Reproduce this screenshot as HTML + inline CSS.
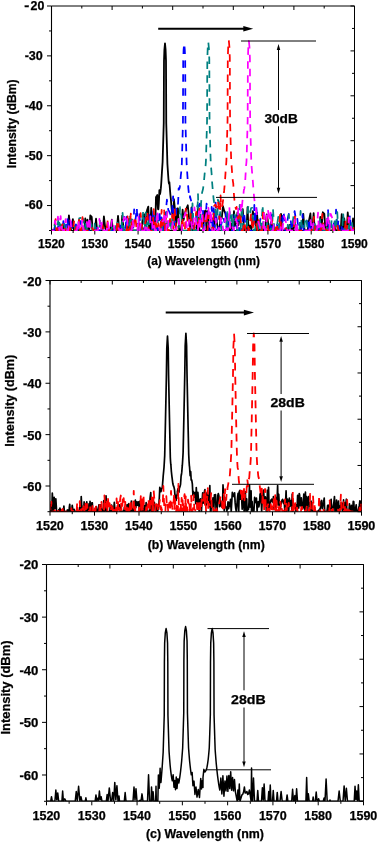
<!DOCTYPE html>
<html><head><meta charset="utf-8"><style>
html,body{margin:0;padding:0;background:#fff;width:378px;height:842px;overflow:hidden}
svg{display:block;will-change:transform}
text{font-family:"Liberation Sans", sans-serif;font-weight:bold;font-size:12px;fill:#000;stroke:#000;stroke-width:0.25px}
</style></head><body>
<svg width="378" height="842" viewBox="0 0 378 842">
<rect width="378" height="842" fill="#fff"/>
<line x1="51.5" y1="6" x2="354.5" y2="6" stroke="#000" stroke-width="1"/>
<line x1="354.5" y1="6" x2="354.5" y2="230.5" stroke="#000" stroke-width="1"/>
<line x1="47" y1="6" x2="51.5" y2="6" stroke="#000" stroke-width="1"/>
<text x="24.39" y="9.9" font-size="12.8" textLength="5.06" lengthAdjust="spacingAndGlyphs">-</text>
<text x="30.53" y="9.87" font-size="12.68" textLength="13.8" lengthAdjust="spacingAndGlyphs">20</text>
<line x1="49" y1="30.94" x2="51.5" y2="30.94" stroke="#000" stroke-width="1"/>
<line x1="47" y1="55.89" x2="51.5" y2="55.89" stroke="#000" stroke-width="1"/>
<text x="24.66" y="59.73" font-size="12" textLength="18.21" lengthAdjust="spacingAndGlyphs">-30</text>
<line x1="49" y1="80.83" x2="51.5" y2="80.83" stroke="#000" stroke-width="1"/>
<line x1="47" y1="105.78" x2="51.5" y2="105.78" stroke="#000" stroke-width="1"/>
<text x="24.66" y="109.62" font-size="12" textLength="18.21" lengthAdjust="spacingAndGlyphs">-40</text>
<line x1="49" y1="130.72" x2="51.5" y2="130.72" stroke="#000" stroke-width="1"/>
<line x1="47" y1="155.67" x2="51.5" y2="155.67" stroke="#000" stroke-width="1"/>
<text x="24.66" y="159.51" font-size="12" textLength="18.21" lengthAdjust="spacingAndGlyphs">-50</text>
<line x1="49" y1="180.61" x2="51.5" y2="180.61" stroke="#000" stroke-width="1"/>
<line x1="47" y1="205.56" x2="51.5" y2="205.56" stroke="#000" stroke-width="1"/>
<text x="24.66" y="209.4" font-size="12" textLength="18.21" lengthAdjust="spacingAndGlyphs">-60</text>
<line x1="49" y1="230.5" x2="51.5" y2="230.5" stroke="#000" stroke-width="1"/>
<line x1="51.5" y1="230.5" x2="51.5" y2="234.5" stroke="#000" stroke-width="1"/>
<text x="37.99" y="247.69" font-size="12.7" textLength="26.84" lengthAdjust="spacingAndGlyphs">1520</text>
<line x1="73.14" y1="230.5" x2="73.14" y2="233" stroke="#000" stroke-width="1"/>
<line x1="94.79" y1="230.5" x2="94.79" y2="234.5" stroke="#000" stroke-width="1"/>
<text x="81.27" y="247.69" font-size="12.7" textLength="26.84" lengthAdjust="spacingAndGlyphs">1530</text>
<line x1="116.43" y1="230.5" x2="116.43" y2="233" stroke="#000" stroke-width="1"/>
<line x1="138.07" y1="230.5" x2="138.07" y2="234.5" stroke="#000" stroke-width="1"/>
<text x="124.56" y="247.69" font-size="12.7" textLength="26.84" lengthAdjust="spacingAndGlyphs">1540</text>
<line x1="159.71" y1="230.5" x2="159.71" y2="233" stroke="#000" stroke-width="1"/>
<line x1="181.36" y1="230.5" x2="181.36" y2="234.5" stroke="#000" stroke-width="1"/>
<text x="167.84" y="247.69" font-size="12.7" textLength="26.84" lengthAdjust="spacingAndGlyphs">1550</text>
<line x1="203" y1="230.5" x2="203" y2="233" stroke="#000" stroke-width="1"/>
<line x1="224.64" y1="230.5" x2="224.64" y2="234.5" stroke="#000" stroke-width="1"/>
<text x="211.13" y="247.69" font-size="12.7" textLength="26.84" lengthAdjust="spacingAndGlyphs">1560</text>
<line x1="246.29" y1="230.5" x2="246.29" y2="233" stroke="#000" stroke-width="1"/>
<line x1="267.93" y1="230.5" x2="267.93" y2="234.5" stroke="#000" stroke-width="1"/>
<text x="254.42" y="247.69" font-size="12.7" textLength="26.84" lengthAdjust="spacingAndGlyphs">1570</text>
<line x1="289.57" y1="230.5" x2="289.57" y2="233" stroke="#000" stroke-width="1"/>
<line x1="311.21" y1="230.5" x2="311.21" y2="234.5" stroke="#000" stroke-width="1"/>
<text x="297.7" y="247.69" font-size="12.7" textLength="26.84" lengthAdjust="spacingAndGlyphs">1580</text>
<line x1="332.86" y1="230.5" x2="332.86" y2="233" stroke="#000" stroke-width="1"/>
<line x1="354.5" y1="230.5" x2="354.5" y2="234.5" stroke="#000" stroke-width="1"/>
<text x="340.99" y="247.69" font-size="12.7" textLength="26.84" lengthAdjust="spacingAndGlyphs">1590</text>
<line x1="51.5" y1="6" x2="51.5" y2="10" stroke="#000" stroke-width="1"/>
<line x1="81.8" y1="6" x2="81.8" y2="8.5" stroke="#000" stroke-width="1"/>
<line x1="112.1" y1="6" x2="112.1" y2="10" stroke="#000" stroke-width="1"/>
<line x1="142.4" y1="6" x2="142.4" y2="8.5" stroke="#000" stroke-width="1"/>
<line x1="172.7" y1="6" x2="172.7" y2="10" stroke="#000" stroke-width="1"/>
<line x1="203" y1="6" x2="203" y2="8.5" stroke="#000" stroke-width="1"/>
<line x1="233.3" y1="6" x2="233.3" y2="10" stroke="#000" stroke-width="1"/>
<line x1="263.6" y1="6" x2="263.6" y2="8.5" stroke="#000" stroke-width="1"/>
<line x1="293.9" y1="6" x2="293.9" y2="10" stroke="#000" stroke-width="1"/>
<line x1="324.2" y1="6" x2="324.2" y2="8.5" stroke="#000" stroke-width="1"/>
<line x1="354.5" y1="6" x2="354.5" y2="10" stroke="#000" stroke-width="1"/>
<line x1="350.5" y1="6" x2="354.5" y2="6" stroke="#000" stroke-width="1"/>
<line x1="352" y1="28.45" x2="354.5" y2="28.45" stroke="#000" stroke-width="1"/>
<line x1="350.5" y1="50.9" x2="354.5" y2="50.9" stroke="#000" stroke-width="1"/>
<line x1="352" y1="73.35" x2="354.5" y2="73.35" stroke="#000" stroke-width="1"/>
<line x1="350.5" y1="95.8" x2="354.5" y2="95.8" stroke="#000" stroke-width="1"/>
<line x1="352" y1="118.25" x2="354.5" y2="118.25" stroke="#000" stroke-width="1"/>
<line x1="350.5" y1="140.7" x2="354.5" y2="140.7" stroke="#000" stroke-width="1"/>
<line x1="352" y1="163.15" x2="354.5" y2="163.15" stroke="#000" stroke-width="1"/>
<line x1="350.5" y1="185.6" x2="354.5" y2="185.6" stroke="#000" stroke-width="1"/>
<line x1="352" y1="208.05" x2="354.5" y2="208.05" stroke="#000" stroke-width="1"/>
<line x1="350.5" y1="230.5" x2="354.5" y2="230.5" stroke="#000" stroke-width="1"/>
<text x="147.31" y="265.24" font-size="12.66" textLength="112.67" lengthAdjust="spacingAndGlyphs">(a) Wavelength (nm)</text>
<text transform="translate(16.34,168.26) rotate(-90)" font-size="12.66" textLength="88.94" lengthAdjust="spacingAndGlyphs">Intensity (dBm)</text>
<line x1="51.5" y1="230.5" x2="354.5" y2="230.5" stroke="#000" stroke-width="1.1"/>
<clipPath id="c1"><rect x="51.5" y="6" width="303" height="225.1"/></clipPath>
<g clip-path="url(#c1)" fill="none" stroke-linejoin="round">
<path d="M50.96,230.5 L61.95,230.5 L63.17,228.83 L64.19,224.27 L65.35,230.5 L67.76,230.5 L68.93,215.31 L70.48,230.5 L71.83,228.14 L72.88,219.14 L74.01,230.5 L75.13,230.5 L76.58,228.46 L78.07,230.5 L82.99,230.5 L84.38,227.81 L85.29,218.48 L86.26,230.5 L87.42,219.56 L88.36,230.5 L89.28,230.5 L90.27,215.46 L91.69,216.9 L92.68,230.5 L95.05,230.5 L96.04,218.76 L97.12,230.5 L102.93,230.5 L103.9,216.33 L105.33,228.7 L106.71,230.5 L110.31,230.5 L111.84,219.74 L112.86,230.5 L114.13,228.9 L115.49,227.97 L116.73,230.5 L118.02,215.91 L119,227.22 L120.17,228.82 L121.27,230.5 L122.21,215.74 L123.75,230.5 L127.53,230.5 L129.06,218.96 L130.25,230.5 L141.55,230.5 L142.84,216.22 L144.11,214.24 L145.67,230.5 L147.03,210.19 L148.29,206.59 L149.19,230.5 L150.05,230.5 L151.24,207.78 L152.44,230.5 L153,229.05 L153.04,228.63 L153.08,228.21 L153.12,227.78 L153.16,227.34 L153.2,226.9 L153.24,226.45 L153.28,226 L153.32,225.54 L153.36,225.08 L153.4,224.61 L153.44,224.13 L153.48,223.65 L153.52,223.16 L153.56,222.67 L153.6,222.17 L153.64,221.66 L153.68,221.15 L153.72,220.63 L153.76,220.11 L153.8,219.58 L153.84,219.04 L153.88,218.5 L153.92,217.95 L153.94,217.66 L153.96,217.94 L154,218.5 L154.04,219.04 L154.08,219.56 L154.12,220.05 L154.16,220.51 L154.2,220.95 L154.24,221.37 L154.28,221.77 L154.32,222.14 L154.36,222.49 L154.4,222.82 L154.44,223.12 L154.48,223.41 L154.52,223.67 L154.56,223.92 L154.6,224.14 L154.64,224.34 L154.68,224.53 L154.72,224.7 L154.76,224.85 L154.8,224.98 L154.84,225.1 L154.88,225.2 L154.92,225.29 L154.96,225.37 L155,225.42 L155,225.39 L155.04,224.83 L155.08,224.24 L155.12,223.6 L155.16,222.93 L155.2,222.21 L155.24,221.45 L155.28,220.64 L155.32,219.77 L155.36,218.86 L155.4,217.89 L155.44,216.86 L155.48,215.77 L155.52,214.63 L155.56,213.42 L155.6,212.15 L155.64,210.82 L155.68,209.43 L155.72,207.97 L155.76,206.46 L155.8,204.88 L155.84,203.24 L155.88,201.55 L155.92,199.8 L155.96,198 L155.98,196.92 L156,196.9 L156.04,196.86 L156.08,196.81 L156.12,196.77 L156.16,196.72 L156.2,196.68 L156.24,196.63 L156.28,196.59 L156.32,196.54 L156.36,196.49 L156.4,196.45 L156.44,196.4 L156.48,196.35 L156.52,196.3 L156.56,196.25 L156.6,196.21 L156.64,196.16 L156.68,196.11 L156.72,196.06 L156.76,196.01 L156.8,195.96 L156.84,195.91 L156.88,195.86 L156.92,195.81 L156.96,195.75 L157,195.7 L157.04,195.62 L157.08,195.53 L157.12,195.44 L157.16,195.36 L157.2,195.27 L157.24,195.18 L157.28,195.09 L157.3,195.04 L157.32,195.78 L157.36,197.12 L157.4,198.38 L157.44,199.57 L157.48,200.69 L157.52,201.73 L157.56,202.69 L157.6,203.59 L157.64,204.4 L157.68,205.14 L157.72,205.81 L157.76,206.42 L157.8,206.95 L157.84,207.42 L157.88,207.83 L157.92,208.18 L157.96,208.48 L158,208.73 L158.04,208.92 L158.08,209.08 L158.12,209.19 L158.16,209.27 L158.2,209.31 L158.28,209.3 L158.32,209.26 L158.36,209.19 L158.37,209.16 L158.4,208.87 L158.44,208.42 L158.48,207.95 L158.52,207.46 L158.56,206.95 L158.6,206.42 L158.64,205.87 L158.68,205.3 L158.72,204.7 L158.76,204.07 L158.8,203.42 L158.84,202.73 L158.88,202.01 L158.92,201.25 L158.96,200.45 L159,199.62 L159.04,198.75 L159.08,197.83 L159.12,196.87 L159.16,195.86 L159.2,194.81 L159.24,193.7 L159.28,192.55 L159.32,191.34 L159.36,190.18 L159.36,190.22 L159.4,190.8 L159.44,191.33 L159.48,191.82 L159.52,192.28 L159.56,192.7 L159.6,193.08 L159.64,193.42 L159.65,193.5 L159.68,193.65 L159.72,193.81 L159.76,193.93 L159.8,194.02 L159.84,194.07 L159.92,194.08 L159.96,194.03 L160,193.96 L160.04,193.86 L160.08,193.73 L160.12,193.59 L160.16,193.41 L160.2,193.22 L160.24,193.01 L160.28,192.78 L160.32,192.54 L160.36,192.28 L160.4,192 L160.44,191.71 L160.48,191.41 L160.52,191.1 L160.56,190.77 L160.6,190.44 L160.64,190.1 L160.68,189.75 L160.72,189.39 L160.76,189.03 L160.8,188.66 L160.84,188.28 L160.86,188.14 L160.88,187.85 L160.92,187.37 L160.96,186.9 L161,186.43 L161.04,185.95 L161.08,185.47 L161.12,184.99 L161.16,184.51 L161.2,184.02 L161.24,183.39 L161.28,182.77 L161.32,182.13 L161.36,181.5 L161.4,180.86 L161.44,180.23 L161.48,179.59 L161.52,178.94 L161.56,178.3 L161.6,177.65 L161.64,177 L161.68,176.35 L161.72,175.69 L161.76,175.03 L161.8,174.37 L161.84,173.7 L161.88,173.03 L161.92,172.36 L161.96,171.68 L161.97,171.48 L162,171.06 L162.04,170.46 L162.08,169.87 L162.12,169.27 L162.16,168.67 L162.2,168.07 L162.24,167.48 L162.28,166.88 L162.32,166.28 L162.36,165.68 L162.4,165.09 L162.44,164.49 L162.48,163.89 L162.52,163.29 L162.56,162.7 L162.6,162.1 L162.64,160.73 L162.68,159.37 L162.72,158 L162.76,156.63 L162.8,155.25 L162.84,153.88 L162.88,152.5 L162.91,151.46 L162.92,151.17 L162.96,149.97 L163,148.73 L163.04,147.47 L163.08,146.19 L163.12,144.89 L163.16,143.57 L163.2,142.23 L163.24,140.88 L163.28,139.52 L163.32,138.15 L163.36,136.77 L163.4,135.38 L163.44,133.99 L163.48,132.59 L163.52,131.18 L163.56,129.77 L163.6,128.36 L163.64,126.94 L163.68,125.52 L163.72,124.09 L163.75,123.02 L163.76,120.38 L163.8,109.77 L163.84,99.15 L163.88,88.52 L163.9,83.2 L163.92,78.71 L163.96,69.74 L164,60.76 L164.04,59.66 L164.08,58.56 L164.12,57.47 L164.16,56.37 L164.2,55.27 L164.24,54.17 L164.28,53.08 L164.32,51.98 L164.36,50.88 L164.36,50.85 L164.4,49.78 L164.44,49.35 L164.48,48.92 L164.52,48.49 L164.56,48.05 L164.6,47.62 L164.64,47.19 L164.68,46.76 L164.72,46.33 L164.76,45.89 L164.8,45.46 L164.84,45.03 L164.88,44.6 L164.92,44.16 L164.96,43.73 L165,43.3 L165.04,43.73 L165.08,44.16 L165.12,44.6 L165.16,45.03 L165.2,45.46 L165.24,45.89 L165.28,46.32 L165.32,46.76 L165.36,47.19 L165.4,47.62 L165.44,48.05 L165.48,48.48 L165.52,48.92 L165.56,49.35 L165.6,49.78 L165.64,50.88 L165.68,51.98 L165.72,53.07 L165.76,54.17 L165.8,55.27 L165.84,56.36 L165.88,57.46 L165.89,57.6 L165.92,58.56 L165.96,59.65 L166,60.75 L166.04,69.73 L166.08,78.7 L166.1,83.18 L166.12,88.5 L166.16,99.11 L166.2,109.72 L166.24,120.3 L166.25,122.94 L166.28,124.01 L166.32,125.43 L166.36,126.86 L166.4,128.28 L166.44,129.71 L166.48,131.13 L166.52,132.55 L166.56,133.97 L166.6,135.39 L166.64,136.8 L166.68,138.22 L166.72,139.63 L166.76,141.04 L166.8,142.45 L166.84,143.86 L166.88,145.26 L166.92,146.66 L166.96,148.06 L167,149.46 L167.04,150.85 L167.05,151.19 L167.08,152.28 L167.12,153.72 L167.16,155.16 L167.2,156.6 L167.24,158.04 L167.28,159.48 L167.32,160.92 L167.36,162.36 L167.4,163.8 L167.44,164.41 L167.48,165.02 L167.52,165.63 L167.56,166.24 L167.6,166.85 L167.64,167.45 L167.68,168.06 L167.72,168.66 L167.76,169.27 L167.8,169.87 L167.84,170.48 L167.88,171.08 L167.92,171.68 L167.96,172.28 L168,172.88 L168.04,173.48 L168.08,174.08 L168.12,174.68 L168.16,175.28 L168.19,175.69 L168.2,175.86 L168.24,176.4 L168.28,176.93 L168.32,177.46 L168.36,177.98 L168.4,178.49 L168.44,178.99 L168.48,179.48 L168.52,179.97 L168.56,180.43 L168.6,180.89 L168.64,181.33 L168.68,181.75 L168.72,182.15 L168.76,182.53 L168.8,182.89 L168.84,183.09 L168.88,183.27 L168.92,183.41 L168.96,183.53 L169,183.61 L169.04,183.66 L169.08,183.67 L169.12,183.64 L169.16,183.56 L169.2,183.43 L169.24,183.26 L169.28,183.03 L169.32,182.74 L169.36,182.4 L169.38,182.17 L169.4,182.38 L169.44,182.89 L169.48,183.39 L169.52,183.89 L169.56,184.4 L169.6,184.9 L169.64,185.4 L169.68,185.91 L169.72,186.41 L169.76,186.91 L169.8,187.41 L169.84,187.91 L169.88,188.41 L169.92,188.91 L169.96,189.41 L170,189.91 L170.04,190.41 L170.08,190.91 L170.12,191.41 L170.16,191.9 L170.2,192.4 L170.24,192.9 L170.28,193.39 L170.32,193.89 L170.35,194.26 L170.36,194.36 L170.4,194.74 L170.44,195.12 L170.48,195.5 L170.52,195.88 L170.56,196.26 L170.6,196.64 L170.64,197.02 L170.68,197.39 L170.72,197.77 L170.76,198.14 L170.8,198.51 L170.84,198.88 L170.88,199.25 L170.92,199.62 L170.93,199.71 L170.96,200.17 L171,200.78 L171.04,201.37 L171.08,201.94 L171.12,202.5 L171.16,203.05 L171.2,203.58 L171.24,204.1 L171.28,204.61 L171.32,205.11 L171.36,205.59 L171.4,206.06 L171.44,206.53 L171.48,206.98 L171.52,207.42 L171.56,207.86 L171.6,208.28 L171.64,208.7 L171.68,209.11 L171.72,209.51 L171.76,209.91 L171.79,210.23 L171.8,210.28 L171.84,210.53 L171.88,210.79 L171.92,211.05 L171.96,211.3 L172,211.56 L172.04,211.81 L172.08,212.07 L172.12,212.32 L172.16,212.58 L172.2,212.83 L172.24,213.08 L172.28,213.34 L172.32,213.59 L172.36,213.84 L172.4,214.1 L172.44,214.35 L172.48,214.6 L172.52,214.85 L172.56,215.1 L172.6,215.36 L172.64,215.61 L172.66,215.75 L172.68,215.78 L172.72,215.82 L172.84,215.82 L172.88,215.76 L172.92,215.68 L172.96,215.57 L173,215.43 L173.04,215.17 L173.08,214.88 L173.12,214.55 L173.16,214.19 L173.2,213.79 L173.24,213.35 L173.28,212.86 L173.32,212.34 L173.36,211.77 L173.4,211.16 L173.44,210.5 L173.48,209.8 L173.52,209.04 L173.56,208.24 L173.6,207.4 L173.64,206.5 L173.68,205.56 L173.72,204.57 L173.76,203.53 L173.8,202.45 L173.84,201.32 L173.88,200.15 L173.91,199.13 L173.92,199.19 L173.96,199.59 L174,199.98 L174.04,200.38 L174.08,200.77 L174.12,201.16 L174.16,201.55 L174.2,201.94 L174.24,202.33 L174.28,202.72 L174.32,203.1 L174.36,203.49 L174.4,203.87 L174.44,204.26 L174.48,204.64 L174.52,205.02 L174.56,205.4 L174.6,205.78 L174.64,206.16 L174.68,206.53 L174.72,206.91 L174.76,207.28 L174.77,207.35 L174.8,208.5 L174.84,209.88 L174.88,211.21 L174.92,212.48 L174.96,213.72 L175,214.9 L175.04,216.03 L175.08,217.12 L175.12,218.16 L175.16,219.16 L175.2,220.1 L175.24,221.01 L175.28,221.86 L175.32,222.68 L175.36,223.46 L175.4,224.19 L175.44,224.89 L175.48,225.56 L175.52,226.19 L175.56,226.78 L175.6,227.35 L175.63,227.69 L175.64,227.65 L175.68,227.54 L175.72,227.41 L175.76,227.27 L175.8,227.1 L175.84,226.91 L175.88,226.71 L175.92,226.48 L175.96,226.23 L176,225.96 L176.04,225.67 L176.08,225.35 L176.12,225.01 L176.16,224.64 L176.2,224.25 L176.24,223.83 L176.28,223.39 L176.32,222.91 L176.36,222.42 L176.4,221.89 L176.44,221.33 L176.48,220.75 L176.52,220.14 L176.56,219.5 L176.6,218.84 L176.64,218.21 L176.64,218.19 L176.68,217.95 L176.72,217.71 L176.76,217.46 L176.8,217.2 L176.84,216.94 L176.88,216.67 L176.92,216.4 L176.96,216.12 L177,215.84 L177.93,208.27 L179.24,230.5 L180.77,230.5 L181.75,223.55 L182.6,209.72 L183.57,220.19 L184.91,213.34 L186.3,208.83 L187.79,205.3 L189.15,218.76 L190.44,230.5 L191.55,207.52 L192.97,230.5 L196.56,230.5 L197.91,207.73 L199.46,230.5 L201.76,230.5 L203.21,229.65 L204.37,211.57 L205.56,210.51 L206.45,230.5 L207.41,211.11 L208.35,218.28 L209.71,230.5 L212.24,230.5 L213.15,218.04 L214.2,230.5 L215.5,209.66 L216.74,221.88 L218.19,230.5 L219.18,230.5 L220.71,216.79 L221.7,218.63 L222.97,206.26 L224.19,210.71 L225.43,213.62 L226.32,220.98 L227.85,230.5 L228.88,228.6 L230.03,230.5 L231.52,223.53 L232.5,230.5 L234.01,211.18 L234.86,225.91 L236.2,222.49 L237.48,212.44 L238.41,225.28 L239.39,220.29 L240.51,217.81 L241.46,215.07 L242.76,209.15 L244.04,230.5 L246.47,230.5 L247.54,207.17 L248.54,230.5 L250.01,225.54 L251.38,229.41 L252.82,211.23 L253.75,214.13 L254.6,214.34 L256.1,230.5 L257.02,212.81 L258.22,230.5 L259.2,229.36 L260.07,230.5 L261.28,230.5 L262.22,227.08 L263.67,230.5 L265.17,230.5 L266.7,214.37 L267.77,220.25 L268.92,230.5 L269.77,230.5 L271.22,222.01 L272.59,227.76 L273.55,230.5 L279.61,230.5 L281.03,213.81 L282.41,230.5 L288.05,230.5 L289.41,225.18 L290.59,224.9 L291.89,230.5 L292.9,230.5 L294.22,218.83 L295.47,230.5 L300.14,230.5 L301.51,223.98 L302.38,224.5 L303.29,213.92 L304.53,230.5 L307.62,230.5 L309.05,220.07 L310.43,213.43 L311.39,230.5 L312.35,230.5 L313.63,213.13 L314.77,230.5 L316.04,226.29 L317.36,230.5 L318.4,230.5 L319.45,227.11 L320.32,216.94 L321.44,230.5 L322.82,212.27 L324.34,213.93 L325.49,230.5 L327.03,221.55 L328.55,230.5 L333.24,230.5 L334.46,223.16 L335.79,230.5 L340.7,230.5 L341.72,214.18 L343.12,230.5 L344.22,218.33 L345.47,230.5 L346.76,230.5 L347.74,212.45 L349.24,230.5 L350.11,226.59 L351.25,230.5 L352.17,230.5 L353.06,218.5 L354.29,230.5 L355.4,230.5" stroke="#000000" stroke-width="1.8"/>
<path d="M51.09,230.5 L52.53,229.72 L53.95,230.5 L55.35,223.92 L56.37,230.5 L57.48,230.5 L59.03,221.53 L60.41,230.5 L62.47,230.5 L63.36,221.2 L64.55,230.5 L65.61,230.5 L66.5,219.3 L67.4,218.08 L68.74,229.25 L69.84,230.5 L70.94,218.34 L72.19,230.5 L74.86,230.5 L75.92,224.28 L77.44,230.5 L78.45,224.92 L79.56,230.5 L80.68,221.06 L82.09,230.5 L90.63,230.5 L92.04,230.4 L93.41,230.5 L95.25,230.5 L96.56,227.67 L97.95,230.5 L114.42,230.5 L115.97,228.65 L116.96,230.5 L118.01,230.5 L118.89,229.69 L120.2,230.5 L121.17,222.68 L122.43,230.5 L123.3,228.13 L124.29,216.85 L125.56,228.01 L126.6,215.53 L127.67,230.5 L130.12,230.5 L131.62,219.34 L133.15,230.5 L134.15,209.47 L135.57,219.22 L136.78,207.73 L138.09,230.5 L139.27,211.9 L140.63,230.5 L141.58,223.61 L142.61,230.5 L143.82,230.5 L145.37,217.49 L146.32,230.5 L148.61,230.5 L149.51,211.59 L150.42,218.47 L151.95,230.5 L153.41,209.05 L154.55,230.5 L155.45,230.5 L156.44,216.28 L157.39,230.5 L158.46,229.05 L159.52,210.26 L160.62,230.5 L161.53,217.31 L163.07,230.5 L164.38,219.04 L165.73,213.03 L166.9,199.7 L168.32,210.18 L169.37,211.59 L170.42,214.49 L171.74,216.85 L172.2,210.04 L172.24,209.46 L172.28,208.88 L172.32,208.3 L172.36,207.71 L172.4,207.13 L172.44,206.54 L172.48,205.94 L172.52,205.35 L172.56,204.75 L172.6,204.15 L172.64,203.55 L172.68,202.94 L172.72,202.33 L172.76,201.72 L172.8,201.11 L172.84,200.49 L172.88,199.88 L172.92,199.26 L172.96,198.64 L173,198.01 L173.04,197.39 L173.08,196.76 L173.11,196.31 L173.12,196.79 L173.16,198.45 L173.2,200.07 L173.24,201.66 L173.28,203.2 L173.32,204.69 L173.36,206.14 L173.4,207.54 L173.44,208.89 L173.48,210.19 L173.52,211.43 L173.56,212.62 L173.6,213.75 L173.64,214.82 L173.68,215.83 L173.72,216.79 L173.76,217.68 L173.8,218.52 L173.84,219.3 L173.88,220.02 L173.92,220.69 L173.96,221.3 L174,221.86 L174.04,222.37 L174.08,222.83 L174.12,223.24 L174.16,223.61 L174.2,223.94 L174.24,224.23 L174.28,224.48 L174.32,224.69 L174.35,224.85 L174.36,224.83 L174.4,224.68 L174.44,224.53 L174.48,224.38 L174.52,224.23 L174.56,224.08 L174.6,223.94 L174.64,223.79 L174.68,223.64 L174.72,223.49 L174.76,223.34 L174.8,223.19 L174.84,223.04 L174.88,222.89 L174.92,222.74 L174.96,222.59 L175,222.44 L175.04,222.29 L175.08,222.14 L175.12,221.99 L175.16,221.83 L175.2,221.68 L175.24,221.53 L175.28,221.38 L175.32,221.23 L175.36,221.08 L175.4,220.92 L175.43,220.8 L175.44,220.73 L175.48,220.37 L175.52,219.99 L175.56,219.6 L175.6,219.2 L175.64,218.78 L175.68,218.36 L175.72,217.91 L175.76,217.46 L175.8,216.98 L175.84,216.49 L175.88,215.99 L175.92,215.47 L175.96,214.93 L176,214.37 L176.04,213.79 L176.08,213.19 L176.12,212.57 L176.16,211.93 L176.2,211.27 L176.24,210.53 L176.28,209.76 L176.32,208.97 L176.34,208.59 L176.36,208.73 L176.4,208.97 L176.44,209.2 L176.48,209.4 L176.52,209.58 L176.56,209.75 L176.6,209.89 L176.64,210.02 L176.68,210.13 L176.72,210.22 L176.76,210.3 L176.8,210.35 L176.84,210.39 L177,210.41 L177.04,210.38 L177.08,210.34 L177.12,210.28 L177.16,210.22 L177.2,210.14 L177.24,210.05 L177.28,209.95 L177.32,209.84 L177.36,209.73 L177.4,209.6 L177.44,209.46 L177.48,209.32 L177.52,209.17 L177.56,209.01 L177.6,208.85 L177.64,208.68 L177.67,208.56 L177.68,208.41 L177.72,207.95 L177.76,207.48 L177.8,206.98 L177.84,206.46 L177.88,205.92 L177.92,205.35 L177.96,204.75 L178,204.13 L178.04,203.47 L178.08,202.78 L178.12,202.05 L178.16,201.28 L178.2,200.46 L178.24,199.61 L178.28,198.71 L178.32,197.75 L178.36,196.75 L178.4,195.69 L178.44,194.58 L178.48,193.41 L178.52,192.19 L178.56,190.9 L178.6,189.56 L178.64,188.28 L178.64,188.3 L178.68,188.49 L178.72,188.67 L178.76,188.84 L178.8,188.99 L178.84,189.14 L178.85,189.18 L178.88,189.21 L178.92,189.25 L179.08,189.25 L179.12,189.22 L179.16,189.18 L179.2,189.12 L179.24,189.05 L179.28,188.97 L179.32,188.87 L179.36,188.77 L179.4,188.65 L179.44,188.52 L179.48,188.38 L179.52,188.23 L179.56,188.06 L179.6,187.89 L179.64,187.71 L179.68,187.52 L179.72,187.32 L179.76,187.1 L179.8,186.88 L179.84,186.66 L179.88,186.42 L179.9,186.28 L179.92,186.11 L179.96,185.7 L180,185.29 L180.04,184.88 L180.08,184.47 L180.12,184.06 L180.16,183.66 L180.2,183.25 L180.24,182.84 L180.28,182.43 L180.32,182.02 L180.36,181.61 L180.4,181.2 L180.44,180.67 L180.48,180.13 L180.52,179.6 L180.56,179.06 L180.6,178.53 L180.64,177.99 L180.68,177.45 L180.72,176.92 L180.76,176.38 L180.8,175.84 L180.84,175.3 L180.86,175.08 L180.88,174.95 L180.92,174.7 L180.96,174.42 L181,174.1 L181.04,173.75 L181.08,173.38 L181.12,172.99 L181.16,172.57 L181.2,172.14 L181.24,171.69 L181.28,171.22 L181.32,170.74 L181.36,170.25 L181.4,169.75 L181.44,169.24 L181.48,168.72 L181.52,168.19 L181.56,167.66 L181.6,167.12 L181.64,166.57 L181.68,166.02 L181.72,165.47 L181.75,165.07 L181.76,164.9 L181.8,164.3 L181.84,162.85 L181.88,161.41 L181.92,159.96 L181.96,158.52 L182,157.07 L182.04,155.62 L182.08,154.18 L182.12,152.73 L182.16,151.28 L182.2,149.84 L182.24,148.39 L182.28,146.94 L182.32,145.49 L182.36,144.05 L182.4,142.6 L182.44,141.15 L182.48,139.7 L182.52,138.25 L182.56,136.81 L182.6,135.36 L182.64,133.91 L182.68,132.46 L182.72,131.01 L182.76,129.56 L182.8,128.11 L182.84,126.66 L182.88,125.21 L182.9,124.63 L182.92,123.8 L182.95,122.76 L182.96,120.15 L183,109.64 L183.04,99.07 L183.08,88.47 L183.1,83.17 L183.12,78.69 L183.16,69.72 L183.2,60.75 L183.24,59.65 L183.28,58.56 L183.32,57.46 L183.36,56.36 L183.4,55.27 L183.44,54.17 L183.48,53.07 L183.52,51.98 L183.56,50.88 L183.6,49.78 L183.64,49.35 L183.68,48.92 L183.72,48.49 L183.76,48.05 L183.8,47.62 L183.84,47.19 L183.88,46.76 L183.92,46.32 L183.96,45.89 L184,45.46 L184.04,45.03 L184.08,44.6 L184.12,44.16 L184.16,43.73 L184.2,43.3 L184.24,43.73 L184.28,44.16 L184.29,44.25 L184.32,44.6 L184.36,45.03 L184.4,45.46 L184.44,45.89 L184.48,46.33 L184.52,46.76 L184.56,47.19 L184.6,47.62 L184.64,48.05 L184.68,48.49 L184.72,48.92 L184.76,49.35 L184.8,49.78 L184.84,50.88 L184.88,51.98 L184.92,53.07 L184.96,54.17 L185,55.27 L185.04,56.36 L185.08,57.46 L185.12,58.56 L185.16,59.65 L185.2,60.75 L185.24,69.72 L185.28,78.69 L185.3,83.18 L185.32,88.49 L185.36,99.09 L185.4,109.67 L185.41,111.26 L185.44,120.21 L185.45,122.84 L185.48,123.9 L185.52,125.31 L185.56,126.72 L185.6,128.13 L185.64,129.54 L185.68,130.94 L185.72,132.34 L185.76,133.73 L185.8,135.12 L185.84,136.5 L185.88,137.89 L185.92,139.26 L185.96,140.63 L186,141.99 L186.04,143.35 L186.08,144.7 L186.12,146.04 L186.16,147.37 L186.2,148.69 L186.24,150.01 L186.26,150.57 L186.28,151.39 L186.32,152.83 L186.36,154.28 L186.4,155.72 L186.44,157.17 L186.48,158.61 L186.52,160.06 L186.56,161.5 L186.6,162.94 L186.64,163.59 L186.68,164.24 L186.72,164.88 L186.76,165.52 L186.8,166.16 L186.84,166.79 L186.88,167.43 L186.92,168.06 L186.96,168.69 L187,169.32 L187.04,169.95 L187.08,170.57 L187.12,171.2 L187.16,171.82 L187.2,172.44 L187.24,173.06 L187.28,173.68 L187.32,174.29 L187.36,174.91 L187.4,175.52 L187.44,176.13 L187.48,176.74 L187.52,177.36 L187.56,177.96 L187.6,178.57 L187.64,179.18 L187.68,179.79 L187.72,180.39 L187.76,181 L187.8,181.6 L187.8,181.66 L187.84,182.18 L187.88,182.75 L187.92,183.32 L187.96,183.89 L188,184.46 L188.04,184.89 L188.08,185.32 L188.12,185.74 L188.16,186.17 L188.2,186.6 L188.24,187.02 L188.28,187.45 L188.32,187.87 L188.36,188.3 L188.4,188.72 L188.44,189.15 L188.48,189.57 L188.52,190 L188.56,190.42 L188.6,190.85 L188.64,191.27 L188.68,191.69 L188.72,192.12 L188.76,192.54 L188.8,192.96 L188.84,193.38 L188.88,193.8 L188.92,194.23 L188.96,194.65 L189,195.07 L189.04,195.49 L189.08,195.91 L189.12,196.32 L189.12,196.33 L189.16,196.65 L189.2,196.97 L189.24,197.26 L189.28,197.55 L189.32,197.81 L189.36,198.05 L189.4,198.27 L189.44,198.47 L189.48,198.64 L189.52,198.77 L189.55,198.86 L189.56,198.85 L189.6,198.78 L189.64,198.68 L189.68,198.55 L189.72,198.38 L189.76,198.16 L189.8,197.9 L189.84,197.59 L189.88,197.23 L189.92,196.82 L189.96,196.35 L189.97,196.19 L190,196.31 L190.04,196.48 L190.08,196.65 L190.12,196.83 L190.16,197 L190.2,197.17 L190.24,197.33 L190.28,197.5 L190.32,197.67 L190.36,197.83 L190.4,198 L190.44,198.16 L190.48,198.32 L190.52,198.48 L190.56,198.64 L190.6,198.8 L190.64,198.96 L190.68,199.12 L190.72,199.27 L190.76,199.43 L190.8,199.58 L190.84,199.73 L190.88,199.89 L190.92,200.04 L190.96,200.19 L191,200.33 L191.04,200.48 L191.08,200.63 L191.12,200.77 L191.16,200.92 L191.2,201.06 L191.24,201.2 L191.28,201.34 L191.28,201.34 L191.32,202.14 L191.36,202.95 L191.4,203.75 L191.44,204.52 L191.48,205.28 L191.52,206.02 L191.56,206.74 L191.6,207.45 L191.64,208.14 L191.68,208.81 L191.72,209.47 L191.76,210.11 L191.8,210.74 L191.84,211.36 L191.88,211.96 L191.92,212.54 L191.96,213.12 L192,213.68 L192.04,214.22 L192.08,214.76 L192.12,215.28 L192.16,215.79 L192.2,216.3 L192.24,216.7 L192.28,217.09 L192.32,217.47 L192.36,217.84 L192.4,218.2 L192.44,218.55 L192.48,218.9 L192.49,218.96 L192.52,219.09 L192.56,219.24 L192.6,219.39 L192.64,219.55 L192.68,219.7 L192.72,219.85 L192.76,220.01 L192.8,220.16 L192.84,220.31 L192.88,220.47 L192.92,220.62 L192.96,220.77 L193,220.92 L193.04,221.08 L193.08,221.23 L193.12,221.38 L193.16,221.53 L193.2,221.68 L193.24,221.83 L193.28,221.99 L193.32,222.14 L193.36,222.29 L193.4,222.44 L193.44,222.59 L193.48,222.74 L193.52,222.89 L193.56,223.04 L193.6,223.19 L193.64,223.34 L193.68,223.49 L193.72,223.64 L193.76,223.79 L193.8,223.94 L193.84,224.08 L193.88,224.23 L193.92,224.38 L193.92,224.39 L193.96,224.53 L194,224.68 L194.04,224.83 L194.08,224.97 L194.12,225.12 L194.16,225.27 L194.2,225.42 L194.24,225.56 L194.28,225.71 L194.32,225.86 L194.36,226 L194.4,226.15 L194.44,226.29 L194.48,226.44 L194.52,226.59 L194.56,226.73 L194.6,226.88 L194.64,227.02 L194.68,227.17 L194.72,227.31 L194.76,227.46 L194.8,227.6 L194.84,227.74 L194.88,227.87 L194.88,227.87 L194.92,227.79 L194.96,227.7 L195,227.59 L195.04,227.47 L195.08,227.33 L195.12,227.18 L195.16,227.01 L195.2,226.83 L195.24,226.63 L195.28,226.41 L195.32,226.17 L195.36,225.91 L195.4,225.64 L195.44,225.34 L195.48,225.02 L195.52,224.69 L195.56,224.33 L195.6,223.95 L195.64,223.55 L195.68,223.13 L195.72,222.69 L195.76,222.22 L195.8,221.73 L195.84,221.22 L195.88,220.69 L195.92,220.14 L195.96,219.56 L196,218.96 L196.04,218.34 L196.08,217.7 L196.12,217.04 L196.16,216.35 L196.2,215.65 L196.37,212.63 L197.57,205.02 L199.12,206.33 L200.56,200.22 L201.85,226.41 L202.87,208.78 L203.94,230.5 L205.04,226.64 L206.58,203.52 L207.82,214.22 L208.85,230.5 L210.4,230.5 L211.67,206.88 L212.72,230.5 L213.73,206.96 L214.71,229.37 L215.57,202.52 L217.09,230.5 L218.15,230.5 L219.52,214.45 L220.94,225.99 L222.12,220.56 L223.37,216.69 L224.4,222.19 L225.7,212.32 L226.64,230.5 L227.91,219.92 L229.2,230.5 L233.22,230.5 L234.36,215.42 L235.85,216.62 L237,230.5 L238.07,210.74 L239.56,230.5 L240.83,230.5 L241.89,229.92 L242.82,217.24 L243.94,211.59 L245.16,222.99 L246.29,229.96 L247.78,230.5 L253.41,230.5 L254.33,204.96 L255.17,223.54 L256.25,206.95 L257.68,222.13 L258.94,230.5 L260.42,218.53 L261.94,230.5 L263.12,224.2 L264.62,230.5 L265.6,230.5 L266.7,227.6 L268.17,230.5 L270.13,230.5 L271.01,214.18 L272.08,230.5 L275.99,230.5 L276.89,224.88 L278.24,227.86 L279.25,230.5 L280.66,217.13 L282.14,230.5 L283.14,211.19 L284.46,217.63 L285.37,230.5 L286.52,230.5 L287.75,218.53 L288.79,213.96 L289.69,215.03 L290.71,219.69 L291.69,230.5 L293.24,221.63 L294.62,211.13 L295.82,219.51 L297.12,217.22 L298.53,230.5 L301.06,230.5 L302.59,214.49 L303.55,230.5 L305.95,230.5 L307.36,221.02 L308.36,230.5 L309.56,218.6 L310.91,230.5 L312.38,228.59 L313.24,230.5 L317.56,230.5 L318.97,228.71 L320.03,224.94 L321.32,230.5 L323.26,230.5 L324.22,228.41 L325.56,230.5 L326.96,222.78 L328.07,210.21 L328.94,230.5 L331.27,230.5 L332.64,226.59 L334.12,223.18 L335.18,230.5 L336.07,209.63 L337.46,230.5 L338.47,219.61 L339.48,230.5 L340.99,224.43 L342.54,230.5 L343.41,230.5 L344.72,224.29 L346.06,230.5 L348.5,230.5 L349.94,214.46 L350.94,227.87 L352.17,227.42 L353.17,230.5 L354.23,230.5" stroke="#0000ff" stroke-width="1.75" stroke-dasharray="7.5,6.4" stroke-dashoffset="12.49"/>
<path d="M50.68,230.5 L53.67,230.5 L54.64,224.13 L56.14,230.5 L57.18,228.92 L58.69,216.63 L60.05,230.5 L60.91,224.27 L61.81,230.5 L62.88,230.5 L64.09,224.06 L65.1,228.95 L66.37,225.69 L67.52,230.5 L69.48,230.5 L70.8,227.85 L71.85,230.5 L72.98,230.5 L74.44,226.07 L75.53,230.5 L77.63,230.5 L79.18,218.34 L80.68,217.95 L82,230.5 L83.46,219.08 L84.37,230.5 L85.49,224.15 L86.57,230.5 L87.61,223.75 L88.79,218.36 L89.8,224.98 L90.95,220.03 L92.29,230.5 L93.64,223.94 L94.74,223.67 L95.62,230.5 L99.04,230.5 L100.29,218.19 L101.27,230.5 L110.11,230.5 L111.6,229.16 L112.81,224.48 L114.35,227.98 L115.36,230.5 L116.37,220.63 L117.49,221.67 L118.8,230.5 L121.52,230.5 L122.6,212.81 L123.67,230.5 L128.69,230.5 L129.8,214.35 L131.02,226.03 L132.1,219.57 L133.03,230.31 L133.94,230.5 L137.22,230.5 L138.68,225.4 L139.89,230.5 L142.03,230.5 L143.11,211.41 L144.55,230.5 L145.8,212.32 L147.09,230.5 L148.51,221.22 L149.83,226.64 L150.68,230.5 L155.4,230.5 L156.95,211.24 L157.88,223.64 L159.24,230.5 L160.17,230.5 L161.4,221.06 L162.46,230.5 L163.91,220.48 L165.19,230.5 L166.74,211.57 L167.97,230.5 L168.92,228.71 L170.43,217.46 L171.36,230.5 L172.6,213.31 L173.64,217.48 L174.75,230.2 L175.63,230.5 L176.69,226.21 L177.88,230.5 L178.87,230.5 L180.06,207.09 L181.18,214.72 L182.49,230.5 L186.16,230.5 L187.52,229.33 L188.48,227.56 L189.58,230.5 L190.64,228.24 L191.63,230.5 L192.48,203.3 L193.89,230.5 L196.46,230.5 L196.5,230.31 L196.54,229.79 L196.58,229.25 L196.62,228.69 L196.66,228.11 L196.7,227.51 L196.74,226.89 L196.78,226.24 L196.82,225.58 L196.86,224.88 L196.9,224.16 L196.94,223.42 L196.98,222.65 L197.02,221.85 L197.06,221.03 L197.1,220.18 L197.14,219.31 L197.18,218.4 L197.22,217.47 L197.26,216.51 L197.3,215.53 L197.34,214.51 L197.38,213.47 L197.42,212.41 L197.46,211.31 L197.5,210.19 L197.54,209.05 L197.58,207.87 L197.62,206.68 L197.66,205.46 L197.7,204.21 L197.74,202.95 L197.78,201.66 L197.82,200.34 L197.86,199.01 L197.9,197.66 L197.94,196.29 L197.98,194.9 L198,194.05 L198.02,194.79 L198.06,196.6 L198.1,198.36 L198.14,200.06 L198.18,201.7 L198.22,203.29 L198.26,204.81 L198.3,206.26 L198.34,207.64 L198.38,208.95 L198.42,210.19 L198.46,211.36 L198.5,212.45 L198.54,213.47 L198.58,214.41 L198.62,215.29 L198.66,216.09 L198.7,216.82 L198.74,217.49 L198.78,218.09 L198.82,218.63 L198.86,219.11 L198.9,219.54 L198.94,219.91 L198.98,220.24 L199.02,220.52 L199.06,220.76 L199.1,220.96 L199.13,221.1 L199.14,221.07 L199.18,220.92 L199.22,220.77 L199.26,220.62 L199.3,220.46 L199.34,220.31 L199.38,220.16 L199.42,220.01 L199.46,219.85 L199.5,219.7 L199.54,219.55 L199.58,219.39 L199.62,219.24 L199.66,219.08 L199.7,218.93 L199.74,218.78 L199.78,218.62 L199.82,218.47 L199.86,218.31 L199.9,218.16 L199.94,218 L199.98,217.85 L200.02,217.69 L200.06,217.54 L200.1,217.38 L200.14,217.22 L200.15,217.17 L200.18,216.93 L200.22,216.55 L200.26,216.15 L200.3,215.74 L200.34,215.22 L200.38,214.69 L200.42,214.14 L200.46,213.57 L200.5,212.98 L200.54,212.37 L200.58,211.74 L200.62,211.09 L200.66,210.42 L200.7,209.72 L200.74,209 L200.78,208.25 L200.82,207.48 L200.86,206.68 L200.9,205.86 L200.94,205 L200.98,204.12 L201.01,203.42 L201.02,203.33 L201.06,202.94 L201.1,202.56 L201.14,202.17 L201.18,201.78 L201.22,201.4 L201.26,201.01 L201.3,200.62 L201.34,200.23 L201.38,199.84 L201.42,199.45 L201.46,199.05 L201.5,198.66 L201.54,198.27 L201.58,197.87 L201.62,197.47 L201.66,197.08 L201.7,196.68 L201.74,196.28 L201.78,195.88 L201.82,195.48 L201.86,195.08 L201.9,194.68 L201.94,194.28 L201.98,193.87 L202.02,193.47 L202.06,193.06 L202.1,192.66 L202.13,192.35 L202.14,192.31 L202.18,192.17 L202.22,192.03 L202.26,191.89 L202.3,191.75 L202.34,191.6 L202.38,191.46 L202.42,191.31 L202.46,191.16 L202.5,191.02 L202.54,190.87 L202.58,190.72 L202.62,190.57 L202.66,190.41 L202.7,190.26 L202.74,190.11 L202.78,189.95 L202.82,189.8 L202.86,189.64 L202.9,189.48 L202.94,189.32 L202.95,189.28 L202.98,189.09 L203.02,188.83 L203.06,188.58 L203.1,188.31 L203.14,188.05 L203.18,187.78 L203.22,187.52 L203.26,187.25 L203.3,186.97 L203.34,186.7 L203.38,186.42 L203.42,186.14 L203.46,185.86 L203.5,185.58 L203.54,185.29 L203.55,185.19 L203.58,184.93 L203.62,184.52 L203.66,184.1 L203.7,183.69 L203.74,183.28 L203.78,182.87 L203.82,182.46 L203.86,182.05 L203.9,181.64 L203.94,181.23 L203.98,180.82 L204.02,180.41 L204.06,180 L204.1,179.59 L204.14,179.17 L204.18,178.76 L204.22,178.35 L204.26,177.94 L204.3,177.53 L204.34,177.12 L204.38,176.71 L204.42,176.29 L204.46,175.88 L204.5,175.47 L204.54,174.96 L204.58,174.44 L204.62,173.93 L204.65,173.55 L204.66,173.51 L204.7,173.32 L204.74,173.11 L204.78,172.89 L204.82,172.65 L204.86,172.4 L204.9,172.13 L204.94,171.85 L204.98,171.55 L205.02,171.24 L205.06,170.91 L205.1,170.58 L205.14,170.23 L205.18,169.86 L205.22,169.49 L205.26,169.11 L205.3,168.71 L205.34,168.31 L205.38,167.89 L205.42,167.47 L205.46,167.04 L205.5,166.6 L205.54,166.15 L205.58,165.69 L205.62,165.23 L205.66,164.76 L205.7,164.29 L205.72,164.04 L205.74,163.76 L205.78,163.19 L205.82,162.62 L205.86,162.04 L205.9,161.47 L205.94,160.1 L205.98,158.73 L206.02,157.36 L206.06,155.98 L206.1,154.6 L206.14,153.22 L206.18,151.84 L206.22,150.45 L206.26,149.06 L206.3,147.67 L206.34,146.28 L206.38,144.88 L206.42,143.48 L206.46,142.09 L206.5,140.68 L206.54,139.28 L206.58,137.88 L206.62,136.47 L206.66,135.06 L206.7,133.65 L206.74,132.24 L206.78,130.83 L206.82,129.42 L206.86,128.01 L206.9,126.59 L206.94,125.17 L206.98,123.76 L207.02,122.34 L207.05,121.27 L207.06,118.66 L207.09,109.55 L207.1,108.17 L207.14,97.64 L207.18,87.06 L207.2,81.75 L207.22,77.28 L207.26,68.31 L207.3,59.34 L207.34,58.25 L207.38,57.15 L207.42,56.06 L207.46,54.96 L207.5,53.87 L207.54,52.77 L207.58,51.67 L207.62,50.58 L207.66,49.48 L207.7,48.38 L207.74,47.95 L207.78,47.52 L207.82,47.09 L207.86,46.65 L207.9,46.22 L207.94,45.79 L207.98,45.36 L208.02,44.92 L208.06,44.49 L208.1,44.06 L208.14,43.63 L208.18,43.2 L208.22,42.76 L208.26,42.33 L208.3,41.9 L208.33,42.2 L208.34,42.33 L208.38,42.76 L208.42,43.2 L208.46,43.63 L208.5,44.06 L208.54,44.49 L208.58,44.93 L208.62,45.36 L208.66,45.79 L208.7,46.22 L208.74,46.65 L208.78,47.09 L208.82,47.52 L208.86,47.95 L208.9,48.38 L208.94,49.48 L208.98,50.58 L209.02,51.67 L209.06,52.77 L209.1,53.87 L209.14,54.97 L209.18,56.06 L209.22,57.16 L209.26,58.26 L209.3,59.23 L209.3,59.35 L209.34,68.33 L209.38,77.3 L209.4,81.78 L209.42,87.1 L209.46,97.72 L209.5,108.33 L209.54,118.92 L209.55,121.56 L209.58,122.63 L209.62,124.07 L209.66,125.49 L209.7,126.92 L209.74,128.35 L209.78,129.78 L209.82,131.21 L209.86,132.63 L209.9,134.06 L209.94,135.48 L209.98,136.91 L210.02,138.33 L210.06,139.75 L210.1,141.17 L210.14,142.59 L210.18,144.01 L210.22,145.42 L210.26,146.84 L210.3,148.25 L210.34,149.66 L210.38,151.07 L210.39,151.35 L210.42,152.47 L210.46,153.86 L210.5,155.25 L210.54,156.63 L210.58,158.01 L210.62,159.38 L210.66,160.75 L210.7,162.1 L210.74,162.64 L210.78,163.18 L210.82,163.72 L210.86,164.25 L210.9,164.78 L210.94,165.31 L210.98,165.83 L211.02,166.36 L211.06,166.88 L211.1,167.4 L211.14,167.91 L211.18,168.43 L211.22,168.94 L211.26,169.44 L211.3,169.95 L211.34,170.45 L211.38,170.94 L211.42,171.44 L211.46,171.92 L211.5,172.41 L211.54,172.89 L211.58,173.37 L211.59,173.48 L211.62,174 L211.66,174.68 L211.7,175.36 L211.74,176.04 L211.78,176.71 L211.82,177.38 L211.86,178.04 L211.9,178.7 L211.94,179.36 L211.98,180.02 L212.02,180.67 L212.06,181.33 L212.1,181.97 L212.14,182.48 L212.18,182.99 L212.22,183.5 L212.26,184 L212.3,184.49 L212.34,184.99 L212.38,185.48 L212.42,185.97 L212.46,186.46 L212.5,186.95 L212.54,187.43 L212.58,187.91 L212.62,188.39 L212.66,188.87 L212.7,189.35 L212.74,189.82 L212.78,190.29 L212.82,190.72 L212.82,190.76 L212.86,191.19 L212.9,191.61 L212.94,192.03 L212.98,192.45 L213.02,192.88 L213.06,193.3 L213.1,193.72 L213.14,194.14 L213.18,194.56 L213.22,194.99 L213.26,195.41 L213.3,195.83 L213.34,196.25 L213.38,196.67 L213.42,197.08 L213.46,197.5 L213.5,197.92 L213.54,198.34 L213.58,198.76 L213.62,199.18 L213.65,199.49 L213.66,199.55 L213.7,199.82 L213.74,200.08 L213.78,200.35 L213.8,200.51 L213.82,200.61 L213.86,200.88 L213.9,201.14 L213.94,201.41 L213.98,201.67 L214.02,201.94 L214.06,202.2 L214.1,202.46 L214.14,202.73 L214.18,202.99 L214.22,203.25 L214.26,203.51 L214.3,203.78 L214.34,204.04 L214.38,204.3 L214.42,204.56 L214.46,204.83 L214.5,205.09 L214.54,205.35 L214.58,205.61 L214.62,205.87 L214.66,206.13 L214.7,206.39 L214.74,206.65 L214.78,206.91 L214.82,207.17 L214.86,207.43 L214.87,207.53 L214.9,207.69 L214.94,207.95 L214.98,208.21 L215.02,208.47 L215.06,208.73 L215.1,208.98 L215.14,209.24 L215.18,209.5 L215.22,209.76 L215.26,210.01 L215.3,210.27 L215.34,210.53 L215.38,210.78 L215.42,211.04 L215.46,211.3 L215.5,211.55 L215.54,211.81 L215.58,212.06 L215.62,212.32 L215.66,212.57 L215.7,212.82 L215.74,213.08 L215.78,213.33 L215.79,213.41 L215.82,213.59 L215.86,213.84 L215.9,214.09 L215.94,214.34 L215.98,214.6 L216.02,214.85 L216.06,215.1 L216.1,215.35 L216.14,215.6 L216.18,215.85 L216.22,216.1 L216.26,216.35 L216.3,216.6 L216.34,216.76 L216.38,216.91 L216.42,217.07 L216.46,217.22 L216.5,217.38 L216.54,217.54 L216.58,217.69 L216.62,217.85 L216.66,218 L216.7,218.16 L216.74,218.31 L216.78,218.47 L216.82,218.62 L216.86,218.78 L216.9,218.93 L216.94,219.08 L216.94,219.09 L216.98,218.97 L217.02,218.8 L217.06,218.59 L217.1,218.35 L217.14,218.07 L217.18,217.74 L217.22,217.36 L217.26,216.93 L217.3,216.45 L217.34,215.9 L217.38,215.3 L217.42,214.63 L217.46,213.9 L217.5,213.1 L217.54,212.23 L217.58,211.29 L217.62,210.27 L217.66,209.18 L217.7,208.02 L217.74,206.79 L217.78,205.49 L217.82,204.11 L217.86,202.67 L217.9,201.16 L217.94,199.59 L217.94,199.56 L217.98,199.64 L218.02,199.73 L218.06,199.81 L218.1,199.9 L218.14,199.98 L218.18,200.07 L218.22,200.15 L218.26,200.23 L218.3,200.32 L218.34,200.4 L218.38,200.48 L218.42,200.57 L218.46,200.65 L218.5,200.73 L218.54,200.81 L218.58,200.9 L218.62,200.98 L218.66,201.06 L218.7,201.14 L218.74,201.23 L218.78,201.31 L218.82,201.39 L218.86,201.47 L218.9,201.55 L218.91,201.57 L218.94,201.87 L218.98,202.25 L219.02,202.63 L219.06,203.01 L219.1,203.39 L219.14,203.77 L219.18,204.15 L219.22,204.52 L219.26,204.9 L219.3,205.27 L219.34,205.65 L219.38,206.02 L219.42,206.4 L219.46,206.77 L219.5,207.14 L219.54,207.51 L219.58,207.88 L219.62,208.25 L219.66,208.62 L219.7,208.99 L219.74,209.35 L219.78,209.72 L219.82,210.09 L219.86,210.45 L219.9,210.81 L219.94,211.18 L219.98,211.54 L220.02,211.9 L220.06,212.26 L220.1,212.62 L220.14,212.98 L220.18,213.34 L220.22,213.7 L220.26,214.05 L220.3,214.41 L220.43,215.7 L221.53,230.5 L226.06,230.5 L227.35,212.04 L228.27,230.5 L229.61,209.62 L230.75,223.54 L232.03,214.88 L232.89,230.5 L234.05,212.72 L235.56,216.85 L237.12,230.5 L238.18,230.5 L239.73,204.89 L240.66,230.5 L241.86,205.91 L243.17,230.5 L246.7,230.5 L248.05,207.21 L249.22,205.45 L250.2,212.28 L251.09,208.09 L252.28,207.95 L253.74,230.5 L254.98,230.5 L256.39,221.35 L257.3,222.01 L258.76,230.5 L259.69,221 L261.14,230.5 L262.63,204.81 L263.62,230.5 L266.07,230.5 L267.22,223 L268.29,230.5 L269.33,230.5 L270.67,228.7 L272.01,230.5 L272.94,208.38 L274.22,227.12 L275.78,230.5 L277.15,224.5 L278.28,216.94 L279.43,230.5 L287.28,230.5 L288.8,214.56 L290.07,230.5 L292,230.5 L293.52,215.7 L294.85,222.34 L295.78,230.5 L299.34,230.5 L300.58,210.97 L301.48,223.21 L302.84,230.5 L303.93,230.5 L305.45,217.15 L306.63,221.09 L307.7,230.5 L312.95,230.5 L314.51,221.16 L315.64,230.5 L316.63,230.5 L317.62,228.64 L318.75,230.5 L319.65,216.78 L320.94,230.5 L326.62,230.5 L327.48,219.43 L328.7,213.49 L329.76,230.5 L330.69,230.5 L331.62,219.99 L332.68,230.5 L333.69,230.5 L334.57,221.4 L335.81,230.5 L337.27,212.06 L338.22,230.5 L342.25,230.5 L343.1,212.81 L344.47,230.5 L345.42,230.5 L346.28,224.94 L347.82,230.5 L349.27,222.24 L350.16,229.38 L351.67,220.53 L352.98,230.5 L355.7,230.5" stroke="#008080" stroke-width="1.75" stroke-dasharray="7.5,6.4" stroke-dashoffset="6.26"/>
<path d="M51.14,230.5 L54.41,230.5 L55.58,219.02 L56.46,230.5 L57.7,230.5 L58.7,226.2 L59.76,230.5 L60.77,230.5 L61.96,225.64 L63.5,222.71 L65.03,230.5 L67.36,230.5 L68.62,224.17 L69.83,230.5 L70.71,228.03 L71.74,230.5 L72.89,230.5 L74.02,221.26 L74.92,230.5 L76.36,226.97 L77.79,230.5 L79.09,219.88 L79.97,230.5 L81.2,230.5 L82.5,217.12 L83.89,230.5 L90.58,230.5 L91.74,226.86 L93.11,230.13 L94.55,230.5 L95.78,230.09 L96.85,230.5 L101.24,230.5 L102.42,224.99 L103.53,230.5 L106.37,230.5 L107.77,219.91 L108.73,230.5 L109.72,229.32 L110.81,230.5 L116.64,230.5 L117.65,220 L118.9,230.5 L126.69,230.5 L127.61,216.33 L128.47,230.5 L129.72,230.5 L130.8,213.61 L132.19,230.5 L133.1,230.5 L134.1,221.18 L135.38,216.27 L136.64,230.5 L139.24,230.5 L140.6,213.17 L141.96,226.43 L142.82,230.5 L143.84,226.22 L144.78,225.71 L145.82,220.11 L147.29,211.6 L148.75,230.5 L152.7,230.5 L153.73,209.04 L154.83,230.5 L155.84,222.9 L157.21,230.5 L158.41,223.42 L159.42,230.5 L160.34,230.5 L161.65,209.79 L162.56,229.03 L164.12,210.48 L165,230.5 L165.89,217.89 L167.44,230.5 L168.89,230.5 L170.11,218.93 L171.08,223.2 L172.28,214.5 L173.42,230.01 L174.61,207.83 L175.85,224.5 L176.94,230.5 L181.43,230.5 L182.29,217.19 L183.62,230.5 L184.9,230.5 L185.81,207.85 L186.67,210.09 L188.2,230.5 L189.64,230.5 L190.85,212.69 L192.27,230.06 L193.68,230.5 L195.12,223.15 L196.21,211.94 L197.24,218.12 L198.32,230.5 L199.49,208.63 L200.46,224.85 L201.64,230.5 L202.72,214.07 L203.75,224.39 L205.22,224.72 L206.28,211.38 L207.6,230.5 L208.83,209.59 L209.85,218.51 L211.4,219.2 L212.9,230.5 L214.02,206.04 L215.42,204.59 L216.53,207.57 L216.8,206.05 L216.84,205.85 L216.88,205.65 L216.92,205.45 L216.96,205.26 L217,205.06 L217.04,204.86 L217.08,204.66 L217.12,204.47 L217.16,204.27 L217.2,204.07 L217.24,203.87 L217.28,203.67 L217.32,203.48 L217.36,203.28 L217.4,203.08 L217.44,202.88 L217.48,202.68 L217.52,202.49 L217.56,202.29 L217.6,202.09 L217.64,201.89 L217.68,201.7 L217.72,201.5 L217.76,201.3 L217.8,201.1 L217.84,200.9 L217.88,200.71 L217.91,200.58 L217.92,200.73 L217.96,201.15 L218,201.55 L218.04,201.96 L218.08,202.36 L218.12,202.75 L218.16,203.13 L218.2,203.51 L218.24,203.89 L218.28,204.25 L218.32,204.61 L218.36,204.97 L218.4,205.31 L218.44,205.65 L218.48,205.99 L218.52,206.31 L218.56,206.63 L218.6,206.94 L218.64,207.25 L218.68,207.55 L218.72,207.84 L218.76,208.09 L218.76,208.21 L218.8,209.26 L218.84,210.25 L218.88,211.19 L218.92,212.07 L218.96,212.89 L219,213.66 L219.04,214.38 L219.08,215.04 L219.12,215.65 L219.16,216.2 L219.2,216.71 L219.24,217.17 L219.28,217.59 L219.32,217.96 L219.36,218.29 L219.4,218.59 L219.44,218.85 L219.48,219.07 L219.52,219.26 L219.56,219.42 L219.6,219.55 L219.64,219.66 L219.64,219.66 L219.68,219.21 L219.72,218.71 L219.76,218.16 L219.8,217.59 L219.84,216.97 L219.88,216.31 L219.92,215.61 L219.96,214.86 L220,214.06 L220.04,213.21 L220.08,212.3 L220.12,211.34 L220.16,210.32 L220.2,209.23 L220.24,208.08 L220.28,206.87 L220.32,205.59 L220.36,204.24 L220.4,202.83 L220.44,201.35 L220.48,199.8 L220.52,198.19 L220.56,196.52 L220.59,195.41 L220.6,195.76 L220.64,196.71 L220.68,197.62 L220.72,198.5 L220.76,199.35 L220.8,200.16 L220.84,200.88 L220.88,201.57 L220.92,202.21 L220.96,202.82 L221,203.38 L221.04,203.91 L221.08,204.4 L221.12,204.84 L221.16,205.25 L221.2,205.63 L221.24,205.96 L221.28,206.27 L221.32,206.54 L221.36,206.77 L221.4,206.98 L221.44,207.15 L221.48,207.3 L221.52,207.41 L221.56,207.5 L221.6,207.57 L221.64,207.61 L221.76,207.61 L221.8,207.58 L221.84,207.52 L221.88,207.45 L221.92,207.36 L221.96,207.26 L222,207.14 L222.04,207.01 L222.08,206.88 L222.12,206.74 L222.12,206.72 L222.16,206.46 L222.2,206.2 L222.24,205.94 L222.28,205.68 L222.32,205.42 L222.36,205.15 L222.4,204.89 L222.44,204.63 L222.48,204.37 L222.52,204.11 L222.56,203.84 L222.6,203.58 L222.64,203.32 L222.68,203.06 L222.72,202.79 L222.76,202.53 L222.8,202.27 L222.84,202 L222.88,201.74 L222.92,201.48 L222.96,201.21 L223,200.95 L223.04,200.68 L223.08,200.42 L223.12,200.15 L223.16,199.89 L223.2,199.62 L223.2,199.6 L223.24,199.36 L223.28,199.09 L223.32,198.83 L223.36,198.56 L223.4,198.29 L223.44,198.03 L223.45,197.96 L223.48,197.65 L223.52,197.23 L223.56,196.81 L223.6,196.39 L223.64,195.97 L223.68,195.55 L223.72,195.13 L223.76,194.71 L223.8,194.29 L223.84,193.87 L223.88,193.44 L223.92,193.02 L223.96,192.6 L224,192.18 L224.04,191.75 L224.08,191.33 L224.12,190.91 L224.15,190.64 L224.16,190.47 L224.2,190.02 L224.24,189.56 L224.28,189.1 L224.32,188.65 L224.36,188.19 L224.4,187.73 L224.44,187.27 L224.48,186.81 L224.52,186.35 L224.56,185.89 L224.6,185.43 L224.64,184.97 L224.68,184.51 L224.72,184.05 L224.76,183.58 L224.8,183.12 L224.84,182.66 L224.88,182.19 L224.92,181.73 L224.96,181.26 L225,180.79 L225.04,180.19 L225.08,179.58 L225.12,178.97 L225.16,178.36 L225.2,177.76 L225.24,177.15 L225.28,176.54 L225.32,175.93 L225.36,175.32 L225.4,174.71 L225.44,174.1 L225.48,173.49 L225.52,172.87 L225.56,172.26 L225.6,171.65 L225.64,171.04 L225.67,170.63 L225.68,170.47 L225.72,170.01 L225.76,169.53 L225.8,169.05 L225.84,168.55 L225.88,168.06 L225.92,167.55 L225.96,167.04 L226,166.53 L226.04,166 L226.08,165.48 L226.12,164.95 L226.16,164.42 L226.2,163.88 L226.24,163.34 L226.28,162.79 L226.32,162.25 L226.36,161.7 L226.4,161.14 L226.44,159.75 L226.48,158.34 L226.52,156.94 L226.56,155.53 L226.6,154.11 L226.64,152.7 L226.68,151.28 L226.72,149.86 L226.76,148.43 L226.8,147.01 L226.84,145.58 L226.88,144.15 L226.92,142.72 L226.96,141.29 L226.99,140.05 L227,139.86 L227.04,138.42 L227.08,136.99 L227.12,135.55 L227.16,134.11 L227.2,132.68 L227.24,131.24 L227.28,129.8 L227.32,128.36 L227.36,126.93 L227.4,125.49 L227.44,124.05 L227.48,122.61 L227.52,121.17 L227.55,120.1 L227.56,117.44 L227.6,106.8 L227.64,96.17 L227.68,85.53 L227.7,80.21 L227.72,75.72 L227.76,66.74 L227.8,57.76 L227.84,56.66 L227.88,55.56 L227.92,54.47 L227.96,53.37 L228,52.27 L228.04,51.17 L228.08,50.08 L228.12,48.98 L228.16,47.88 L228.2,46.78 L228.24,46.35 L228.28,45.92 L228.32,45.49 L228.36,45.08 L228.36,45.06 L228.4,44.62 L228.44,44.19 L228.48,43.76 L228.52,43.33 L228.56,42.89 L228.6,42.46 L228.64,42.03 L228.68,41.6 L228.72,41.16 L228.76,40.73 L228.8,40.3 L228.84,40.73 L228.88,41.16 L228.92,41.6 L228.96,42.03 L229,42.46 L229.04,42.89 L229.08,43.32 L229.12,43.76 L229.16,44.19 L229.2,44.62 L229.24,45.05 L229.28,45.49 L229.32,45.92 L229.36,46.35 L229.4,46.78 L229.44,47.88 L229.48,48.98 L229.52,50.07 L229.52,50.19 L229.56,51.17 L229.6,52.27 L229.64,53.37 L229.68,54.46 L229.72,55.56 L229.76,56.66 L229.8,57.76 L229.84,66.73 L229.88,75.71 L229.9,80.2 L229.92,85.52 L229.96,96.15 L230,106.78 L230.04,117.41 L230.05,120.06 L230.08,121.14 L230.12,122.58 L230.16,124.02 L230.2,125.46 L230.24,126.9 L230.28,128.34 L230.32,129.78 L230.36,131.22 L230.4,132.66 L230.44,134.1 L230.48,135.54 L230.52,136.98 L230.56,138.42 L230.56,138.46 L230.6,139.85 L230.64,141.28 L230.68,142.71 L230.72,144.13 L230.76,145.55 L230.8,146.97 L230.84,148.38 L230.88,149.79 L230.92,151.19 L230.96,152.59 L231,153.98 L231.04,155.36 L231.08,156.73 L231.12,158.09 L231.16,159.43 L231.2,160.76 L231.24,161.25 L231.28,161.73 L231.32,162.19 L231.36,162.64 L231.4,163.08 L231.44,163.49 L231.45,163.62 L231.48,164 L231.52,164.56 L231.56,165.12 L231.6,165.68 L231.64,166.24 L231.68,166.8 L231.72,167.35 L231.76,167.91 L231.8,168.47 L231.84,169.03 L231.88,169.58 L231.92,170.14 L231.96,170.69 L232,171.25 L232.04,171.8 L232.08,172.36 L232.12,172.91 L232.16,173.46 L232.2,174.01 L232.24,174.57 L232.28,175.12 L232.32,175.67 L232.33,175.78 L232.36,176.16 L232.4,176.63 L232.44,177.1 L232.48,177.57 L232.52,178.02 L232.56,178.47 L232.6,178.92 L232.64,179.23 L232.68,179.54 L232.72,179.84 L232.76,180.14 L232.8,180.44 L232.84,180.72 L232.88,181.01 L232.92,181.28 L232.96,181.55 L233,181.82 L233.04,182.08 L233.08,182.33 L233.12,182.58 L233.16,182.82 L233.2,183.05 L233.24,183.28 L233.26,183.37 L233.28,183.79 L233.32,184.49 L233.36,185.18 L233.4,185.86 L233.44,186.54 L233.48,187.2 L233.52,187.85 L233.56,188.49 L233.6,189.12 L233.64,189.75 L233.68,190.36 L233.72,190.97 L233.76,191.57 L233.8,192.16 L233.84,192.75 L233.88,193.33 L233.92,193.9 L233.96,194.46 L234,195.02 L234.04,195.58 L234.08,196.12 L234.12,196.67 L234.15,197.07 L234.16,197.17 L234.2,197.55 L234.24,197.93 L234.28,198.31 L234.32,198.68 L234.36,199.04 L234.4,199.4 L234.44,199.75 L234.48,200.1 L234.51,200.32 L234.52,200.42 L234.56,200.68 L234.6,200.95 L234.64,201.21 L234.68,201.48 L234.72,201.74 L234.76,202 L234.8,202.27 L234.84,202.53 L234.88,202.79 L234.92,203.06 L234.96,203.32 L235,203.58 L235.04,203.84 L235.08,204.11 L235.12,204.37 L235.16,204.63 L235.2,204.89 L235.24,205.15 L235.28,205.42 L235.32,205.68 L235.36,205.94 L235.4,206.2 L235.44,206.46 L235.48,206.72 L235.52,206.98 L235.56,207.24 L235.6,207.5 L235.64,207.76 L235.68,208.02 L235.72,208.27 L235.72,208.3 L235.76,208.43 L235.8,208.56 L235.84,208.67 L235.88,208.78 L235.92,208.86 L235.96,208.94 L236,208.99 L236.04,209.03 L236.16,209.04 L236.2,208.99 L236.24,208.93 L236.28,208.84 L236.32,208.72 L236.36,208.58 L236.4,208.4 L236.44,208.2 L236.48,207.96 L236.52,207.69 L236.56,207.39 L236.6,207.05 L236.62,206.84 L236.64,207.11 L236.68,207.76 L236.72,208.39 L236.76,209.01 L236.8,209.61 L236.84,210.14 L236.88,210.65 L236.92,211.14 L236.96,211.63 L237,212.1 L237.04,212.56 L237.08,213.01 L237.12,213.44 L237.16,213.87 L237.2,214.29 L237.24,214.69 L237.28,215.09 L237.32,215.47 L237.36,215.85 L237.4,216.22 L237.44,216.58 L237.48,216.93 L237.52,217.27 L237.56,217.61 L237.6,217.94 L237.64,218.26 L237.68,218.57 L237.69,218.62 L238.04,218.65 L238.08,218.61 L238.12,218.56 L238.16,218.5 L238.2,218.43 L238.24,218.35 L238.28,218.25 L238.32,218.15 L238.36,218.04 L238.4,217.91 L238.44,217.77 L238.48,217.61 L238.52,217.45 L238.56,217.27 L238.6,217.07 L238.64,216.86 L238.68,216.64 L238.72,216.4 L238.76,216.15 L238.8,215.88 L238.84,215.6 L238.88,215.3 L238.92,214.98 L238.96,214.65 L239,214.3 L239.04,213.94 L239.08,213.56 L239.12,213.16 L239.16,212.75 L239.19,212.42 L240.27,212.2 L240.28,212.42 L240.32,213.21 L240.36,213.99 L240.4,214.76 L240.44,215.52 L240.48,216.26 L240.52,217 L240.56,217.72 L240.6,218.42 L240.64,219.12 L240.68,219.81 L240.72,220.48 L240.76,221.14 L240.8,221.78 L241.68,230.5 L242.85,230.5 L244.3,221.61 L245.82,230.5 L246.68,230.5 L247.81,224.98 L248.77,230.5 L249.76,224.25 L251.18,213.07 L252.35,230.36 L253.41,224.2 L254.7,218.99 L255.99,222.28 L257.46,230.5 L258.6,220.21 L259.68,230.5 L262.15,230.5 L263.1,208.8 L264.15,215.14 L265.16,230.5 L266.11,230.5 L267.16,216.61 L268.25,230.5 L270.66,230.5 L271.85,219.88 L273.15,230.5 L275.24,230.5 L276.78,223.2 L277.68,230.5 L278.69,230.5 L280.1,214.83 L281.31,230.5 L284.79,230.5 L285.99,228.24 L286.98,230.5 L293.71,230.5 L294.76,214.55 L295.62,230.5 L301.3,230.5 L302.77,228.46 L304.11,230.5 L311.86,230.5 L313.05,225.29 L313.91,216.91 L314.91,230.5 L316.31,230.5 L317.52,226.82 L318.49,230.5 L320.91,230.5 L322.4,213.95 L323.69,230.5 L325.09,226.7 L326.3,230.5 L328.39,230.5 L329.77,228.22 L331.03,225.79 L331.92,225.26 L333.14,230.5 L334.44,230.5 L335.57,223.01 L337.1,223.79 L338.44,230.5 L344.75,230.5 L345.63,221.54 L346.66,230.5 L348.03,217.46 L349.33,230.5 L352.95,230.5 L353.83,226.89 L355.17,230.5" stroke="#ff0000" stroke-width="1.75" stroke-dasharray="7.5,6.4" stroke-dashoffset="4.63"/>
<path d="M50.99,230.5 L53.67,230.5 L54.96,220.61 L55.89,224.4 L56.74,225.72 L57.92,216.68 L59.37,230.5 L60.63,216.16 L61.56,228.44 L63.02,230.5 L64.16,230.5 L65.64,219.2 L66.99,230.5 L68.09,230.5 L69.26,221.87 L70.39,219.44 L71.56,230.5 L76.82,230.5 L78.19,220.15 L79.72,230.5 L81.04,230.5 L82.35,219.35 L83.58,230.5 L85.51,230.5 L86.91,221.88 L87.9,230.5 L89.46,216.92 L90.34,230.5 L97.89,230.5 L99.44,218.99 L100.52,230.5 L102.04,222.52 L103.26,230.5 L106.75,230.5 L107.89,221.83 L109.07,230.5 L110.62,230.5 L112.15,219.21 L113.04,220.33 L114.38,230.5 L115.49,225.94 L116.72,225.66 L118.03,226.73 L119.5,230.5 L120.52,229.98 L121.42,230.5 L122.79,223.34 L124.13,217.2 L125.59,219.02 L126.94,215.47 L127.93,230.5 L131.7,230.5 L132.7,219.39 L133.65,230.5 L137.39,230.5 L138.35,216.56 L139.35,230.5 L140.81,223.8 L141.82,230.5 L144.81,230.5 L145.72,223.59 L147.27,230.5 L148.73,229.49 L149.58,230.5 L150.55,215.35 L151.89,220.32 L152.94,230.5 L154.03,225.77 L155.08,230.5 L156.15,230.5 L157.18,210.8 L158.36,224.17 L159.84,230.5 L161.13,230.5 L162.47,221.61 L163.59,220.21 L164.81,212.15 L166.29,230.5 L167.35,211.92 L168.63,227.17 L170.1,230.5 L171.43,230.5 L172.81,221.94 L174.04,230.5 L175.6,230.5 L177.04,225.73 L178.58,218.93 L179.64,230.5 L181.75,230.5 L182.6,222.08 L183.9,217.67 L185.41,212.57 L186.68,227.56 L187.86,230.5 L189.18,220.57 L190.41,217.22 L191.71,226.34 L193.02,230.1 L194.41,207.44 L195.65,215.64 L196.68,230.5 L198.04,230.5 L198.92,211.46 L199.86,230.5 L200.82,207.29 L201.89,210.62 L202.86,230.5 L204.15,230.5 L205.02,222.02 L206.45,213.4 L207.43,206.79 L208.44,208.06 L209.76,227 L210.77,209.82 L212.12,230.5 L214.56,230.5 L215.75,218.74 L216.87,230.36 L217.73,230.5 L218.84,227.61 L220.1,230.5 L221.07,218.01 L222.46,224.85 L223.44,230.5 L224.34,230.5 L225.2,218.2 L226.65,230.5 L228.03,230.5 L229.39,207.14 L230.33,228.04 L231.19,230.5 L232.31,226.34 L233.76,230.5 L235.26,220.76 L236.3,218.41 L236.9,226.89 L236.94,227.26 L236.98,227.59 L237.02,227.9 L237.06,228.18 L237.1,228.44 L237.14,228.67 L237.18,228.88 L237.22,229.07 L237.26,229.24 L237.29,229.34 L237.3,229.16 L237.34,228.6 L237.38,228.01 L237.42,227.4 L237.46,226.75 L237.5,226.07 L237.54,225.36 L237.58,224.61 L237.62,223.83 L237.66,223.01 L237.7,222.15 L237.74,221.25 L237.78,220.31 L237.82,219.33 L237.86,218.31 L237.9,217.24 L237.94,216.14 L237.98,214.99 L238.02,213.8 L238.06,212.56 L238.1,211.29 L238.14,209.97 L238.18,208.62 L238.22,207.22 L238.25,206.22 L238.26,206.2 L238.3,206.11 L238.34,206.02 L238.38,205.94 L238.42,205.85 L238.46,205.76 L238.5,205.67 L238.54,205.58 L238.58,205.5 L238.62,205.41 L238.66,205.32 L238.7,205.23 L238.74,205.14 L238.78,205.05 L238.82,204.96 L238.86,204.87 L238.9,204.78 L238.94,204.69 L238.98,204.6 L239.02,204.51 L239.06,204.42 L239.1,204.33 L239.14,204.24 L239.18,204.15 L239.22,204.05 L239.26,203.96 L239.3,203.87 L239.34,203.78 L239.36,203.74 L240.5,203.2 L240.54,203.17 L240.56,203.15 L240.58,203.59 L240.62,204.64 L240.66,205.62 L240.7,206.53 L240.74,207.37 L240.78,208.16 L240.82,208.87 L240.86,209.53 L240.9,210.13 L240.94,210.59 L240.98,211 L241.02,211.35 L241.06,211.65 L241.1,211.89 L241.14,212.09 L241.18,212.25 L241.22,212.37 L241.26,212.45 L241.3,212.49 L241.38,212.49 L241.42,212.45 L241.43,212.43 L241.46,212.17 L241.5,211.8 L241.54,211.41 L241.58,211.02 L241.62,210.63 L241.66,210.23 L241.7,209.82 L241.74,209.41 L241.78,209 L241.82,208.57 L241.86,208.14 L241.9,207.71 L241.94,207.27 L241.98,206.81 L242.02,206.36 L242.06,205.89 L242.1,205.42 L242.14,204.94 L242.18,204.45 L242.22,203.95 L242.26,203.44 L242.3,202.92 L242.34,202.39 L242.38,201.86 L242.41,201.42 L242.42,201.36 L242.46,201.07 L242.5,200.78 L242.54,200.48 L242.58,200.19 L242.62,199.9 L242.66,199.6 L242.7,199.31 L242.74,199.02 L242.78,198.72 L242.82,198.43 L242.86,198.14 L242.9,197.84 L242.94,197.55 L242.98,197.26 L243.02,196.96 L243.06,196.67 L243.1,196.38 L243.14,196.08 L243.18,195.79 L243.22,195.5 L243.26,195.2 L243.3,194.91 L243.34,194.62 L243.38,194.32 L243.42,194.03 L243.46,193.73 L243.5,193.44 L243.54,193.15 L243.55,193.07 L243.58,192.76 L243.62,192.35 L243.66,191.94 L243.7,191.53 L243.74,191.12 L243.78,190.71 L243.82,190.29 L243.86,189.88 L243.89,189.56 L243.9,189.57 L243.94,189.61 L244.02,189.58 L244.06,189.52 L244.1,189.44 L244.14,189.33 L244.18,189.19 L244.22,189.04 L244.26,188.86 L244.3,188.67 L244.34,188.45 L244.38,188.22 L244.42,187.98 L244.46,187.71 L244.5,187.44 L244.54,187.15 L244.58,186.85 L244.62,186.54 L244.66,186.22 L244.7,185.89 L244.74,185.55 L244.78,185.2 L244.82,184.84 L244.86,184.48 L244.9,184.11 L244.94,183.74 L244.98,183.36 L245.02,182.98 L245.06,182.59 L245.1,182.2 L245.12,181.91 L245.14,181.62 L245.18,180.99 L245.22,180.36 L245.26,179.73 L245.3,179.09 L245.34,178.44 L245.38,177.8 L245.42,177.14 L245.46,176.48 L245.5,175.82 L245.54,175.15 L245.58,174.47 L245.62,173.78 L245.66,173.08 L245.7,172.37 L245.74,171.66 L245.78,170.93 L245.82,170.19 L245.86,169.44 L245.9,168.68 L245.94,167.9 L245.98,167.11 L246.02,166.3 L246.06,165.55 L246.06,165.53 L246.1,165.28 L246.14,165 L246.18,164.68 L246.22,164.34 L246.26,163.97 L246.3,163.58 L246.34,163.17 L246.38,162.74 L246.42,162.3 L246.46,161.84 L246.5,161.36 L246.54,160.05 L246.58,158.72 L246.62,157.37 L246.66,156.01 L246.7,154.64 L246.74,153.25 L246.78,151.86 L246.82,150.46 L246.86,149.06 L246.9,147.65 L246.94,146.24 L246.98,144.82 L247.02,143.4 L247.06,141.97 L247.1,140.55 L247.14,139.12 L247.16,138.25 L247.18,137.68 L247.22,136.24 L247.26,134.81 L247.3,133.37 L247.34,131.93 L247.38,130.49 L247.42,129.05 L247.46,127.61 L247.5,126.17 L247.54,124.73 L247.58,123.29 L247.62,121.85 L247.65,120.77 L247.66,118.11 L247.7,107.49 L247.74,96.86 L247.78,86.22 L247.8,80.9 L247.82,76.41 L247.86,67.44 L247.9,58.46 L247.94,57.36 L247.98,56.26 L248.02,55.16 L248.06,54.07 L248.1,52.97 L248.14,51.87 L248.18,50.77 L248.22,49.68 L248.26,48.58 L248.3,47.48 L248.34,47.05 L248.38,46.62 L248.42,46.18 L248.46,45.75 L248.5,45.32 L248.54,44.89 L248.58,44.45 L248.62,44.02 L248.66,43.61 L248.66,43.59 L248.7,43.16 L248.74,42.72 L248.78,42.29 L248.82,41.86 L248.86,41.43 L248.9,41 L248.94,41.43 L248.98,41.86 L249.02,42.29 L249.06,42.73 L249.1,43.16 L249.14,43.59 L249.18,44.02 L249.22,44.46 L249.26,44.89 L249.3,45.32 L249.34,45.75 L249.38,46.19 L249.42,46.62 L249.46,47.05 L249.5,47.48 L249.54,48.58 L249.58,49.68 L249.62,50.78 L249.66,51.87 L249.7,52.97 L249.71,53.22 L249.74,54.07 L249.78,55.17 L249.82,56.26 L249.86,57.36 L249.9,58.46 L249.94,67.44 L249.98,76.42 L250,80.91 L250.02,86.23 L250.06,96.87 L250.1,107.5 L250.14,118.14 L250.15,120.79 L250.18,121.87 L250.22,123.31 L250.26,124.75 L250.3,126.19 L250.34,127.63 L250.38,129.06 L250.42,130.5 L250.46,131.94 L250.5,133.38 L250.54,134.81 L250.58,136.25 L250.62,137.69 L250.66,139.12 L250.7,140.56 L250.74,141.99 L250.78,143.43 L250.82,144.86 L250.86,146.3 L250.9,147.73 L250.94,149.17 L250.98,150.6 L251.02,152.03 L251.06,153.46 L251.1,154.9 L251.11,155.38 L251.14,156.32 L251.18,157.74 L251.22,159.16 L251.26,160.58 L251.3,161.99 L251.34,162.55 L251.38,163.12 L251.42,163.68 L251.46,164.23 L251.5,164.79 L251.54,165.34 L251.58,165.89 L251.62,166.44 L251.66,166.99 L251.7,167.53 L251.74,168.06 L251.78,168.6 L251.82,169.13 L251.86,169.65 L251.9,170.17 L251.94,170.68 L251.98,171.19 L252.02,171.69 L252.06,172.19 L252.1,172.68 L252.14,173.16 L252.18,173.63 L252.22,174.09 L252.26,174.54 L252.3,174.98 L252.34,175.41 L252.38,175.83 L252.42,176.24 L252.46,176.63 L252.5,177 L252.54,177.36 L252.58,177.71 L252.62,178.03 L252.62,178.04 L252.66,178.72 L252.7,179.4 L252.74,179.95 L252.78,180.5 L252.82,181.05 L252.86,181.59 L252.9,182.13 L252.94,182.66 L252.98,183.19 L253.02,183.72 L253.06,184.25 L253.1,184.77 L253.14,185.29 L253.18,185.81 L253.22,186.32 L253.26,186.83 L253.3,187.34 L253.34,187.85 L253.38,188.35 L253.42,188.85 L253.46,189.35 L253.5,189.85 L253.54,190.35 L253.58,190.84 L253.62,191.33 L253.66,191.82 L253.7,192.31 L253.74,192.79 L253.78,193.28 L253.82,193.76 L253.86,194.24 L253.9,194.72 L253.94,195.2 L253.98,195.67 L254.02,196.15 L254.06,196.62 L254.07,196.78 L254.1,197.06 L254.14,197.48 L254.18,197.9 L254.22,198.32 L254.25,198.63 L254.26,198.7 L254.3,198.96 L254.34,199.23 L254.38,199.49 L254.42,199.76 L254.46,200.02 L254.5,200.29 L254.54,200.55 L254.58,200.82 L254.62,201.08 L254.66,201.35 L254.7,201.61 L254.74,201.87 L254.78,202.14 L254.82,202.4 L254.86,202.67 L254.9,202.93 L254.94,203.19 L254.98,203.45 L254.99,203.55 L255.02,203.72 L255.06,203.98 L255.1,204.24 L255.14,204.5 L255.18,204.76 L255.22,205.03 L255.26,205.29 L255.3,205.55 L255.34,205.81 L255.38,206.07 L255.42,206.33 L255.46,206.59 L255.5,206.85 L255.54,207.11 L255.58,207.37 L255.62,207.63 L255.66,207.89 L255.7,208.15 L255.74,208.41 L255.78,208.67 L255.82,208.92 L255.86,209.18 L255.9,209.44 L255.94,209.7 L255.98,209.95 L256.02,210.21 L256.06,210.47 L256.1,210.72 L256.14,210.98 L256.18,211.24 L256.22,211.49 L256.26,211.75 L256.3,212 L256.34,212.26 L256.37,212.43 L256.38,212.51 L256.42,212.77 L256.46,213.02 L256.5,213.27 L256.54,213.53 L256.58,213.78 L256.62,214.03 L256.66,214.29 L256.7,214.54 L256.74,214.79 L256.78,215.04 L256.82,215.29 L256.86,215.54 L256.9,215.79 L256.94,215.95 L256.98,216.11 L257.02,216.26 L257.06,216.42 L257.1,216.58 L257.14,216.73 L257.18,216.89 L257.22,217.04 L257.26,217.2 L257.3,217.36 L257.34,217.51 L257.38,217.67 L257.42,217.82 L257.46,217.98 L257.47,218.01 L257.5,218.13 L257.54,218.29 L257.58,218.44 L257.62,218.6 L257.66,218.75 L257.7,218.91 L257.74,219.06 L257.78,219.21 L257.82,219.37 L257.86,219.52 L257.9,219.67 L257.94,219.83 L257.98,219.98 L258.02,220.13 L258.06,220.29 L258.1,220.44 L258.14,220.59 L258.18,220.75 L258.22,220.9 L258.26,221.05 L258.3,221.2 L258.34,221.35 L258.38,221.51 L258.42,221.66 L258.46,221.81 L258.5,221.96 L258.54,222.11 L258.58,222.26 L258.62,222.41 L258.66,222.56 L258.7,222.71 L258.74,222.86 L258.78,223.01 L258.82,223.16 L258.86,223.31 L258.9,223.46 L258.94,223.61 L258.98,223.76 L259,223.83 L259.02,223.91 L259.06,224.06 L259.1,224.21 L259.14,224.36 L259.18,224.5 L259.22,224.65 L259.26,224.8 L259.3,224.95 L259.34,225.1 L259.38,225.24 L259.42,225.39 L259.46,225.54 L259.5,225.68 L259.54,225.83 L259.58,225.98 L259.62,226.12 L259.66,226.27 L259.7,226.42 L259.74,226.56 L259.78,226.71 L259.82,226.85 L259.86,227 L259.9,227.14 L259.94,227.29 L259.98,227.43 L260.02,227.57 L260.06,227.72 L260.1,227.86 L260.14,228.01 L260.18,228.15 L260.22,228.29 L260.25,228.42 L260.26,228.44 L260.3,228.58 L260.34,228.72 L260.38,228.86 L260.42,229.01 L260.46,229.15 L260.5,229.29 L260.54,229.43 L260.58,229.57 L260.62,229.71 L260.66,229.85 L260.7,230 L260.74,230.14 L260.78,230.28 L260.82,230.42 L260.86,230.5 L263.13,230.5 L264.07,213.37 L265,230.5 L265.89,230.5 L266.93,214.65 L267.91,209.22 L269.46,221.63 L270.8,210.97 L271.78,230.5 L272.87,230.5 L273.71,225 L275.26,230.5 L280.03,230.5 L281.1,225.41 L282.47,230.5 L283.81,216.23 L285.34,219.62 L286.3,223.66 L287.27,230.5 L288.52,230.5 L290.06,229.94 L290.92,230.5 L293.59,230.5 L294.7,219.41 L295.56,230.5 L296.52,221.58 L297.45,230.5 L298.88,229.6 L300.2,230.5 L309.69,230.5 L310.58,220.17 L311.91,230.5 L313.32,223.12 L314.52,230.5 L316.83,230.5 L318.02,212.54 L318.89,230.5 L319.79,230.5 L320.74,223.75 L322.01,230.5 L323.17,224.83 L324.65,230.5 L326.13,230.5 L327.07,214.67 L328.44,218.86 L329.44,230.5 L330.71,213.79 L331.8,216.81 L332.71,219.31 L333.89,230.5 L347.95,230.5 L349.02,217.52 L350.41,223.82 L351.75,230.5 L352.92,230.13 L353.89,230.5 L355.08,230.5" stroke="#ff00ff" stroke-width="1.75" stroke-dasharray="7.5,6.4" stroke-dashoffset="4.21"/>
</g>
<line x1="51.5" y1="6" x2="51.5" y2="230.5" stroke="#000" stroke-width="1.1"/>
<line x1="158.2" y1="28.7" x2="244.3" y2="28.7" stroke="#000" stroke-width="2.0"/>
<path d="M253.2,28.7 L243.3,25.9 L243.3,31.5 Z" fill="#000"/>
<line x1="241" y1="41" x2="316" y2="41" stroke="#000" stroke-width="1"/>
<line x1="216" y1="197.4" x2="317" y2="197.4" stroke="#000" stroke-width="1"/>
<line x1="278.5" y1="49.4" x2="278.5" y2="110" stroke="#000" stroke-width="1.0"/>
<line x1="278.5" y1="126.3" x2="278.5" y2="188.2" stroke="#000" stroke-width="1.0"/>
<path d="M278.5,43.9 L276.75,49.9 L280.25,49.9 Z" fill="#000"/>
<path d="M278.5,193.7 L276.75,187.7 L280.25,187.7 Z" fill="#000"/>
<text x="264.4" y="123.2" font-size="15" textLength="33.4" lengthAdjust="spacingAndGlyphs">30dB</text>
<line x1="50" y1="280.5" x2="361.5" y2="280.5" stroke="#000" stroke-width="1"/>
<line x1="361.5" y1="280.5" x2="361.5" y2="511.7" stroke="#000" stroke-width="1"/>
<line x1="45.5" y1="280.5" x2="50" y2="280.5" stroke="#000" stroke-width="1"/>
<text x="23.01" y="285.61" font-size="11.9" textLength="18.58" lengthAdjust="spacingAndGlyphs">-20</text>
<line x1="47.5" y1="306.19" x2="50" y2="306.19" stroke="#000" stroke-width="1"/>
<line x1="45.5" y1="331.88" x2="50" y2="331.88" stroke="#000" stroke-width="1"/>
<text x="23.01" y="336.98" font-size="11.9" textLength="18.58" lengthAdjust="spacingAndGlyphs">-30</text>
<line x1="47.5" y1="357.57" x2="50" y2="357.57" stroke="#000" stroke-width="1"/>
<line x1="45.5" y1="383.26" x2="50" y2="383.26" stroke="#000" stroke-width="1"/>
<text x="23.01" y="388.36" font-size="11.9" textLength="18.58" lengthAdjust="spacingAndGlyphs">-40</text>
<line x1="47.5" y1="408.94" x2="50" y2="408.94" stroke="#000" stroke-width="1"/>
<line x1="45.5" y1="434.63" x2="50" y2="434.63" stroke="#000" stroke-width="1"/>
<text x="23.01" y="439.74" font-size="11.9" textLength="18.58" lengthAdjust="spacingAndGlyphs">-50</text>
<line x1="47.5" y1="460.32" x2="50" y2="460.32" stroke="#000" stroke-width="1"/>
<line x1="45.5" y1="486.01" x2="50" y2="486.01" stroke="#000" stroke-width="1"/>
<text x="23.01" y="491.12" font-size="11.9" textLength="18.58" lengthAdjust="spacingAndGlyphs">-60</text>
<line x1="47.5" y1="511.7" x2="50" y2="511.7" stroke="#000" stroke-width="1"/>
<line x1="50" y1="511.7" x2="50" y2="515.7" stroke="#000" stroke-width="1"/>
<text x="35.96" y="530.44" font-size="13.2" textLength="27.9" lengthAdjust="spacingAndGlyphs">1520</text>
<line x1="72.25" y1="511.7" x2="72.25" y2="514.2" stroke="#000" stroke-width="1"/>
<line x1="94.5" y1="511.7" x2="94.5" y2="515.7" stroke="#000" stroke-width="1"/>
<text x="80.46" y="530.44" font-size="13.2" textLength="27.9" lengthAdjust="spacingAndGlyphs">1530</text>
<line x1="116.75" y1="511.7" x2="116.75" y2="514.2" stroke="#000" stroke-width="1"/>
<line x1="139" y1="511.7" x2="139" y2="515.7" stroke="#000" stroke-width="1"/>
<text x="124.96" y="530.44" font-size="13.2" textLength="27.9" lengthAdjust="spacingAndGlyphs">1540</text>
<line x1="161.25" y1="511.7" x2="161.25" y2="514.2" stroke="#000" stroke-width="1"/>
<line x1="183.5" y1="511.7" x2="183.5" y2="515.7" stroke="#000" stroke-width="1"/>
<text x="169.46" y="530.44" font-size="13.2" textLength="27.9" lengthAdjust="spacingAndGlyphs">1550</text>
<line x1="205.75" y1="511.7" x2="205.75" y2="514.2" stroke="#000" stroke-width="1"/>
<line x1="228" y1="511.7" x2="228" y2="515.7" stroke="#000" stroke-width="1"/>
<text x="213.96" y="530.44" font-size="13.2" textLength="27.9" lengthAdjust="spacingAndGlyphs">1560</text>
<line x1="250.25" y1="511.7" x2="250.25" y2="514.2" stroke="#000" stroke-width="1"/>
<line x1="272.5" y1="511.7" x2="272.5" y2="515.7" stroke="#000" stroke-width="1"/>
<text x="258.46" y="530.44" font-size="13.2" textLength="27.9" lengthAdjust="spacingAndGlyphs">1570</text>
<line x1="294.75" y1="511.7" x2="294.75" y2="514.2" stroke="#000" stroke-width="1"/>
<line x1="317" y1="511.7" x2="317" y2="515.7" stroke="#000" stroke-width="1"/>
<text x="302.96" y="530.44" font-size="13.2" textLength="27.9" lengthAdjust="spacingAndGlyphs">1580</text>
<line x1="339.25" y1="511.7" x2="339.25" y2="514.2" stroke="#000" stroke-width="1"/>
<line x1="361.5" y1="511.7" x2="361.5" y2="515.7" stroke="#000" stroke-width="1"/>
<text x="347.46" y="530.44" font-size="13.2" textLength="27.9" lengthAdjust="spacingAndGlyphs">1590</text>
<line x1="50" y1="280.5" x2="50" y2="284.5" stroke="#000" stroke-width="1"/>
<line x1="81.15" y1="280.5" x2="81.15" y2="283" stroke="#000" stroke-width="1"/>
<line x1="112.3" y1="280.5" x2="112.3" y2="284.5" stroke="#000" stroke-width="1"/>
<line x1="143.45" y1="280.5" x2="143.45" y2="283" stroke="#000" stroke-width="1"/>
<line x1="174.6" y1="280.5" x2="174.6" y2="284.5" stroke="#000" stroke-width="1"/>
<line x1="205.75" y1="280.5" x2="205.75" y2="283" stroke="#000" stroke-width="1"/>
<line x1="236.9" y1="280.5" x2="236.9" y2="284.5" stroke="#000" stroke-width="1"/>
<line x1="268.05" y1="280.5" x2="268.05" y2="283" stroke="#000" stroke-width="1"/>
<line x1="299.2" y1="280.5" x2="299.2" y2="284.5" stroke="#000" stroke-width="1"/>
<line x1="330.35" y1="280.5" x2="330.35" y2="283" stroke="#000" stroke-width="1"/>
<line x1="361.5" y1="280.5" x2="361.5" y2="284.5" stroke="#000" stroke-width="1"/>
<line x1="357.5" y1="280.5" x2="361.5" y2="280.5" stroke="#000" stroke-width="1"/>
<line x1="359" y1="303.62" x2="361.5" y2="303.62" stroke="#000" stroke-width="1"/>
<line x1="357.5" y1="326.74" x2="361.5" y2="326.74" stroke="#000" stroke-width="1"/>
<line x1="359" y1="349.86" x2="361.5" y2="349.86" stroke="#000" stroke-width="1"/>
<line x1="357.5" y1="372.98" x2="361.5" y2="372.98" stroke="#000" stroke-width="1"/>
<line x1="359" y1="396.1" x2="361.5" y2="396.1" stroke="#000" stroke-width="1"/>
<line x1="357.5" y1="419.22" x2="361.5" y2="419.22" stroke="#000" stroke-width="1"/>
<line x1="359" y1="442.34" x2="361.5" y2="442.34" stroke="#000" stroke-width="1"/>
<line x1="357.5" y1="465.46" x2="361.5" y2="465.46" stroke="#000" stroke-width="1"/>
<line x1="359" y1="488.58" x2="361.5" y2="488.58" stroke="#000" stroke-width="1"/>
<line x1="357.5" y1="511.7" x2="361.5" y2="511.7" stroke="#000" stroke-width="1"/>
<text x="147.69" y="549.31" font-size="12.34" textLength="117.06" lengthAdjust="spacingAndGlyphs">(b) Wavelength (nm)</text>
<text transform="translate(14.44,446.68) rotate(-90)" font-size="12.66" textLength="91.99" lengthAdjust="spacingAndGlyphs">Intensity (dBm)</text>
<clipPath id="c2"><rect x="50" y="280.5" width="311.5" height="231.2"/></clipPath>
<g clip-path="url(#c2)" fill="none" stroke-linejoin="round">
<path d="M49.47,511.7 L50.19,511.7 L50.63,505.07 L51.13,505.53 L51.81,511.33 L52.3,493.03 L52.88,502.32 L53.57,511.7 L54.19,497.47 L54.77,508.57 L55.26,507.77 L55.84,498.75 L56.53,510.48 L57.1,511.7 L58.42,511.7 L58.91,509.6 L59.51,511.7 L59.94,508 L60.39,511.7 L63.32,511.7 L63.9,506.03 L64.38,511.7 L66.73,511.7 L67.42,509.93 L68.12,511.7 L68.54,511.7 L69.22,508.46 L69.72,504.24 L70.21,511.7 L70.61,509.14 L71.17,509.94 L71.62,511.7 L72.24,505.29 L72.9,510.56 L73.59,511.7 L74.14,509.36 L74.69,511.7 L76.37,511.7 L77.01,508.42 L77.71,511.7 L79.51,511.7 L79.91,505.64 L80.33,511.7 L80.79,511.7 L81.23,496.63 L81.71,505.52 L82.16,507.77 L82.66,511.7 L83.72,511.7 L84.12,501.95 L84.57,511.7 L85.82,511.7 L86.28,511.63 L86.76,501.83 L87.19,508.14 L87.87,511.7 L88.42,511.7 L89.01,503.79 L89.4,510.45 L90.04,501.31 L90.75,511.7 L91.41,511.7 L91.84,502.78 L92.34,502.93 L92.73,511.7 L95.24,511.7 L95.79,510.3 L96.23,506.66 L96.89,511.7 L97.54,511.7 L98.25,509.7 L98.92,504.94 L99.56,511.7 L100.01,504.88 L100.45,505.07 L100.91,510.16 L101.47,508 L102.03,511.7 L103.34,511.7 L103.74,500.66 L104.39,511.7 L105.04,509.98 L105.49,510.67 L106.04,495.74 L106.56,511.7 L109.8,511.7 L110.27,506.17 L110.67,505.99 L111.06,511.7 L111.55,505.01 L112.05,506.71 L112.49,511.7 L112.99,510.81 L113.64,511.7 L114.32,502.37 L115.02,511.7 L115.72,510.23 L116.27,511 L116.74,507.64 L117.23,510.15 L117.94,509.79 L118.59,504.63 L119.24,505.57 L119.79,504.9 L120.31,508.51 L120.99,511.7 L123.1,511.7 L123.51,510.35 L123.95,511.7 L124.4,507.32 L124.94,511.7 L126.49,511.7 L127.1,504.5 L127.62,511.7 L128.18,507.43 L128.87,503.73 L129.44,508.33 L130.11,511.7 L130.76,509.54 L131.37,501.09 L131.94,511.7 L132.51,511.7 L133.01,508.61 L133.72,511.7 L134.29,509.69 L134.72,502.44 L135.35,500.11 L135.84,507.61 L136.48,502.1 L137.1,501.86 L137.56,505.27 L138.16,504.86 L138.63,501.78 L139.28,510.06 L139.72,501.45 L140.16,511.7 L140.58,511.7 L141.02,503.68 L141.43,511.7 L141.96,510.39 L142.5,511.7 L142.96,511.7 L143.4,508.56 L143.83,511.7 L144.24,505.45 L144.93,511.7 L145.52,511.7 L146.14,502.53 L146.6,507.14 L147,511.7 L147.5,511.7 L148.19,511.24 L148.88,511.7 L149.49,510.53 L150.05,498.47 L150.74,492.64 L151.27,511.2 L151.86,506.78 L152.5,511.7 L152.53,511.7 L153.12,504.27 L153.76,505.02 L154.36,502.34 L154.76,504.74 L155.42,511.7 L155.5,511.18 L155.54,510.69 L155.58,510.2 L155.62,509.71 L155.66,509.22 L155.7,508.72 L155.74,508.23 L155.78,507.74 L155.82,507.24 L155.86,506.75 L155.9,506.25 L155.94,505.76 L155.96,505.57 L155.98,505.52 L156.02,505.43 L156.06,505.35 L156.1,505.26 L156.14,505.18 L156.18,505.09 L156.22,505 L156.26,504.92 L156.3,504.83 L156.34,504.74 L156.38,504.66 L156.85,504.7 L156.86,504.92 L156.9,505.68 L156.94,506.43 L156.98,507.16 L157.02,507.88 L157.06,508.59 L157.1,509.28 L157.14,509.96 L157.18,510.62 L157.22,511.27 L157.26,511.7 L157.66,511.7 L157.7,511.18 L157.74,510.65 L157.78,510.11 L157.82,509.57 L157.86,509.02 L157.9,508.48 L157.93,508.1 L157.94,508.14 L157.98,508.24 L158.02,508.35 L158.06,508.44 L158.1,508.53 L158.14,508.62 L158.18,508.7 L158.22,508.77 L158.26,508.84 L158.3,508.91 L158.34,508.96 L158.38,509.01 L158.42,509.06 L158.43,509.07 L158.46,508.77 L158.5,508.3 L158.54,507.82 L158.58,507.35 L158.62,506.87 L158.66,506.4 L158.7,505.92 L158.74,505.45 L158.78,504.97 L158.82,504.5 L158.85,504.18 L158.86,504.01 L158.9,503.5 L158.94,502.99 L158.98,502.48 L159.02,501.97 L159.06,501.46 L159.1,500.94 L159.14,500.43 L159.18,499.92 L159.22,499.4 L159.26,498.89 L159.29,498.46 L159.3,498.32 L159.34,497.49 L159.38,496.64 L159.42,495.8 L159.46,494.94 L159.5,494.08 L159.54,493.22 L159.58,492.35 L159.62,491.47 L159.66,490.59 L159.7,489.7 L159.74,488.81 L159.78,487.91 L159.81,487.29 L159.82,487.4 L159.86,487.74 L159.9,488.07 L159.94,488.39 L159.98,488.7 L160.02,489 L160.06,489.29 L160.1,489.57 L160.14,489.84 L160.18,490.09 L160.22,490.34 L160.26,490.57 L160.29,490.71 L160.3,490.76 L160.34,490.87 L160.38,490.98 L160.42,491.07 L160.46,491.16 L160.5,491.24 L160.54,491.32 L160.58,491.38 L160.62,491.44 L160.66,491.49 L160.7,491.53 L160.74,491.56 L160.97,491.6 L160.98,491.54 L161.02,491.35 L161.06,491.16 L161.1,490.97 L161.14,490.77 L161.18,490.58 L161.22,490.38 L161.26,490.18 L161.3,489.97 L161.34,489.77 L161.38,489.56 L161.42,489.35 L161.46,489.14 L161.5,488.93 L161.54,488.71 L161.58,488.49 L161.62,488.28 L161.65,488.12 L161.66,488.14 L161.7,488.21 L161.74,488.27 L161.78,488.3 L161.94,488.28 L161.98,488.24 L162.02,488.18 L162.06,488.11 L162.1,488.02 L162.14,487.92 L162.18,487.81 L162.22,487.68 L162.26,487.55 L162.3,487.4 L162.3,487.4 L162.34,486.92 L162.38,486.43 L162.42,485.94 L162.46,485.45 L162.5,484.96 L162.54,484.46 L162.58,483.96 L162.62,483.46 L162.66,482.95 L162.7,482.44 L162.74,481.92 L162.78,481.41 L162.82,480.89 L162.84,480.58 L162.86,480.4 L162.9,479.95 L162.94,479.5 L162.98,479.05 L163,478.83 L163.02,478.55 L163.06,477.99 L163.1,477.44 L163.14,476.88 L163.18,476.32 L163.22,475.76 L163.24,475.53 L163.26,475.29 L163.3,474.88 L163.34,474.47 L163.38,474.06 L163.42,473.65 L163.46,473.23 L163.5,472.81 L163.54,472.39 L163.58,471.97 L163.62,471.55 L163.66,471.13 L163.7,470.71 L163.74,470.28 L163.78,469.85 L163.82,469.43 L163.86,469 L163.9,468.57 L163.9,468.52 L163.94,468.15 L163.98,467.74 L164,467.53 L164.02,467.21 L164.06,466.56 L164.1,465.91 L164.14,465.25 L164.18,464.59 L164.22,463.93 L164.26,463.26 L164.3,462.59 L164.34,461.91 L164.38,461.24 L164.42,460.55 L164.46,459.87 L164.5,459.18 L164.54,458.49 L164.56,458.08 L164.58,457.79 L164.62,457.1 L164.66,456.4 L164.7,455.7 L164.74,453.99 L164.78,452.26 L164.82,450.52 L164.86,448.76 L164.9,447 L164.94,445.22 L164.98,443.42 L164.99,443.19 L165.02,441.66 L165.06,439.89 L165.1,438.1 L165.14,436.3 L165.18,434.48 L165.22,432.65 L165.26,430.82 L165.3,428.97 L165.34,427.11 L165.38,425.25 L165.42,423.38 L165.45,422.18 L165.46,421.5 L165.5,419.59 L165.54,417.68 L165.58,415.78 L165.6,414.82 L165.62,413.85 L165.66,411.91 L165.7,409.97 L165.74,408.03 L165.78,406.09 L165.82,404.14 L165.86,402.2 L165.88,401.23 L165.9,400.26 L165.94,398.33 L165.98,396.4 L166.02,394.47 L166.06,392.53 L166.1,390.59 L166.14,388.65 L166.18,386.71 L166.22,384.77 L166.26,382.82 L166.3,380.88 L166.34,378.94 L166.38,376.99 L166.4,376.02 L166.42,374.63 L166.46,371.87 L166.48,370.34 L166.5,369.1 L166.54,366.33 L166.58,363.55 L166.62,360.78 L166.66,358.01 L166.7,355.24 L166.74,352.46 L166.78,349.69 L166.8,348.31 L166.82,347.95 L166.86,347.25 L166.9,346.54 L166.94,345.84 L166.98,345.13 L167.02,344.43 L167.03,344.32 L167.06,343.72 L167.1,343.02 L167.14,342.32 L167.18,341.62 L167.22,340.91 L167.26,340.21 L167.3,339.51 L167.34,338.8 L167.38,338.1 L167.42,337.4 L167.46,336.69 L167.5,335.99 L167.54,336.69 L167.55,336.92 L167.58,337.4 L167.62,338.1 L167.66,338.81 L167.7,339.51 L167.74,340.22 L167.78,340.92 L167.82,341.63 L167.86,342.33 L167.9,343.04 L167.94,343.74 L167.98,344.45 L168.02,345.15 L168.02,345.19 L168.06,345.85 L168.1,346.56 L168.14,347.26 L168.18,347.97 L168.2,348.32 L168.22,349.7 L168.26,352.48 L168.3,355.25 L168.34,358.02 L168.38,360.79 L168.42,363.56 L168.45,365.49 L168.46,366.33 L168.5,369.1 L168.54,371.87 L168.58,374.64 L168.6,376.02 L168.62,376.99 L168.66,378.94 L168.7,380.88 L168.74,382.83 L168.78,384.77 L168.82,386.71 L168.86,388.65 L168.9,390.59 L168.94,392.53 L168.98,394.47 L169.02,396.4 L169.06,398.34 L169.08,399.08 L169.1,400.27 L169.14,402.21 L169.18,404.15 L169.22,406.09 L169.26,408.02 L169.3,409.96 L169.34,411.89 L169.38,413.83 L169.4,414.79 L169.42,415.74 L169.46,417.64 L169.5,419.54 L169.54,421.43 L169.58,423.21 L169.58,423.32 L169.62,425.21 L169.66,427.1 L169.7,428.98 L169.74,430.86 L169.78,432.74 L169.82,434.62 L169.86,436.49 L169.9,438.36 L169.94,440.23 L169.98,442.09 L169.99,442.35 L170.02,443.96 L170.06,445.82 L170.1,447.68 L170.14,449.53 L170.18,451.39 L170.22,453.23 L170.26,455.08 L170.3,456.92 L170.34,457.69 L170.38,458.47 L170.42,459.25 L170.46,460.02 L170.47,460.24 L170.5,460.68 L170.54,461.27 L170.58,461.84 L170.62,462.38 L170.66,462.88 L170.7,463.35 L170.74,463.78 L170.78,464.16 L170.82,464.49 L170.86,464.77 L170.9,464.98 L170.92,465.08 L170.94,465.42 L170.98,466.17 L171,466.55 L171.02,466.82 L171.06,467.36 L171.1,467.9 L171.14,468.44 L171.18,468.98 L171.22,469.51 L171.26,470.05 L171.3,470.59 L171.34,471.12 L171.38,471.61 L171.38,471.64 L171.42,472.02 L171.46,472.4 L171.5,472.77 L171.54,473.14 L171.58,473.51 L171.62,473.87 L171.66,474.23 L171.7,474.59 L171.74,474.94 L171.78,475.29 L171.82,475.64 L171.86,475.98 L171.9,476.32 L171.94,476.66 L171.98,476.99 L172,477.16 L172.02,477.27 L172.06,477.5 L172.08,477.61 L172.1,477.78 L172.14,478.11 L172.18,478.44 L172.22,478.77 L172.26,479.1 L172.3,479.43 L172.34,479.76 L172.38,480.08 L172.42,480.41 L172.46,480.74 L172.5,481.06 L172.54,481.39 L172.58,481.71 L172.62,482.03 L172.66,482.35 L172.7,482.68 L172.74,483 L172.77,483.25 L172.78,483.29 L172.82,483.48 L172.86,483.67 L172.9,483.85 L172.94,484.04 L172.98,484.22 L173.02,484.39 L173.06,484.56 L173.1,484.73 L173.14,484.9 L173.18,485.06 L173.22,485.22 L173.26,485.38 L173.3,485.53 L173.32,485.6 L173.34,485.66 L173.38,485.77 L173.42,485.87 L173.46,485.97 L173.5,486.06 L173.54,486.15 L173.58,486.24 L173.62,486.32 L173.66,486.39 L173.7,486.47 L173.74,486.53 L173.78,486.6 L173.82,486.65 L173.86,486.71 L173.89,486.75 L173.9,486.77 L173.94,486.97 L173.98,487.16 L173.98,487.16 L174.02,487.35 L174.06,487.54 L174.1,487.72 L174.14,487.91 L174.14,487.91 L174.18,488.09 L174.2,488.18 L174.22,488.27 L174.26,488.45 L174.3,488.63 L174.34,488.81 L174.38,488.98 L174.42,489.16 L174.42,489.16 L174.46,489.33 L174.5,489.5 L174.53,489.64 L174.54,489.73 L174.54,489.73 L174.58,490.26 L174.62,490.78 L174.66,491.3 L174.7,491.81 L174.7,491.81 L174.74,492.32 L174.78,492.83 L174.82,493.32 L174.86,493.82 L174.9,494.3 L174.92,494.53 L174.94,494.74 L174.98,495.12 L174.98,495.12 L175.02,495.51 L175.06,495.89 L175.1,496.26 L175.14,496.64 L175.14,496.64 L175.18,497.01 L175.22,497.37 L175.26,497.73 L175.3,498.09 L175.34,498.45 L175.38,498.8 L175.42,499.14 L175.42,499.14 L175.46,499.49 L175.5,499.82 L175.54,500.16 L175.54,500.16 L175.56,500.35 L175.58,500.37 L175.62,500.42 L175.66,500.46 L175.7,500.5 L175.7,500.5 L175.74,500.54 L175.78,500.57 L176.11,500.53 L176.14,500.21 L176.14,500.21 L176.18,499.78 L176.22,499.34 L176.26,498.87 L176.3,498.39 L176.34,497.89 L176.38,497.37 L176.42,496.83 L176.42,496.83 L176.46,496.27 L176.5,495.69 L176.54,495.12 L176.54,495.12 L176.58,495.17 L176.62,495.23 L176.66,495.27 L176.7,495.32 L176.7,495.32 L176.74,495.36 L176.78,495.4 L176.82,495.44 L176.86,495.47 L176.9,495.5 L177.09,495.61 L177.1,495.54 L177.14,495.14 L177.14,495.14 L177.18,494.74 L177.22,494.32 L177.26,493.9 L177.3,493.47 L177.34,493.04 L177.38,492.6 L177.42,492.16 L177.42,492.16 L177.46,491.7 L177.49,491.32 L177.5,491.29 L177.54,491.07 L177.54,491.07 L177.58,490.85 L177.62,490.63 L177.66,490.41 L177.7,490.18 L177.7,490.18 L177.74,489.96 L177.78,489.73 L177.82,489.5 L177.86,489.27 L177.9,489.04 L177.93,488.87 L177.94,488.91 L177.98,489.11 L177.98,489.11 L178.02,489.3 L178.06,489.49 L178.1,489.67 L178.14,489.84 L178.14,489.84 L178.18,490 L178.22,490.15 L178.26,490.3 L178.3,490.44 L178.34,490.57 L178.38,490.7 L178.39,490.74 L178.42,490.85 L178.42,490.85 L178.46,491.02 L178.5,491.18 L178.54,491.33 L178.58,491.47 L178.62,491.6 L178.66,491.72 L178.7,491.83 L178.7,491.83 L178.74,491.92 L178.78,492.01 L178.82,492.09 L178.86,492.15 L178.9,492.21 L178.94,492.25 L178.96,492.27 L178.98,492.1 L178.98,492.1 L179.02,491.71 L179.06,491.33 L179.1,490.94 L179.14,490.54 L179.14,490.54 L179.18,490.15 L179.2,489.95 L179.22,489.75 L179.26,489.36 L179.3,488.96 L179.34,488.55 L179.38,488.15 L179.39,488.06 L179.42,488.01 L179.42,488.01 L179.46,487.95 L179.5,487.87 L179.54,487.8 L179.58,487.71 L179.62,487.62 L179.66,487.53 L179.7,487.43 L179.74,487.33 L179.78,487.22 L179.82,487.1 L179.86,486.98 L179.9,486.86 L179.94,486.72 L179.97,486.62 L179.98,486.59 L180.02,486.46 L180.06,486.32 L180.1,486.18 L180.14,486.03 L180.18,485.88 L180.22,485.72 L180.26,485.56 L180.3,485.39 L180.34,485.22 L180.38,485.04 L180.42,484.86 L180.46,484.67 L180.5,484.48 L180.52,484.36 L180.54,484.14 L180.58,483.61 L180.62,483.07 L180.66,482.52 L180.7,481.96 L180.74,481.4 L180.78,480.82 L180.82,480.24 L180.86,479.66 L180.9,479.06 L180.94,478.46 L180.98,477.84 L181.02,477.22 L181.06,476.59 L181.1,475.96 L181.1,475.96 L181.14,475.82 L181.18,475.68 L181.22,475.53 L181.26,475.38 L181.3,475.22 L181.34,475.06 L181.38,474.89 L181.4,474.8 L181.42,474.67 L181.46,474.39 L181.5,474.1 L181.54,473.81 L181.58,473.51 L181.62,473.21 L181.66,472.9 L181.7,472.58 L181.74,472.26 L181.75,472.19 L181.78,471.81 L181.82,471.32 L181.86,470.82 L181.9,470.33 L181.94,469.83 L181.98,469.34 L182.02,468.85 L182.06,468.35 L182.1,467.86 L182.14,467.36 L182.18,466.86 L182.22,466.37 L182.26,465.89 L182.26,465.88 L182.3,465.49 L182.34,465.1 L182.38,464.71 L182.4,464.51 L182.42,464.2 L182.46,463.58 L182.5,462.95 L182.54,462.31 L182.58,461.67 L182.62,461.03 L182.66,460.38 L182.7,459.72 L182.74,459.07 L182.78,458.4 L182.82,457.74 L182.86,457.06 L182.9,456.39 L182.92,456.08 L182.94,455.69 L182.98,454.97 L183.02,454.25 L183.06,453.53 L183.1,452.81 L183.14,451.08 L183.18,449.34 L183.22,447.59 L183.26,445.83 L183.3,444.06 L183.34,442.46 L183.34,442.28 L183.38,440.51 L183.42,438.73 L183.46,436.93 L183.5,435.13 L183.54,433.31 L183.58,431.49 L183.62,429.66 L183.66,427.83 L183.7,425.98 L183.74,424.13 L183.78,422.28 L183.82,420.42 L183.86,418.55 L183.9,416.68 L183.94,414.81 L183.98,412.93 L184,411.99 L184.01,411.57 L184.02,411.04 L184.06,409.13 L184.1,407.21 L184.14,405.29 L184.18,403.37 L184.22,401.44 L184.26,399.52 L184.3,397.59 L184.34,395.65 L184.38,393.72 L184.42,391.78 L184.46,389.84 L184.5,387.9 L184.52,386.8 L184.54,385.96 L184.58,384.01 L184.62,382.06 L184.66,380.11 L184.7,378.16 L184.74,376.21 L184.78,374.26 L184.8,373.29 L184.82,371.9 L184.86,369.13 L184.9,366.36 L184.94,363.68 L184.94,363.59 L184.98,360.83 L185.02,358.07 L185.06,355.31 L185.1,352.54 L185.14,349.77 L185.18,347 L185.2,345.61 L185.22,345.26 L185.26,344.56 L185.3,343.86 L185.34,343.15 L185.38,342.45 L185.42,341.75 L185.42,341.72 L185.46,341.04 L185.5,340.34 L185.54,339.63 L185.58,338.93 L185.62,338.22 L185.66,337.52 L185.7,336.82 L185.74,336.11 L185.78,335.41 L185.82,334.7 L185.86,334 L185.9,333.29 L185.94,334 L185.98,334.7 L186.02,335.41 L186.06,336.11 L186.09,336.65 L186.1,336.82 L186.14,337.52 L186.18,338.22 L186.22,338.93 L186.26,339.63 L186.3,340.34 L186.34,341.04 L186.38,341.74 L186.42,342.45 L186.46,343.15 L186.5,343.85 L186.54,344.56 L186.58,345.26 L186.58,345.31 L186.6,345.61 L186.62,347 L186.66,349.77 L186.7,352.54 L186.74,355.31 L186.78,358.08 L186.82,360.85 L186.86,363.62 L186.9,366.38 L186.94,369.15 L186.98,371.91 L187,373.29 L187.01,373.68 L187.02,374.26 L187.06,376.21 L187.1,378.15 L187.14,380.1 L187.18,382.04 L187.22,383.99 L187.26,385.93 L187.3,387.88 L187.34,389.82 L187.38,391.76 L187.42,393.7 L187.46,395.64 L187.48,396.76 L187.5,397.59 L187.54,399.54 L187.58,401.49 L187.62,403.45 L187.66,405.4 L187.7,407.35 L187.74,409.3 L187.78,411.26 L187.8,412.23 L187.82,413.19 L187.86,415.11 L187.9,417.03 L187.94,418.95 L187.96,419.77 L187.98,420.85 L188.02,422.73 L188.06,424.6 L188.1,426.46 L188.14,428.31 L188.18,430.15 L188.22,431.98 L188.26,433.78 L188.3,435.57 L188.34,437.33 L188.37,438.46 L188.38,439.12 L188.42,441 L188.46,442.88 L188.5,444.76 L188.54,446.64 L188.58,448.51 L188.62,450.39 L188.66,452.26 L188.7,454.14 L188.74,454.95 L188.78,455.77 L188.82,456.59 L188.86,457.4 L188.9,458.22 L188.94,459.03 L188.98,459.85 L189.01,460.52 L189.02,460.63 L189.06,461.29 L189.1,461.93 L189.14,462.55 L189.18,463.16 L189.22,463.74 L189.26,464.31 L189.3,464.85 L189.34,465.36 L189.38,465.85 L189.4,466.09 L189.42,466.19 L189.46,466.39 L189.5,466.55 L189.53,466.68 L189.54,466.76 L189.58,467.33 L189.62,467.89 L189.66,468.46 L189.7,469.03 L189.74,469.59 L189.78,470.16 L189.82,470.72 L189.86,471.29 L189.9,471.85 L189.94,472.42 L189.98,472.98 L190.02,473.54 L190.06,474.1 L190.1,474.66 L190.14,475.22 L190.16,475.57 L190.18,475.61 L190.22,475.7 L190.26,475.75 L190.3,475.75 L190.34,475.7 L190.38,475.6 L190.4,475.52 L190.42,475.39 L190.46,475.07 L190.5,474.7 L190.54,474.27 L190.58,473.78 L190.62,473.22 L190.66,472.61 L190.7,471.93 L190.71,471.7 L190.74,472.22 L190.78,472.97 L190.82,473.71 L190.86,474.44 L190.9,475.16 L190.94,475.88 L190.98,476.59 L191.02,477.29 L191.06,477.98 L191.1,478.67 L191.14,479.35 L191.18,479.93 L191.18,479.94 L191.22,479.99 L191.26,480.03 L191.3,480.07 L191.58,480.05 L191.62,480.01 L191.66,479.97 L191.7,479.91 L191.7,479.91 L191.74,480.15 L191.78,480.41 L191.82,480.66 L191.86,480.92 L191.9,481.17 L191.94,481.43 L191.98,481.68 L192.02,481.93 L192.06,482.19 L192.1,482.44 L192.14,482.69 L192.18,482.94 L192.22,483.19 L192.26,483.44 L192.3,483.69 L192.34,483.94 L192.36,484.04 L192.38,484.54 L192.42,485.4 L192.46,486.24 L192.5,487.08 L192.54,487.9 L192.58,488.72 L192.6,489.12 L192.62,489.53 L192.66,490.32 L192.7,491.11 L192.74,491.88 L192.78,492.65 L192.82,493.4 L192.86,494.15 L192.9,494.89 L192.9,494.93 L192.94,494.72 L192.98,494.47 L193.02,494.19 L193.06,493.89 L193.1,493.56 L193.14,493.21 L193.18,492.83 L193.22,492.42 L193.26,491.98 L193.3,491.52 L193.32,491.33 L193.34,491.61 L193.38,492.09 L193.42,492.57 L193.46,493.05 L193.5,493.53 L193.54,494 L193.58,494.48 L193.62,494.96 L193.66,495.43 L193.7,495.91 L193.74,496.38 L193.78,496.86 L193.82,497.31 L193.82,497.3 L193.86,497.09 L193.9,496.87 L193.94,496.64 L193.98,496.39 L194.02,496.13 L194.06,495.86 L194.1,495.58 L194.14,495.28 L194.18,494.97 L194.22,494.65 L194.26,494.32 L194.3,493.97 L194.34,493.62 L194.38,493.25 L194.42,492.87 L194.43,492.79 L195.06,492.59 L195.1,492.56 L195.12,492.54 L195.14,492.85 L195.18,493.6 L195.22,494.35 L195.26,495.09 L195.3,495.83 L195.34,496.57 L195.38,497.3 L195.42,498.04 L195.46,498.77 L195.5,499.5 L195.54,500.23 L195.58,500.96 L195.62,501.68 L195.66,502.41 L195.7,503.13 L195.73,503.73 L195.74,503.58 L195.78,502.61 L195.82,501.6 L195.86,500.57 L195.9,499.51 L195.94,498.4 L195.98,497.27 L196.02,496.11 L196.06,494.94 L196.1,493.74 L196.14,492.53 L196.18,491.3 L196.22,490.06 L196.26,488.8 L196.3,487.64 L196.3,487.71 L196.34,488.47 L196.38,489.22 L196.42,489.97 L196.46,490.73 L196.5,491.48 L196.54,492.23 L196.58,492.97 L196.62,493.72 L196.66,494.46 L196.7,495.2 L196.74,495.94 L196.78,496.68 L196.82,497.42 L196.86,498.15 L196.88,498.47 L196.9,498.91 L196.94,499.68 L196.98,500.44 L197.02,501.21 L197.06,501.97 L197.1,502.73 L197.14,503.48 L197.18,504.24 L197.22,504.99 L197.26,505.74 L197.3,506.48 L197.34,507.23 L197.38,507.97 L197.39,508.21 L197.42,507.45 L197.46,506.3 L197.5,505.14 L197.54,503.95 L197.58,502.74 L197.62,501.52 L197.66,500.27 L197.7,499.02 L197.74,497.74 L197.78,496.45 L197.82,495.15 L197.86,493.83 L197.9,492.51 L197.9,492.47 L198.58,501.53 L199.2,511.7 L199.78,500.61 L200.38,498.81 L200.9,501.7 L201.01,502.32 L201.41,511.7 L202.02,501.86 L202.69,492.81 L203.21,503.16 L203.65,500.2 L204.11,498.68 L204.51,491.29 L204.92,489.65 L205.63,494.19 L206.26,505.25 L206.91,501.46 L207.33,492.48 L208,496.62 L208.49,496.37 L209.19,506.7 L209.82,485.63 L210.48,511.7 L210.93,511.39 L211.55,502.28 L212.01,507.17 L212.46,504.38 L212.99,497.86 L213.49,511.08 L213.95,506.52 L214.43,494.91 L214.91,500.34 L215.52,494.56 L216.11,511.7 L216.72,511.7 L217.15,509.55 L217.78,495.67 L218.34,493.58 L218.94,496.22 L219.58,506.72 L219.98,499.47 L220.53,501.37 L221.09,505.34 L221.67,506.91 L222.08,503.57 L222.48,507.33 L223,484.93 L223.71,496.48 L224.24,511.08 L224.81,497.43 L225.25,507.65 L225.93,506.83 L226.45,507.26 L226.86,511.7 L227.41,507.31 L228.03,501.93 L228.62,508.74 L229.33,502.52 L229.93,506.5 L230.53,499.36 L231.22,511.7 L231.93,499.04 L232.33,492.32 L233.04,494.62 L233.62,496.03 L234.15,496.81 L234.61,492.86 L235.16,502.92 L235.69,508.17 L236.28,511.7 L236.96,504.35 L237.67,496.62 L238.09,493.29 L238.7,511.7 L239.25,491.7 L239.9,490.3 L240.42,499.24 L241.08,498.59 L241.69,499.27 L242.18,509.09 L242.89,498.09 L243.48,493.62 L244.15,511.7 L244.69,503.88 L245.37,491.84 L246.04,511.7 L246.68,498.96 L247.08,511.17 L247.48,511.7 L247.99,507.39 L248.55,509.16 L248.96,502.63 L249.46,484.9 L250,507.07 L250.53,505.05 L251.08,490.75 L251.52,511.7 L252.07,501.33 L252.63,511.7 L253.23,509.06 L253.91,511.33 L254.62,497.47 L255.24,501.97 L255.75,502.48 L256.44,498.11 L257.12,511.35 L257.57,503.62 L258.26,501.7 L258.83,506.93 L259.55,502.67 L260.05,494.12 L260.56,493.52 L261.03,494.32 L261.64,511.7 L262.27,499.02 L262.93,494.01 L263.58,490.16 L264.06,498.53 L264.7,502.31 L265.4,496.78 L265.92,499.88 L266.33,511.7 L266.99,511.7 L267.43,490.3 L267.87,510.22 L268.54,487.25 L269.17,509.75 L269.82,503.71 L270.43,502.92 L270.98,500.09 L271.66,499.23 L272.34,501.28 L272.96,502.33 L273.44,496.61 L274.06,509.59 L274.46,502.02 L274.99,508.37 L275.53,505.78 L276.06,497.56 L276.47,500.67 L277.13,499.47 L277.62,485.56 L278.06,504.94 L278.73,494.34 L279.27,503.96 L279.88,509.67 L280.51,502.92 L280.96,504.65 L281.46,502.19 L282.11,499.95 L282.62,499.37 L283.11,500.72 L283.56,503.38 L284.2,501.07 L284.82,511.7 L285.53,504.25 L286.07,490.77 L286.77,511.7 L287.41,499.09 L288.11,503.09 L288.71,511.1 L289.36,498.1 L289.99,506.18 L290.61,501.67 L291.18,500.49 L291.76,509.41 L292.2,493.98 L292.77,511.7 L293.39,507.44 L293.8,508.14 L294.36,505.65 L294.97,504.51 L295.53,505.3 L295.97,511.7 L296.52,504.7 L297.16,507.1 L297.62,495.43 L298.07,507.65 L298.72,507.99 L299.23,493.52 L299.62,495.04 L300.11,505.36 L300.72,505.94 L301.29,497.87 L301.95,506.18 L302.66,508.6 L303.16,505.46 L303.81,494.04 L304.37,505.84 L305,511.7 L305.42,492.15 L305.94,509.97 L306.4,496.6 L306.91,511.7 L307.31,500.95 L307.78,499.1 L308.42,496.67 L308.81,503.73 L309.35,511.7 L309.93,502.59 L310.39,511.7 L311.01,501.02 L311.7,504.38 L312.29,511.7 L312.82,510.33 L313.22,511.7 L317.73,511.7 L318.42,510.4 L318.96,511.49 L319.57,509.22 L319.97,511.7 L320.55,507.2 L321.01,501.39 L321.68,500.35 L322.36,508.69 L322.96,504.35 L323.61,502.47 L324.21,498.11 L324.72,511.7 L325.8,511.7 L326.33,511.56 L326.97,511.7 L327.64,505.43 L328.24,511.7 L328.68,511.7 L329.17,504.81 L329.74,511.7 L330.42,501.52 L331.13,499.4 L331.71,510.4 L332.24,511.7 L332.7,511.7 L333.3,505.84 L333.8,503.25 L334.46,496.62 L335.01,511.7 L336.06,511.7 L336.54,500.03 L336.96,511.7 L337.46,507.83 L337.97,507.5 L338.45,501.12 L339.15,509.54 L339.68,511.7 L340.16,505.93 L340.65,507.69 L341.34,502.49 L341.84,503.62 L342.44,511.7 L342.98,511.7 L343.56,499.94 L344.01,511.7 L344.58,502.97 L345.09,511.35 L345.8,503.71 L346.43,499.23 L346.86,511.7 L348.98,511.7 L349.46,503.77 L349.86,509.12 L350.28,511.7 L350.9,511.7 L351.42,505.27 L352.09,511.7 L352.62,511.7 L353.23,501.43 L353.75,501.49 L354.35,511.7 L354.75,507.68 L355.14,511.7 L355.63,508.56 L356.18,504.94 L356.73,511.7 L358.01,511.7 L358.63,508.71 L359.35,505.17 L359.86,500.76 L360.57,501.5 L361.07,508.76 L361.58,510.68" stroke="#000" stroke-width="1.7"/>
<path d="M49.47,511.7 L50,505.47 L50.61,511.7 L51.3,501.77 L51.77,511.7 L54.29,511.7 L54.7,510.22 L55.22,511.7 L57.05,511.7 L57.43,507.9 L58.14,511.7 L61.74,511.7 L62.37,505.48 L62.87,511.7 L68.14,511.7 L68.8,510.74 L69.47,511.7 L70.75,511.7 L71.41,508.26 L71.82,511.7 L73.04,511.7 L73.72,509.23 L74.41,511.7 L76.59,511.7 L77.19,502.2 L77.75,511.7 L79.17,511.7 L79.77,501.25 L80.16,508.4 L80.59,511.7 L81.01,509.47 L81.42,511.7 L82.04,509.33 L82.64,508.31 L83.17,511.7 L83.71,506.18 L84.28,511.7 L84.89,511.7 L85.56,503.63 L86.04,511.7 L86.43,511.7 L87.14,504.08 L87.76,511.7 L88.19,509.46 L88.72,509.26 L89.37,511.7 L89.94,511.7 L90.34,505.55 L90.94,508.51 L91.64,511.7 L92.12,511.7 L92.58,504.32 L92.98,511.7 L93.41,511.7 L93.86,510.29 L94.29,510.82 L94.89,505.7 L95.35,511.7 L95.92,506.54 L96.54,511.7 L99.23,511.7 L99.87,502.32 L100.27,511.7 L100.87,511.7 L101.49,501.91 L102.09,511.7 L103.97,511.7 L104.42,495.49 L104.82,501.41 L105.49,507.74 L105.91,503.64 L106.52,511.7 L106.96,501.42 L107.42,510.85 L108.01,498.82 L108.67,506.69 L109.1,510.04 L109.55,503.2 L110.14,506.01 L110.75,511.7 L111.44,505.86 L112.12,511.7 L112.57,507.32 L113.06,511.7 L113.47,511.7 L114.06,509.95 L114.5,511.7 L114.99,511.7 L115.42,507.83 L115.91,511.7 L116.6,498.41 L117.2,511.7 L117.86,499.99 L118.49,511.7 L119.02,507.54 L119.59,511.7 L119.98,501.07 L120.39,497.61 L120.81,495.51 L121.52,511.7 L122.16,511.28 L122.72,497.11 L123.13,501.62 L123.66,498.19 L124.23,504.88 L124.67,509.17 L125.38,501.78 L125.94,502.36 L126.42,511.29 L127.07,504.28 L127.53,509.16 L128.08,511.7 L128.49,506.43 L129.16,508.41 L129.55,511.7 L130.14,501.42 L130.61,499.86 L131.07,507.54 L131.7,511.7 L133.07,511.7 L133.75,490.83 L134.16,511.7 L134.67,508.5 L135.17,511.7 L135.56,505.78 L136.16,511.7 L138.9,511.7 L139.49,504.27 L139.88,503.25 L140.37,504.79 L140.78,496.13 L141.21,511.7 L141.76,508.57 L142.16,497.44 L142.85,511.46 L143.48,494.27 L144.11,511.7 L145.91,511.7 L146.52,504.09 L147.11,509.66 L147.63,504.96 L148.02,502.06 L148.55,498.75 L149.14,511.7 L149.72,511.7 L150.36,497.65 L151.06,504.46 L151.69,495.8 L152.13,511.7 L152.68,501.19 L153.23,511.41 L153.68,490.46 L154.31,498.73 L154.95,498.37 L155.61,511.7 L156.25,511.7 L156.7,504.21 L157.23,505.52 L157.93,508.49 L158.38,511.7 L158.78,506.94 L159.37,503.19 L160.03,499.14 L160.56,509.25 L160.96,503.09 L161.61,511.7 L162.24,506.15 L162.8,504.03 L163.32,486 L163.82,498.33 L164.36,507.87 L165.02,510.58 L165.42,511.7 L165.82,498.56 L166.33,496.17 L166.89,507.42 L167.6,504.58 L168.21,511.28 L168.61,511.7 L169.27,502.83 L169.93,511.27 L170.64,498.45 L171.04,490.99 L171.67,502.48 L172.2,507.66 L172.59,509.67 L173.14,507.58 L173.59,502.52 L174.05,495.67 L174.49,508.88 L175.09,499.25 L175.67,511.7 L176.14,511.7 L176.75,503.7 L177.33,505.67 L177.93,511.05 L178.35,483.92 L179,511.7 L179.53,510.14 L179.93,511.7 L180.56,502.53 L181.22,510.29 L181.64,497.82 L182.17,511.7 L182.59,500.15 L182.99,511.7 L183.4,511.7 L184.01,497.74 L184.6,494.15 L185.05,511.7 L185.75,496.37 L186.15,510.95 L186.85,505.56 L187.55,511.7 L188.02,499.54 L188.68,504.38 L189.24,500.88 L189.87,511.16 L190.27,506.64 L190.71,509.77 L191.15,495.67 L191.84,511.54 L192.41,511.7 L193.08,507.9 L193.67,495.23 L194.33,508.91 L195,509.87 L195.46,510.57 L196.1,510.05 L196.76,503 L197.44,511.7 L198.01,503.37 L198.44,511.7 L198.9,511.7 L199.54,499.13 L200.02,505.02 L200.54,511.7 L201.15,509.63 L201.6,499.58 L202.09,500.33 L202.74,503.58 L203.19,503.49 L203.69,490.21 L204.15,506.4 L204.83,505.59 L205.45,490.96 L206.04,511.19 L206.74,507.59 L207.39,494.34 L207.83,488.07 L208.28,511.7 L208.72,503.33 L209.22,504.18 L209.87,506.39 L210.48,501.68 L211.13,493.07 L211.74,507.01 L212.23,510.09 L212.76,506.79 L213.14,507.39 L213.59,511.7 L214.04,511.7 L214.68,510.55 L215.26,506.64 L215.71,510.98 L216.41,508.46 L217.12,511.7 L217.52,509.94 L218.01,509.08 L218.47,508.41 L218.91,504.69 L219.1,503.76 L219.52,501.72 L220.22,497.99 L220.87,495.37 L221.44,497.91 L222.01,499.02 L222.1,503.11 L222.14,504.82 L222.18,506.49 L222.22,508.14 L222.26,509.75 L222.3,511.32 L222.34,511.7 L222.78,511.7 L222.82,510.73 L222.86,509.62 L222.9,508.49 L222.94,507.36 L222.98,506.22 L223.02,505.07 L223.06,503.91 L223.1,502.75 L223.14,501.57 L223.17,500.74 L223.18,500.62 L223.22,500.24 L223.26,499.86 L223.3,499.47 L223.34,499.09 L223.38,498.71 L223.42,498.32 L223.46,497.94 L223.5,497.56 L223.54,497.17 L223.58,496.79 L223.62,496.4 L223.66,496.02 L223.7,495.63 L223.74,495.25 L223.78,494.86 L223.82,494.48 L223.84,494.24 L223.86,494.61 L223.9,495.61 L223.94,496.58 L223.98,497.55 L224.02,498.49 L224.06,499.43 L224.1,500.34 L224.14,501.21 L224.18,502.07 L224.22,502.9 L224.26,503.7 L224.3,504.49 L224.34,505.25 L224.38,505.99 L224.42,506.7 L224.46,507.39 L224.49,507.87 L224.5,507.55 L224.54,506.34 L224.58,505.11 L224.62,503.87 L224.66,502.62 L224.7,501.34 L224.74,500.06 L224.78,498.75 L224.82,497.44 L224.86,496.1 L224.9,494.76 L224.94,493.4 L224.98,492.03 L225.02,490.64 L225.06,489.24 L225.07,489.03 L225.1,489.41 L225.14,489.86 L225.18,490.3 L225.22,490.73 L225.26,491.15 L225.3,491.57 L225.34,491.97 L225.38,492.37 L225.42,492.76 L225.46,493.14 L225.5,493.51 L225.54,493.87 L225.58,494.22 L225.62,494.56 L225.66,494.88 L225.7,495.2 L225.74,495.51 L225.75,495.55 L225.78,495.95 L225.82,496.39 L225.86,496.81 L225.9,497.21 L225.94,497.6 L225.98,497.97 L226.02,498.32 L226.06,498.66 L226.1,498.97 L226.14,499.27 L226.18,499.55 L226.22,499.81 L226.25,499.97 L226.26,499.74 L226.3,499.02 L226.34,498.29 L226.38,497.56 L226.42,496.82 L226.46,496.07 L226.5,495.32 L226.54,494.57 L226.58,493.81 L226.62,493.04 L226.66,492.27 L226.68,491.97 L226.7,492.07 L226.74,492.23 L226.78,492.37 L226.82,492.51 L226.86,492.64 L226.9,492.75 L226.94,492.86 L226.98,492.95 L227.02,493.04 L227.06,493.11 L227.09,493.16 L227.1,493.01 L227.14,492.56 L227.18,492.11 L227.22,491.65 L227.26,491.2 L227.3,490.74 L227.34,490.28 L227.38,489.83 L227.4,489.6 L227.42,489.37 L227.46,488.91 L227.5,488.46 L227.54,488 L227.57,487.62 L227.58,487.58 L227.62,487.37 L227.66,487.15 L227.7,486.94 L227.74,486.72 L227.78,486.5 L227.82,486.28 L227.86,486.06 L227.9,485.84 L227.94,485.61 L227.98,485.39 L228.02,485.16 L228.06,484.94 L228.1,484.71 L228.14,484.48 L228.18,484.25 L228.19,484.2 L228.22,484.01 L228.26,483.78 L228.3,483.55 L228.34,483.31 L228.38,483.07 L228.42,482.84 L228.46,482.6 L228.5,482.36 L228.54,482.11 L228.58,481.87 L228.62,481.63 L228.66,481.38 L228.68,481.26 L228.86,481.25 L228.9,481.22 L228.94,481.17 L228.98,481.12 L229.02,481.05 L229.06,480.98 L229.1,480.89 L229.14,480.8 L229.18,480.69 L229.22,480.58 L229.26,480.45 L229.3,480.32 L229.34,480.18 L229.35,480.14 L229.38,479.88 L229.42,479.51 L229.46,479.15 L229.5,478.78 L229.54,478.42 L229.58,478.05 L229.6,477.87 L229.62,477.63 L229.66,477.15 L229.7,476.68 L229.74,476.2 L229.78,475.73 L229.82,475.25 L229.86,474.77 L229.9,474.3 L229.94,473.82 L229.98,473.34 L230.01,473.01 L230.02,472.84 L230.06,472.28 L230.1,471.72 L230.14,471.16 L230.18,470.6 L230.22,470.04 L230.26,469.48 L230.3,468.91 L230.34,468.35 L230.38,467.79 L230.42,467.22 L230.46,466.66 L230.5,466.09 L230.54,465.53 L230.58,464.96 L230.6,464.68 L230.62,464.35 L230.62,464.29 L230.66,463.57 L230.7,462.84 L230.74,462.11 L230.78,461.38 L230.82,460.65 L230.86,459.92 L230.9,459.19 L230.94,458.46 L230.98,457.73 L231.02,456.99 L231.06,456.28 L231.06,456.27 L231.1,455.88 L231.14,455.46 L231.18,455.02 L231.22,454.55 L231.26,454.05 L231.3,453.53 L231.34,451.99 L231.38,450.41 L231.42,448.79 L231.45,447.62 L231.46,447.09 L231.5,445.27 L231.54,443.45 L231.58,441.62 L231.62,439.79 L231.66,437.95 L231.7,436.11 L231.74,434.26 L231.78,432.41 L231.82,430.56 L231.86,428.7 L231.9,427.02 L231.9,426.84 L231.94,425 L231.98,423.15 L232.02,421.3 L232.06,419.44 L232.1,417.57 L232.14,415.71 L232.18,413.84 L232.2,412.9 L232.22,411.94 L232.26,410.03 L232.3,408.12 L232.34,406.2 L232.38,404.28 L232.42,402.35 L232.46,400.43 L232.5,398.7 L232.5,398.5 L232.54,396.6 L232.58,394.69 L232.62,392.77 L232.66,390.84 L232.7,388.91 L232.74,386.98 L232.78,385.04 L232.82,383.1 L232.86,381.16 L232.9,379.21 L232.94,377.27 L232.98,375.32 L233,374.35 L233.02,372.96 L233.05,370.96 L233.06,370.19 L233.1,367.42 L233.14,364.65 L233.18,361.87 L233.22,359.1 L233.26,356.33 L233.3,353.55 L233.34,350.78 L233.38,348 L233.4,346.62 L233.42,346.26 L233.46,345.56 L233.5,344.85 L233.5,344.8 L233.54,344.15 L233.58,343.45 L233.62,342.74 L233.66,342.04 L233.7,341.33 L233.74,340.63 L233.78,339.93 L233.82,339.22 L233.86,338.52 L233.9,337.81 L233.94,337.11 L233.98,336.4 L234.02,335.7 L234.06,335 L234.1,334.29 L234.14,335 L234.16,335.37 L234.18,335.7 L234.22,336.4 L234.26,337.11 L234.3,337.81 L234.34,338.52 L234.38,339.22 L234.42,339.92 L234.46,340.63 L234.5,341.33 L234.54,342.04 L234.58,342.74 L234.62,343.44 L234.66,344.15 L234.7,344.85 L234.74,345.55 L234.77,346.15 L234.78,346.26 L234.8,346.61 L234.82,348 L234.86,350.77 L234.9,353.54 L234.94,356.32 L234.98,359.09 L235.02,361.86 L235.06,364.63 L235.1,367.4 L235.14,370.18 L235.18,372.95 L235.2,374.33 L235.22,375.31 L235.26,377.26 L235.3,379 L235.3,379.21 L235.34,381.16 L235.38,383.11 L235.42,385.05 L235.46,387 L235.5,388.94 L235.54,390.89 L235.58,392.83 L235.62,394.77 L235.66,396.71 L235.7,398.57 L235.7,398.65 L235.74,400.59 L235.78,402.54 L235.82,404.48 L235.86,406.42 L235.9,408.36 L235.94,410.3 L235.98,412.24 L236,413.21 L236.02,414.16 L236.06,416.06 L236.1,417.97 L236.14,419.87 L236.18,421.77 L236.21,423.27 L236.22,423.66 L236.26,425.53 L236.3,427.4 L236.34,429.25 L236.38,431.1 L236.42,432.94 L236.46,434.76 L236.5,436.57 L236.54,438.36 L236.58,440.14 L236.62,441.89 L236.66,443.62 L236.7,445.33 L236.74,447 L236.78,448.64 L236.82,450.24 L236.85,451.58 L236.86,451.84 L236.9,453.7 L236.94,454.57 L236.98,455.44 L237.02,456.31 L237.06,457.17 L237.1,458.03 L237.14,458.89 L237.18,459.75 L237.22,460.6 L237.26,461.45 L237.3,462.3 L237.34,463.15 L237.38,463.99 L237.38,464.08 L237.42,464.63 L237.46,465.22 L237.5,465.8 L237.54,466.36 L237.58,466.9 L237.6,467.16 L237.62,467.3 L237.66,467.56 L237.7,467.81 L237.74,468.03 L237.78,468.24 L237.82,468.42 L237.86,468.59 L237.9,468.73 L237.94,468.85 L237.98,468.94 L238.01,469 L238.02,469.09 L238.06,469.53 L238.1,469.98 L238.14,470.42 L238.18,470.86 L238.22,471.3 L238.26,471.74 L238.3,472.18 L238.34,472.62 L238.38,473.05 L238.41,473.4 L238.42,473.58 L238.46,474.41 L238.5,475.23 L238.54,476.03 L238.58,476.82 L238.6,477.21 L238.62,477.55 L238.66,478.2 L238.7,478.84 L238.74,479.47 L238.78,480.08 L238.8,480.38 L238.82,480.68 L238.86,481.26 L238.89,481.7 L238.9,481.75 L238.94,481.96 L238.98,482.16 L239.02,482.36 L239.06,482.55 L239.1,482.74 L239.14,482.92 L239.18,483.1 L239.22,483.26 L239.26,483.42 L239.3,483.58 L239.34,483.72 L239.38,483.86 L239.42,483.99 L239.46,484.12 L239.5,484.23 L239.5,484.23 L239.54,484.31 L239.58,484.38 L239.62,484.44 L239.66,484.48 L239.7,484.52 L239.9,484.53 L239.94,484.78 L239.98,485.05 L240.02,485.31 L240.06,485.57 L240.1,485.84 L240.14,486.1 L240.18,486.36 L240.22,486.62 L240.26,486.87 L240.3,487.13 L240.34,487.39 L240.38,487.64 L240.42,487.89 L240.46,488.14 L240.47,488.18 L240.5,488.51 L240.54,488.9 L240.58,489.28 L240.62,489.67 L240.66,490.05 L240.7,490.43 L240.74,490.81 L240.78,491.19 L240.8,491.38 L240.82,491.57 L240.86,491.95 L240.9,492.32 L240.94,492.7 L240.98,493.07 L241.02,493.44 L241.06,493.81 L241.06,493.84 L241.1,493.57 L241.14,493.26 L241.18,492.91 L241.22,492.54 L241.26,492.14 L241.3,491.7 L241.34,491.24 L241.38,490.75 L241.42,490.22 L241.46,489.66 L241.5,489.08 L241.51,488.96 L241.54,489.64 L241.58,490.48 L241.62,491.3 L241.66,492.11 L241.7,492.91 L241.74,493.69 L241.78,494.46 L241.8,494.84 L241.82,495.21 L241.84,495.58 L241.86,495.95 L241.88,496.32 L241.9,496.68 L241.92,497.03 L241.94,497.39 L241.96,497.74 L241.98,498.08 L242,498.42 L242.02,498.76 L242.04,499.1 L242.06,499.37 L242.06,499.32 L242.08,499.02 L242.1,498.7 L242.12,498.37 L242.14,498.03 L242.16,497.68 L242.18,497.31 L242.2,496.93 L242.22,496.54 L242.24,496.13 L242.26,495.71 L242.28,495.28 L242.3,494.83 L242.32,494.37 L242.34,493.9 L242.36,493.41 L242.38,492.91 L242.4,492.4 L242.42,491.88 L242.44,491.34 L242.46,490.79 L242.48,490.33 L242.48,490.37 L242.5,490.63 L242.52,490.89 L242.54,491.15 L242.56,491.41 L242.58,491.67 L242.6,491.93 L242.62,492.18 L242.64,492.44 L242.66,492.69 L242.68,492.95 L242.7,493.2 L242.72,493.45 L242.74,493.7 L242.76,493.95 L242.78,494.19 L242.8,494.44 L242.82,494.69 L242.84,494.93 L242.86,495.17 L242.88,495.41 L242.9,495.65 L242.92,495.89 L242.94,496.13 L242.94,496.17 L242.96,496.38 L242.98,496.64 L243,496.89 L243.02,497.14 L243.04,497.39 L243.06,497.63 L243.08,497.88 L243.1,498.13 L243.12,498.37 L243.14,498.61 L243.16,498.85 L243.18,499.09 L243.2,499.32 L243.22,499.56 L243.24,499.79 L243.26,500.02 L243.28,500.25 L243.3,500.48 L243.32,500.71 L243.34,500.93 L243.34,500.95 L243.36,500.56 L243.38,500.13 L243.4,499.69 L243.42,499.24 L243.44,498.78 L243.46,498.31 L243.48,497.83 L243.5,497.34 L243.52,496.84 L243.54,496.33 L243.56,495.8 L243.58,495.27 L243.6,494.73 L243.62,494.18 L243.64,493.62 L243.66,493.05 L243.68,492.46 L243.7,491.87 L243.72,491.28 L243.74,490.67 L243.76,490.05 L243.78,489.43 L243.8,488.79 L243.82,488.14 L243.84,487.49 L243.86,486.82 L243.88,486.15 L243.9,485.56 L243.9,485.64 L243.92,486.23 L243.94,486.81 L243.96,487.39 L243.98,487.96 L244,488.52" stroke="#ff0000" stroke-width="1.8" stroke-dasharray="7.8,6.4" stroke-dashoffset="10.9"/>
<path d="M244,488.52 L244.02,489.08 L244.04,489.63 L244.06,490.18 L244.08,490.72 L244.1,491.25 L244.12,491.77 L244.14,492.28 L244.16,492.79 L244.18,493.28 L244.2,493.77 L244.22,494.25 L244.24,494.73 L244.26,495.19 L244.28,495.65 L244.3,496.1 L244.32,496.55 L244.34,496.98 L244.36,497.41 L244.38,497.83 L244.4,498.24 L244.42,498.64 L244.44,499.04 L244.46,499.43 L244.48,499.8 L244.5,500.17 L244.51,500.31 L244.52,500.16 L244.54,499.91 L244.56,499.66 L244.58,499.41 L244.6,499.16 L244.62,498.9 L244.64,498.64 L244.66,498.38 L244.68,498.12 L244.7,497.86 L244.72,497.59 L244.74,497.32 L244.76,497.05 L244.78,496.78 L244.8,496.51 L244.82,496.24 L244.84,495.96 L244.86,495.68 L244.88,495.41 L244.9,495.12 L244.92,494.84 L244.94,494.56 L244.95,494.46 L244.96,494.52 L244.98,494.62 L245,494.72 L245.02,494.82 L245.04,494.91 L245.06,495 L245.08,495.09 L245.1,495.18 L245.12,495.27 L245.14,495.36 L245.16,495.44 L245.18,495.53 L245.2,495.61 L245.22,495.69 L245.24,495.77 L245.26,495.84 L245.28,495.92 L245.3,495.99 L245.32,496.07 L245.34,496.14 L245.36,496.21 L245.38,496.27 L245.4,496.34 L245.42,496.4 L245.44,496.46 L245.46,496.52 L245.48,496.58 L245.5,496.64 L245.52,496.69 L245.52,496.69 L245.54,496.74 L245.56,496.78 L245.58,496.82 L245.6,496.86 L245.62,496.9 L245.64,496.94 L245.66,496.97 L245.68,497.01 L245.7,497.04 L245.72,497.07 L246.06,497.33 L246.06,497.28 L246.08,497 L246.1,496.72 L246.12,496.44 L246.16,495.86 L246.2,495.28 L246.24,494.69 L246.28,494.09 L246.32,493.49 L246.36,492.88 L246.4,492.26 L246.44,491.63 L246.48,491 L246.52,490.35 L246.56,489.71 L246.6,489.05 L246.64,488.45 L246.64,488.4 L246.68,487.87 L246.72,487.33 L246.76,486.8 L246.8,486.26 L246.84,485.71 L246.88,485.16 L246.92,484.61 L246.96,484.06 L247,483.5 L247.04,482.95 L247.08,482.38 L247.1,482.1 L247.12,481.82 L247.16,481.25 L247.2,480.68 L247.24,480.11 L247.28,479.53 L247.31,479.15 L247.32,479.3 L247.36,479.7 L247.4,480.08 L247.44,480.45 L247.48,480.8 L247.52,481.13 L247.56,481.44 L247.6,481.73 L247.64,482.01 L247.68,482.26 L247.72,482.5 L247.74,482.64 L247.76,482.87 L247.8,483.43 L247.84,483.94 L247.88,484.4 L247.92,484.81 L247.96,485.18 L248,485.49 L248.04,485.77 L248.08,486 L248.12,486.19 L248.14,486.27 L248.16,486.06 L248.2,485.61 L248.24,485.16 L248.28,484.71 L248.32,484.26 L248.36,483.8 L248.4,483.35 L248.44,482.89 L248.48,482.42 L248.52,481.96 L248.56,481.49 L248.6,481.03 L248.64,480.55 L248.68,480.08 L248.72,479.61 L248.76,479.13 L248.78,478.88 L248.8,478.87 L248.84,478.84 L248.88,478.79 L248.92,478.74 L248.96,478.67 L249,478.59 L249.04,478.5 L249.08,478.39 L249.1,478.34 L249.12,478.28 L249.16,478.16 L249.2,478.02 L249.23,477.91 L249.24,477.82 L249.28,477.38 L249.3,477.15 L249.32,476.88 L249.36,476.32 L249.4,475.77 L249.44,475.21 L249.48,474.65 L249.52,474.1 L249.56,473.54 L249.6,472.97 L249.64,472.41 L249.68,471.85 L249.72,471.29 L249.76,470.72 L249.78,470.5 L249.8,470.29 L249.84,469.94 L249.88,469.58 L249.92,469.22 L249.96,468.85 L250,468.49 L250.04,468.11 L250.08,467.74 L250.12,467.36 L250.16,466.97 L250.2,466.59 L250.24,466.2 L250.28,465.8 L250.3,465.61 L250.32,465.29 L250.36,464.65 L250.39,464.12 L250.4,464.03 L250.44,463.51 L250.48,462.97 L250.52,462.41 L250.56,461.83 L250.6,461.23 L250.64,460.62 L250.68,460 L250.72,459.36 L250.76,458.71 L250.8,458.05 L250.84,457.37 L250.88,456.69 L250.9,456.3 L250.92,455.95 L250.96,455.12 L251,454.29 L251.04,452.4 L251.08,450.51 L251.12,448.62 L251.16,446.72 L251.2,444.83 L251.24,442.93 L251.28,441.04 L251.32,439.14 L251.36,437.24 L251.4,435.34 L251.44,433.45 L251.48,431.55 L251.52,429.65 L251.55,428.17 L251.56,427.77 L251.6,425.95 L251.64,424.13 L251.68,422.29 L251.72,420.45 L251.76,418.6 L251.8,416.74 L251.84,414.87 L251.88,413 L251.9,412.06 L251.92,411.11 L251.96,409.19 L252,407.27 L252.03,405.67 L252.04,405.35 L252.08,403.42 L252.12,401.48 L252.16,399.55 L252.2,397.61 L252.24,395.68 L252.28,393.74 L252.32,391.8 L252.36,389.86 L252.4,387.91 L252.44,385.97 L252.48,384.03 L252.52,382.08 L252.56,380.14 L252.6,378.19 L252.64,376.36 L252.64,376.24 L252.68,374.29 L252.7,373.32 L252.72,371.93 L252.76,369.17 L252.8,366.4 L252.84,363.62 L252.88,360.85 L252.92,358.08 L252.96,355.31 L253,352.54 L253.04,349.77 L253.08,347 L253.1,345.61 L253.12,345.26 L253.16,344.55 L253.2,343.85 L253.21,343.76 L253.24,343.14 L253.28,342.44 L253.32,341.74 L253.36,341.03 L253.4,340.33 L253.44,339.63 L253.48,338.92 L253.52,338.22 L253.56,337.52 L253.6,336.81 L253.64,336.11 L253.68,335.4 L253.72,334.7 L253.76,334 L253.79,333.43 L253.8,333.29 L253.84,334 L253.88,334.7 L253.92,335.41 L253.96,336.11 L254,336.81 L254.04,337.52 L254.08,338.22 L254.12,338.93 L254.16,339.63 L254.2,340.34 L254.24,341.04 L254.28,341.75 L254.32,342.45 L254.36,343.16 L254.4,343.86 L254.44,344.56 L254.44,344.57 L254.48,345.27 L254.5,345.62 L254.52,347.01 L254.56,349.78 L254.6,352.55 L254.64,355.32 L254.68,358.1 L254.72,360.87 L254.76,363.64 L254.8,366.41 L254.84,369.18 L254.88,371.94 L254.9,373.33 L254.92,374.3 L254.94,375.46 L254.96,376.25 L255,378.2 L255.04,380.14 L255.08,382.09 L255.12,384.04 L255.16,385.98 L255.2,387.93 L255.24,389.87 L255.28,391.82 L255.32,393.76 L255.36,395.7 L255.4,397.64 L255.44,399.59 L255.48,401.53 L255.49,402.11 L255.52,403.47 L255.56,405.41 L255.6,407.35 L255.64,409.28 L255.68,411.22 L255.7,412.19 L255.72,413.14 L255.76,415.04 L255.8,416.94 L255.84,418.84 L255.88,420.74 L255.92,422.64 L255.96,424.53 L256,426.42 L256.04,428.31 L256.08,430.2 L256.12,432.09 L256.12,432.27 L256.16,433.96 L256.2,435.83 L256.24,437.69 L256.28,439.55 L256.32,441.4 L256.36,443.24 L256.4,445.08 L256.44,446.91 L256.48,448.73 L256.52,450.54 L256.56,452.34 L256.6,454.13 L256.63,454.73 L256.64,454.86 L256.68,455.6 L256.72,456.34 L256.76,457.07 L256.8,457.81 L256.84,458.54 L256.88,459.27 L256.92,460 L256.96,460.72 L257,461.44 L257.04,462.16 L257.08,462.88 L257.12,463.6 L257.16,464.31 L257.2,465.02 L257.2,465.08 L257.24,465.68 L257.28,466.34 L257.3,466.66 L257.32,466.86 L257.36,467.26 L257.4,467.65 L257.44,468.03 L257.48,468.41 L257.52,468.79 L257.56,469.16 L257.6,469.52 L257.64,469.88 L257.68,470.24 L257.72,470.58 L257.76,470.93 L257.8,471.26 L257.84,471.59 L257.84,471.61 L257.88,472 L257.92,472.42 L257.96,472.83 L258,473.25 L258.04,473.66 L258.08,474.07 L258.12,474.48 L258.16,474.88 L258.2,475.29 L258.24,475.69 L258.28,476.09 L258.3,476.29 L258.3,476.29 L258.32,476.38 L258.36,476.56 L258.4,476.73 L258.44,476.9 L258.48,477.06 L258.52,477.22 L258.56,477.37 L258.6,477.51 L258.64,477.65 L258.68,477.78 L258.72,477.9 L258.76,478.02 L258.76,478.03 L258.8,478.23 L258.84,478.43 L258.88,478.64 L258.92,478.84 L258.96,479.04 L259,479.23 L259.04,479.43 L259.08,479.62 L259.12,479.81 L259.16,479.99 L259.2,480.17 L259.24,480.35 L259.28,480.53 L259.3,480.6 L259.32,480.87 L259.36,481.33 L259.4,481.79 L259.44,482.24 L259.48,482.7 L259.52,483.16 L259.56,483.61 L259.6,484.07 L259.64,484.52 L259.68,484.97 L259.72,485.43 L259.76,485.88 L259.8,486.33 L259.83,486.67 L259.84,486.75 L259.88,487.09 L259.92,487.42 L259.96,487.76 L260,488.1 L260.04,488.43 L260.08,488.77 L260.12,489.1 L260.16,489.44 L260.2,489.77 L260.24,490.11 L260.28,490.44 L260.32,490.77 L260.36,491.11 L260.4,491.44 L260.44,491.78 L260.48,492.11 L260.5,492.28 L260.52,492.45 L260.52,492.45 L260.56,492.59 L260.6,492.74 L260.64,492.88 L260.68,493.01 L260.72,493.14 L260.76,493.27 L260.8,493.4 L260.84,493.52 L260.88,493.63 L260.92,493.75 L260.96,493.86 L261,493.96 L261.04,494.06 L261.08,494.16 L261.12,494.25 L261.16,494.34 L261.16,494.35 L261.2,494.15 L261.24,493.91 L261.28,493.66 L261.32,493.39 L261.36,493.11 L261.4,492.8 L261.44,492.49 L261.48,492.15 L261.52,491.8 L261.56,491.43 L261.6,491.05 L261.64,490.65 L261.68,490.24 L261.72,489.81 L261.76,489.37 L261.8,488.91 L261.83,488.54 L261.84,488.92 L261.88,490.53 L261.92,492.12 L261.96,493.67 L262,495.18 L262.04,496.66 L262.08,498.11 L262.12,499.52 L262.16,500.89 L262.2,502.22 L262.22,502.76 L262.24,502.43 L262.28,501.83 L262.32,501.19 L262.36,500.52 L262.4,499.81 L262.44,499.06 L262.48,498.28 L262.52,497.47 L262.56,496.62 L262.6,495.74 L262.64,494.83 L262.68,493.88 L262.71,493.12 L262.72,493.31 L262.76,494.22 L262.8,495.12 L262.84,496.03 L262.88,496.92 L262.92,497.81 L262.96,498.7 L263,499.58 L263.04,500.46 L263.08,501.33 L263.12,502.2 L263.15,502.91 L263.16,502.87 L263.2,502.65 L263.24,502.41 L263.28,502.17 L263.32,501.92 L263.36,501.66 L263.4,501.4 L263.44,501.13 L263.48,500.85 L263.52,500.56 L263.56,500.27 L263.6,499.97 L263.64,499.66 L263.68,499.35 L263.72,499.03 L263.76,498.71 L263.78,498.58 L263.8,499.31 L263.84,500.5 L263.88,501.67 L263.92,502.83 L263.96,503.98 L264,505.12 L264.04,506.25 L264.08,507.36 L264.12,508.46 L264.16,509.54 L264.2,510.61 L264.24,511.67 L264.28,511.7 L264.36,511.7 L264.4,510.95 L264.44,509.2 L264.48,507.37 L264.52,505.48 L264.56,503.52 L264.6,501.5 L264.64,499.43 L264.68,497.3 L264.72,495.13 L264.76,492.91 L264.8,490.65 L264.83,489.2 L265.39,489.22 L265.4,489.72 L265.44,492.02 L265.48,494.29 L265.52,496.53 L265.56,498.76 L265.6,500.96 L265.64,503.13 L265.68,505.26 L265.72,507.37 L265.76,509.44 L265.8,511.48 L265.92,511.7 L266.99,511.7 L267.56,506.52 L268.13,504.25 L268.59,510.79 L268.8,509.88 L269.09,508.57 L269.53,511.7 L269.97,508.28 L270.43,511.7 L270.84,504.24 L271.25,511.7 L271.64,511.7 L272.28,506.44 L272.91,511.7 L273.33,511.7 L273.88,495.54 L274.53,511.21 L275.21,495.12 L275.65,511.7 L276.05,511.7 L276.51,500.59 L277.01,511.7 L277.46,509.16 L278.17,511.7 L278.57,511.7 L279.15,503.05 L279.8,511.7 L280.29,501.69 L280.79,504.37 L281.34,511.7 L281.75,508.64 L282.42,511.7 L283.03,511.7 L283.53,510.58 L284.07,511.7 L284.54,505.96 L285,499.32 L285.5,511.7 L286.16,501.97 L286.64,506.54 L287.12,511.7 L288.07,511.7 L288.76,502.84 L289.43,511.7 L290.51,511.7 L290.96,511.15 L291.63,511.7 L292.12,511.7 L292.81,491.98 L293.49,511.7 L294.18,506.33 L294.65,511.7 L295.22,503.18 L295.69,510.69 L296.15,511.7 L296.69,508.17 L297.11,507.68 L297.69,511.7 L300,511.7 L300.48,509.32 L300.92,511.7 L301.37,507.16 L302.04,507.03 L302.72,511.7 L303.32,511.7 L303.79,511.36 L304.43,511.37 L304.83,509.35 L305.34,511.7 L306.02,510.59 L306.69,506.64 L307.29,511.7 L307.94,510.79 L308.53,509.71 L309.01,511.7 L309.63,511.7 L310.11,493.91 L310.53,511.7 L312.34,511.7 L313,495.68 L313.68,508.02 L314.21,511.51 L314.77,502.84 L315.19,511.7 L318.58,511.7 L319.14,495.1 L319.66,511.7 L320.21,510.17 L320.65,511.7 L323.52,511.7 L324,507.71 L324.51,511.7 L329.29,511.7 L329.7,500.4 L330.28,511.7 L330.99,511.7 L331.51,509.83 L332.2,511.7 L332.7,508.8 L333.27,511.7 L337.55,511.7 L337.97,509.59 L338.4,511.7 L339.76,511.7 L340.27,506.18 L340.9,494.67 L341.31,508.82 L341.91,511.7 L342.94,511.7 L343.55,502.07 L344.05,511.7 L344.47,511.7 L345.17,504 L345.73,511.7 L346.67,511.7 L347.16,499.92 L347.69,511.7 L348.18,511.7 L348.71,510.22 L349.12,510.09 L349.84,511.7 L350.32,511.7 L350.84,511.16 L351.52,511.7 L352.14,511.7 L352.68,511.51 L353.14,511.7 L359.09,511.7 L359.65,507.75 L360.22,511.7 L360.63,511.7 L361.14,504.51 L361.76,510.41" stroke="#ff0000" stroke-width="1.8" stroke-dasharray="7.8,6.4" stroke-dashoffset="3.23"/>
</g>
<line x1="50" y1="280.5" x2="50" y2="511.7" stroke="#000" stroke-width="1.1"/>
<line x1="50" y1="511.7" x2="361.5" y2="511.7" stroke="#000" stroke-width="1.1"/>
<line x1="165.7" y1="312.6" x2="244.9" y2="312.6" stroke="#000" stroke-width="2.0"/>
<path d="M254,312.6 L243.9,309.75 L243.9,315.45 Z" fill="#000"/>
<line x1="247" y1="333.5" x2="309" y2="333.5" stroke="#000" stroke-width="1"/>
<line x1="232" y1="484.3" x2="314" y2="484.3" stroke="#000" stroke-width="1"/>
<line x1="281.1" y1="341.3" x2="281.1" y2="394" stroke="#000" stroke-width="1.0"/>
<line x1="281.1" y1="410.5" x2="281.1" y2="476.7" stroke="#000" stroke-width="1.0"/>
<path d="M281.1,336.1 L279.35,341.8 L282.85,341.8 Z" fill="#000"/>
<path d="M281.1,481.9 L279.35,476.2 L282.85,476.2 Z" fill="#000"/>
<text x="270.5" y="406.6" font-size="15" textLength="34.3" lengthAdjust="spacingAndGlyphs">28dB</text>
<line x1="46.5" y1="564.5" x2="363.5" y2="564.5" stroke="#000" stroke-width="1"/>
<line x1="363.5" y1="564.5" x2="363.5" y2="801.3" stroke="#000" stroke-width="1"/>
<line x1="42" y1="564.5" x2="46.5" y2="564.5" stroke="#000" stroke-width="1"/>
<text x="19.4" y="569.48" font-size="12.4" textLength="19" lengthAdjust="spacingAndGlyphs">-20</text>
<line x1="44" y1="590.81" x2="46.5" y2="590.81" stroke="#000" stroke-width="1"/>
<line x1="42" y1="617.12" x2="46.5" y2="617.12" stroke="#000" stroke-width="1"/>
<text x="19.4" y="622.1" font-size="12.4" textLength="19" lengthAdjust="spacingAndGlyphs">-30</text>
<line x1="44" y1="643.43" x2="46.5" y2="643.43" stroke="#000" stroke-width="1"/>
<line x1="42" y1="669.74" x2="46.5" y2="669.74" stroke="#000" stroke-width="1"/>
<text x="19.4" y="674.72" font-size="12.4" textLength="19" lengthAdjust="spacingAndGlyphs">-40</text>
<line x1="44" y1="696.06" x2="46.5" y2="696.06" stroke="#000" stroke-width="1"/>
<line x1="42" y1="722.37" x2="46.5" y2="722.37" stroke="#000" stroke-width="1"/>
<text x="19.4" y="727.34" font-size="12.4" textLength="19" lengthAdjust="spacingAndGlyphs">-50</text>
<line x1="44" y1="748.68" x2="46.5" y2="748.68" stroke="#000" stroke-width="1"/>
<line x1="42" y1="774.99" x2="46.5" y2="774.99" stroke="#000" stroke-width="1"/>
<text x="19.4" y="779.97" font-size="12.4" textLength="19" lengthAdjust="spacingAndGlyphs">-60</text>
<line x1="44" y1="801.3" x2="46.5" y2="801.3" stroke="#000" stroke-width="1"/>
<line x1="46.5" y1="801.3" x2="46.5" y2="805.3" stroke="#000" stroke-width="1"/>
<text x="32.49" y="820.49" font-size="12.7" textLength="27.83" lengthAdjust="spacingAndGlyphs">1520</text>
<line x1="69.14" y1="801.3" x2="69.14" y2="803.8" stroke="#000" stroke-width="1"/>
<line x1="91.79" y1="801.3" x2="91.79" y2="805.3" stroke="#000" stroke-width="1"/>
<text x="77.78" y="820.49" font-size="12.7" textLength="27.83" lengthAdjust="spacingAndGlyphs">1530</text>
<line x1="114.43" y1="801.3" x2="114.43" y2="803.8" stroke="#000" stroke-width="1"/>
<line x1="137.07" y1="801.3" x2="137.07" y2="805.3" stroke="#000" stroke-width="1"/>
<text x="123.06" y="820.49" font-size="12.7" textLength="27.83" lengthAdjust="spacingAndGlyphs">1540</text>
<line x1="159.71" y1="801.3" x2="159.71" y2="803.8" stroke="#000" stroke-width="1"/>
<line x1="182.36" y1="801.3" x2="182.36" y2="805.3" stroke="#000" stroke-width="1"/>
<text x="168.35" y="820.49" font-size="12.7" textLength="27.83" lengthAdjust="spacingAndGlyphs">1550</text>
<line x1="205" y1="801.3" x2="205" y2="803.8" stroke="#000" stroke-width="1"/>
<line x1="227.64" y1="801.3" x2="227.64" y2="805.3" stroke="#000" stroke-width="1"/>
<text x="213.63" y="820.49" font-size="12.7" textLength="27.83" lengthAdjust="spacingAndGlyphs">1560</text>
<line x1="250.29" y1="801.3" x2="250.29" y2="803.8" stroke="#000" stroke-width="1"/>
<line x1="272.93" y1="801.3" x2="272.93" y2="805.3" stroke="#000" stroke-width="1"/>
<text x="258.92" y="820.49" font-size="12.7" textLength="27.83" lengthAdjust="spacingAndGlyphs">1570</text>
<line x1="295.57" y1="801.3" x2="295.57" y2="803.8" stroke="#000" stroke-width="1"/>
<line x1="318.21" y1="801.3" x2="318.21" y2="805.3" stroke="#000" stroke-width="1"/>
<text x="304.2" y="820.49" font-size="12.7" textLength="27.83" lengthAdjust="spacingAndGlyphs">1580</text>
<line x1="340.86" y1="801.3" x2="340.86" y2="803.8" stroke="#000" stroke-width="1"/>
<line x1="363.5" y1="801.3" x2="363.5" y2="805.3" stroke="#000" stroke-width="1"/>
<text x="349.49" y="820.49" font-size="12.7" textLength="27.83" lengthAdjust="spacingAndGlyphs">1590</text>
<line x1="46.5" y1="564.5" x2="46.5" y2="568.5" stroke="#000" stroke-width="1"/>
<line x1="78.2" y1="564.5" x2="78.2" y2="567" stroke="#000" stroke-width="1"/>
<line x1="109.9" y1="564.5" x2="109.9" y2="568.5" stroke="#000" stroke-width="1"/>
<line x1="141.6" y1="564.5" x2="141.6" y2="567" stroke="#000" stroke-width="1"/>
<line x1="173.3" y1="564.5" x2="173.3" y2="568.5" stroke="#000" stroke-width="1"/>
<line x1="205" y1="564.5" x2="205" y2="567" stroke="#000" stroke-width="1"/>
<line x1="236.7" y1="564.5" x2="236.7" y2="568.5" stroke="#000" stroke-width="1"/>
<line x1="268.4" y1="564.5" x2="268.4" y2="567" stroke="#000" stroke-width="1"/>
<line x1="300.1" y1="564.5" x2="300.1" y2="568.5" stroke="#000" stroke-width="1"/>
<line x1="331.8" y1="564.5" x2="331.8" y2="567" stroke="#000" stroke-width="1"/>
<line x1="363.5" y1="564.5" x2="363.5" y2="568.5" stroke="#000" stroke-width="1"/>
<line x1="359.5" y1="564.5" x2="363.5" y2="564.5" stroke="#000" stroke-width="1"/>
<line x1="361" y1="588.18" x2="363.5" y2="588.18" stroke="#000" stroke-width="1"/>
<line x1="359.5" y1="611.86" x2="363.5" y2="611.86" stroke="#000" stroke-width="1"/>
<line x1="361" y1="635.54" x2="363.5" y2="635.54" stroke="#000" stroke-width="1"/>
<line x1="359.5" y1="659.22" x2="363.5" y2="659.22" stroke="#000" stroke-width="1"/>
<line x1="361" y1="682.9" x2="363.5" y2="682.9" stroke="#000" stroke-width="1"/>
<line x1="359.5" y1="706.58" x2="363.5" y2="706.58" stroke="#000" stroke-width="1"/>
<line x1="361" y1="730.26" x2="363.5" y2="730.26" stroke="#000" stroke-width="1"/>
<line x1="359.5" y1="753.94" x2="363.5" y2="753.94" stroke="#000" stroke-width="1"/>
<line x1="361" y1="777.62" x2="363.5" y2="777.62" stroke="#000" stroke-width="1"/>
<line x1="359.5" y1="801.3" x2="363.5" y2="801.3" stroke="#000" stroke-width="1"/>
<text x="145.98" y="838.19" font-size="12.45" textLength="118.02" lengthAdjust="spacingAndGlyphs">(c) Wavelength (nm)</text>
<text transform="translate(10.2,734.61) rotate(-90)" font-size="12.87" textLength="94.13" lengthAdjust="spacingAndGlyphs">Intensity (dBm)</text>
<clipPath id="c3"><rect x="46.5" y="564.5" width="317" height="236.8"/></clipPath>
<g clip-path="url(#c3)" fill="none" stroke-linejoin="round">
<path d="M44.5,801.3 L50.7,801.3 L51.5,796.7 L52.3,801.3 L54.9,801.3 L55.85,790 L56.8,800.03 L57.75,792.94 L58.7,801.3 L61.9,801.3 L62.65,791 L63.4,801.3 L64.75,798.9 L66.1,801.3 L75.2,801.3 L76.25,791.5 L77.3,801.3 L78.6,786.2 L79.9,801.3 L80.95,796.7 L82,801.3 L85.2,801.3 L85.9,797.8 L86.6,801.3 L95.1,801.3 L95.96,794.89 L96.82,801.22 L97.69,798.29 L98.55,800.32 L99.41,791 L100.28,799.86 L101.14,796.74 L102,801.3 L106.3,801.3 L107.15,794.6 L108,801.3 L109.3,787.9 L110.6,801.3 L111.6,801.3 L112.65,792.49 L113.7,801.3 L114.78,782.4 L115.85,799.83 L116.92,785.63 L118,801.3 L118.5,801.3 L119,795.99 L119.5,801.3 L124.3,801.3 L125.15,792.48 L126,801.3 L133,801.3 L134,786.97 L135,800.23 L136,788.82 L137,801.3 L139,801.3 L140,800.26 L141,801.09 L142,793.87 L143,801.3 L147.5,801.3 L148.55,774.8 L149.6,801.3 L151.1,801.3 L151.5,786.91 L152.3,800.31 L153.1,791.87 L153.9,801.3 L155.62,801.3 L155.66,801.19 L155.7,799.5 L155.74,797.79 L155.78,796.07 L155.82,794.33 L155.86,792.58 L155.9,790.81 L155.94,789.02 L155.98,787.23 L156,786.33 L156.02,787.2 L156.06,788.94 L156.1,790.66 L156.14,792.33 L156.18,793.97 L156.22,795.58 L156.26,797.16 L156.3,798.7 L156.34,800.2 L156.38,801.3 L157.82,801.3 L157.86,801.06 L157.9,799.32 L157.94,797.53 L157.98,795.68 L158.02,793.78 L158.06,791.83 L158.1,789.83 L158.14,787.79 L158.18,785.7 L158.22,783.57 L158.26,781.39 L158.3,779.18 L158.34,776.93 L158.38,774.94 L158.38,775.04 L158.42,775.85 L158.46,776.64 L158.5,777.42 L158.54,778.18 L158.58,778.93 L158.62,779.65 L158.66,780.37 L158.7,781.06 L158.74,781.73 L158.78,782.38 L158.82,783.02 L158.86,783.63 L158.9,784.22 L158.94,784.79 L158.98,785.34 L159.02,785.87 L159.06,786.37 L159.1,786.85 L159.14,787.27 L159.18,787.67 L159.22,788.04 L159.25,788.31 L159.26,788.09 L159.3,787.23 L159.34,786.37 L159.38,785.5 L159.42,784.62 L159.46,783.74 L159.5,782.86 L159.54,781.97 L159.58,781.07 L159.62,780.17 L159.66,779.26 L159.7,778.35 L159.74,777.44 L159.78,776.52 L159.82,775.59 L159.86,774.66 L159.9,773.72 L159.94,772.78 L159.98,771.84 L160.02,770.89 L160.06,769.93 L160.1,768.97 L160.12,768.37 L160.14,769.03 L160.18,770.7 L160.22,772.26 L160.26,773.71 L160.3,775.04 L160.34,776.26 L160.38,777.36 L160.42,778.34 L160.46,779.21 L160.5,779.96 L160.54,780.61 L160.58,781.15 L160.62,781.59 L160.66,781.94 L160.7,782.2 L160.74,782.39 L160.78,782.49 L160.82,782.54 L160.86,782.52 L160.9,782.44 L160.94,782.29 L160.98,782.09 L161,781.97 L161.02,781.72 L161.06,781.23 L161.1,780.74 L161.14,780.24 L161.18,779.75 L161.22,779.26 L161.26,778.76 L161.3,778.26 L161.34,777.77 L161.38,777.27 L161.42,776.77 L161.46,776.28 L161.5,775.78 L161.54,775.28 L161.58,774.78 L161.62,774.28 L161.66,773.78 L161.7,773.28 L161.74,772.78 L161.78,772.28 L161.82,771.78 L161.86,771.28 L161.9,770.77 L161.94,770.27 L161.98,769.77 L162.02,769.27 L162.06,768.76 L162.1,768.26 L162.14,767.66 L162.18,767.07 L162.22,766.47 L162.26,765.88 L162.3,765.28 L162.34,764.69 L162.38,764.09 L162.42,763.49 L162.46,762.89 L162.5,762.3 L162.54,761.7 L162.58,761.1 L162.62,760.5 L162.66,759.9 L162.7,759.3 L162.74,758.69 L162.78,758.09 L162.82,757.49 L162.86,756.89 L162.9,756.29 L162.94,755.68 L162.98,755.08 L163.02,754.48 L163.06,753.87 L163.1,753.27 L163.14,752.66 L163.15,752.51 L163.18,751.51 L163.22,750.17 L163.26,748.83 L163.3,747.49 L163.34,746.15 L163.38,744.8 L163.42,743.45 L163.46,742.11 L163.5,740.76 L163.54,739.4 L163.58,738.05 L163.62,736.7 L163.66,735.34 L163.7,733.98 L163.74,732.63 L163.78,731.27 L163.82,729.91 L163.86,728.55 L163.9,727.19 L163.94,725.82 L163.98,724.46 L164.02,723.1 L164.06,721.73 L164.1,720.37 L164.14,719 L164.18,717.63 L164.22,716.27 L164.25,715.24 L164.26,711.85 L164.3,698.24 L164.34,684.59 L164.35,681.18 L164.38,669.83 L164.4,662.26 L164.42,660.72 L164.46,657.65 L164.5,654.58 L164.54,651.51 L164.58,648.44 L164.62,645.37 L164.65,643.06 L164.66,642.9 L164.7,642.27 L164.74,641.64 L164.78,641.01 L164.82,640.38 L164.86,639.75 L164.9,639.12 L164.94,638.49 L164.98,637.85 L165.02,637.22 L165.06,636.59 L165.1,635.96 L165.14,635.33 L165.18,634.7 L165.22,634.07 L165.26,633.44 L165.3,632.8 L165.34,632.59 L165.38,632.38 L165.42,632.17 L165.46,631.96 L165.5,631.75 L165.54,631.54 L165.58,631.33 L165.62,631.12 L165.66,630.91 L165.7,630.7 L165.74,630.49 L165.78,630.28 L165.82,630.07 L165.86,629.86 L165.9,629.65 L165.94,629.44 L165.98,629.23 L166.02,629.02 L166.06,628.8 L166.1,628.59 L166.14,628.8 L166.18,629.02 L166.22,629.23 L166.26,629.44 L166.3,629.65 L166.34,629.86 L166.38,630.07 L166.42,630.28 L166.46,630.49 L166.5,630.7 L166.54,630.91 L166.58,631.12 L166.62,631.33 L166.66,631.54 L166.7,631.75 L166.74,631.96 L166.78,632.17 L166.82,632.38 L166.86,632.59 L166.9,632.8 L166.94,633.43 L166.98,634.06 L167.02,634.7 L167.06,635.33 L167.1,635.96 L167.14,636.59 L167.18,637.22 L167.22,637.85 L167.26,638.48 L167.3,639.11 L167.34,639.74 L167.38,640.38 L167.42,641.01 L167.46,641.64 L167.5,642.27 L167.54,642.9 L167.55,643.06 L167.58,645.36 L167.62,648.43 L167.66,651.5 L167.7,654.57 L167.74,657.64 L167.78,660.71 L167.8,662.25 L167.82,669.81 L167.85,681.15 L167.86,684.56 L167.9,698.17 L167.94,711.72 L167.95,715.09 L167.98,716.11 L168.02,717.46 L168.06,718.81 L168.1,720.16 L168.14,721.51 L168.18,722.86 L168.22,724.2 L168.26,725.55 L168.3,726.89 L168.34,728.22 L168.38,729.56 L168.42,730.89 L168.46,732.22 L168.5,733.54 L168.54,734.86 L168.58,736.18 L168.62,737.5 L168.66,738.8 L168.7,740.11 L168.74,741.41 L168.78,742.71 L168.82,744 L168.86,745.28 L168.9,746.56 L168.94,747.83 L168.98,749.1 L169.02,750.35 L169.05,751.29 L169.06,751.43 L169.1,751.99 L169.14,752.54 L169.18,753.09 L169.22,753.64 L169.26,754.18 L169.3,754.73 L169.34,755.27 L169.38,755.81 L169.42,756.34 L169.46,756.88 L169.5,757.41 L169.54,757.94 L169.58,758.46 L169.62,758.98 L169.66,759.5 L169.7,760.02 L169.74,760.53 L169.78,761.04 L169.82,761.55 L169.86,762.05 L169.9,762.55 L169.94,763.05 L169.98,763.54 L170.02,764.03 L170.06,764.52 L170.1,765 L170.14,765.4 L170.18,765.8 L170.22,766.2 L170.26,766.59 L170.3,766.97 L170.34,767.36 L170.38,767.74 L170.42,768.12 L170.46,768.49 L170.5,768.86 L170.54,769.23 L170.58,769.6 L170.6,769.78 L170.62,769.96 L170.66,770.31 L170.7,770.67 L170.74,771.01 L170.78,771.36 L170.82,771.7 L170.86,772.04 L170.9,772.37 L170.94,772.7 L170.98,773.02 L171.02,773.34 L171.06,773.66 L171.1,773.97 L171.14,774.28 L171.18,774.58 L171.22,774.88 L171.26,775.17 L171.3,775.46 L171.34,775.72 L171.38,775.98 L171.42,776.23 L171.46,776.48 L171.5,776.73 L171.54,776.97 L171.58,777.21 L171.62,777.44 L171.66,777.67 L171.7,777.89 L171.74,778.11 L171.78,778.32 L171.82,778.53 L171.86,778.74 L171.9,778.94 L171.94,779.14 L171.98,779.33 L172.02,779.52 L172.06,779.7 L172.1,779.88 L172.14,780.05 L172.18,780.22 L172.22,780.39 L172.26,780.55 L172.3,780.7 L172.3,780.7 L172.34,780.57 L172.38,780.43 L172.42,780.27 L172.46,780.1 L172.5,779.91 L172.54,779.7 L172.58,779.49 L172.62,779.25 L172.66,779.01 L172.7,778.74 L172.74,778.47 L172.78,778.18 L172.82,777.88 L172.86,777.56 L172.9,777.23 L172.94,776.89 L172.98,776.53 L173.02,776.17 L173.06,775.79 L173.1,775.4 L173.14,774.98 L173.15,774.87 L173.18,775.33 L173.22,775.93 L173.26,776.53 L173.3,777.13 L173.34,777.73 L173.38,778.33 L173.42,778.93 L173.46,779.52 L173.5,780.11 L173.54,780.7 L173.58,781.28 L173.6,781.58 L173.62,781.87 L173.64,782.16 L173.66,782.45 L173.68,782.74 L173.7,783.03 L173.72,783.32 L173.74,783.61 L173.76,783.89 L173.78,784.18 L173.8,784.47 L173.82,784.75 L173.84,785.04 L173.86,785.32 L173.88,785.61 L173.9,785.89 L173.92,786.17 L173.94,786.45 L173.96,786.73 L173.98,787.01 L174,787.29 L174.02,787.15 L174.04,787 L174.06,786.85 L174.08,786.7 L174.1,786.55 L174.12,786.39 L174.14,786.24 L174.16,786.08 L174.18,785.92 L174.2,785.75 L174.22,785.59 L174.24,785.42 L174.26,785.25 L174.28,785.08 L174.3,784.91 L174.32,784.73 L174.34,784.56 L174.36,784.38 L174.38,784.2 L174.4,784.02 L174.42,783.84 L174.44,783.65 L174.46,783.46 L174.48,783.28 L174.5,783.09 L174.52,782.89 L174.54,782.7 L174.56,782.51 L174.58,782.31 L174.6,782.11 L174.62,781.91 L174.64,781.71 L174.66,781.51 L174.68,781.31 L174.7,781.1 L174.72,780.89 L174.74,780.68 L174.75,780.58 L174.76,780.71 L174.78,780.96 L174.8,781.21 L174.82,781.46 L174.84,781.71 L174.86,781.97 L174.88,782.22 L174.9,782.47 L174.92,782.71 L174.94,782.96 L174.96,783.21 L174.98,783.46 L175,783.71 L175.02,783.95 L175.04,784.2 L175.06,784.44 L175.08,784.69 L175.1,784.93 L175.12,785.17 L175.14,785.42 L175.16,785.66 L175.18,785.9 L175.2,786.14 L175.22,786.38 L175.24,786.62 L175.26,786.86 L175.28,787.1 L175.3,787.33 L175.32,787.57 L175.34,787.81 L175.36,788.04 L175.38,788.28 L175.4,788.51 L175.42,788.74 L175.44,788.97 L175.46,789.2 L175.48,789.44 L175.5,789.66 L175.52,789.37 L175.54,789.07 L175.56,788.77 L175.58,788.47 L175.6,788.17 L175.62,787.85 L175.64,787.54 L175.66,787.22 L175.68,786.9 L175.7,786.57 L175.72,786.25 L175.74,785.92 L175.76,785.59 L175.78,785.26 L175.8,784.93 L175.82,784.59 L175.84,784.25 L175.86,783.92 L175.88,783.58 L175.9,783.23 L175.92,782.89 L175.94,782.55 L175.96,782.2 L175.98,781.85 L176,781.5 L176.02,781.15 L176.04,780.8 L176.06,780.45 L176.08,780.09 L176.1,779.74 L176.12,779.37 L176.14,779.01 L176.16,778.64 L176.18,778.28 L176.2,777.91 L176.22,777.54 L176.24,777.17 L176.25,776.99 L176.26,777.16 L176.28,777.5 L176.3,777.84 L176.32,778.18 L176.34,778.52 L176.36,778.86 L176.38,779.19 L176.4,779.53 L176.42,779.86 L176.44,780.19 L176.46,780.51 L176.48,780.84 L176.5,781.16 L176.52,781.48 L176.54,781.8 L176.56,782.12 L176.58,782.43 L176.6,782.74 L176.62,783.05 L176.64,783.36 L176.66,783.66 L176.68,783.96 L176.7,784.26 L176.72,784.56 L176.74,784.86 L176.76,785.15 L176.78,785.44 L176.8,785.72 L176.82,786.01 L176.84,786.29 L176.86,786.57 L176.88,786.84 L176.9,787.12 L176.92,787.39 L176.94,787.65 L176.96,787.92 L176.98,788.18 L177,788.43 L177.02,788.23 L177.04,788.02 L177.06,787.82 L177.08,787.61 L177.1,787.4 L177.12,787.2 L177.14,786.99 L177.16,786.78 L177.18,786.57 L177.2,786.36 L177.22,786.15 L177.24,785.94 L177.26,785.73 L177.28,785.52 L177.3,785.31 L177.32,785.1 L177.34,784.89 L177.36,784.67 L177.38,784.46 L177.4,784.25 L177.42,784.04 L177.44,783.82 L177.46,783.61 L177.48,783.39 L177.5,783.18 L177.52,782.96 L177.54,782.75 L177.56,782.53 L177.58,782.32 L177.6,782.1 L177.62,781.89 L177.64,781.67 L177.66,781.45 L177.68,781.23 L177.7,781.02 L177.72,780.8 L177.74,780.58 L177.76,780.36 L177.78,780.14 L177.8,779.92 L177.82,779.7 L177.84,779.48 L177.86,779.26 L177.88,779.04 L177.9,778.82 L177.92,778.96 L177.94,779.09 L177.96,779.23 L177.98,779.36 L178,779.49 L178.02,779.61 L178.04,779.74 L178.06,779.87 L178.08,779.99 L178.1,780.11 L178.12,780.23 L178.16,780.46 L178.2,780.69 L178.24,780.91 L178.28,781.12 L178.32,781.32 L178.36,781.52 L178.4,781.71 L178.44,781.89 L178.48,782.07 L178.52,782.23 L178.56,782.39 L178.6,782.54 L178.64,782.65 L178.68,782.76 L178.72,782.85 L178.76,782.94 L178.8,783.02 L178.8,783.02 L178.84,782.81 L178.88,782.61 L178.92,782.4 L178.96,782.18 L179,781.97 L179.04,781.75 L179.08,781.53 L179.12,781.31 L179.16,781.08 L179.2,780.85 L179.24,780.62 L179.28,780.39 L179.32,780.15 L179.36,779.91 L179.4,779.67 L179.44,779.42 L179.48,779.17 L179.52,778.92 L179.56,778.67 L179.6,778.42 L179.64,778.16 L179.68,777.9 L179.72,777.63 L179.76,777.36 L179.8,777.09 L179.84,776.82 L179.88,776.55 L179.92,776.27 L179.96,775.99 L180,775.71 L180.04,775.42 L180.08,775.14 L180.12,774.84 L180.16,774.55 L180.2,774.26 L180.24,773.96 L180.28,773.66 L180.32,773.35 L180.36,773.05 L180.4,772.74 L180.44,772.41 L180.48,772.07 L180.52,771.73 L180.56,771.39 L180.6,771.05 L180.64,770.7 L180.68,770.35 L180.72,770 L180.76,769.65 L180.8,769.29 L180.84,768.93 L180.88,768.56 L180.92,768.2 L180.96,767.83 L181,767.46 L181.04,767.09 L181.08,766.71 L181.1,766.52 L181.12,766.34 L181.16,765.95 L181.2,765.57 L181.24,765.19 L181.28,764.8 L181.32,764.41 L181.36,764.02 L181.4,763.62 L181.44,763.23 L181.48,762.83 L181.52,762.43 L181.56,762.02 L181.6,761.62 L181.64,761.14 L181.68,760.65 L181.72,760.17 L181.76,759.68 L181.8,759.18 L181.84,758.69 L181.88,758.19 L181.92,757.69 L181.96,757.19 L182,756.68 L182.04,756.17 L182.08,755.66 L182.12,755.15 L182.16,754.63 L182.2,754.12 L182.24,753.6 L182.28,753.07 L182.32,752.55 L182.36,752.02 L182.4,751.49 L182.44,750.96 L182.48,750.43 L182.52,749.89 L182.56,749.36 L182.6,748.82 L182.64,748.28 L182.65,748.14 L182.68,747.24 L182.72,746.03 L182.76,744.81 L182.8,743.58 L182.84,742.34 L182.88,741.1 L182.92,739.85 L182.96,738.59 L183,737.33 L183.04,736.06 L183.08,734.78 L183.12,733.5 L183.16,732.21 L183.2,730.92 L183.24,729.63 L183.28,728.33 L183.32,727.02 L183.36,725.71 L183.4,724.4 L183.44,723.08 L183.48,721.76 L183.52,720.44 L183.56,719.11 L183.6,717.79 L183.64,716.45 L183.68,715.12 L183.72,713.78 L183.75,712.78 L183.76,709.45 L183.8,696.02 L183.84,682.47 L183.85,679.08 L183.88,667.77 L183.9,660.21 L183.92,658.68 L183.96,655.62 L184,652.55 L184.04,649.48 L184.08,646.41 L184.12,643.35 L184.15,641.04 L184.16,640.89 L184.2,640.25 L184.24,639.62 L184.28,638.99 L184.32,638.36 L184.36,637.73 L184.4,637.1 L184.44,636.47 L184.48,635.84 L184.52,635.21 L184.56,634.58 L184.6,633.95 L184.64,633.32 L184.68,632.68 L184.72,632.05 L184.76,631.42 L184.8,630.79 L184.84,630.58 L184.88,630.37 L184.92,630.16 L184.96,629.95 L185,629.74 L185.04,629.53 L185.08,629.32 L185.12,629.11 L185.16,628.9 L185.2,628.69 L185.24,628.48 L185.28,628.27 L185.32,628.06 L185.36,627.85 L185.4,627.64 L185.44,627.43 L185.48,627.22 L185.52,627.01 L185.56,626.8 L185.6,626.58 L185.64,626.8 L185.68,627.01 L185.72,627.22 L185.76,627.43 L185.8,627.64 L185.84,627.85 L185.88,628.06 L185.92,628.27 L185.96,628.48 L186,628.69 L186.04,628.9 L186.08,629.11 L186.12,629.32 L186.16,629.53 L186.2,629.74 L186.24,629.95 L186.28,630.16 L186.32,630.37 L186.36,630.58 L186.4,630.79 L186.44,631.42 L186.48,632.05 L186.52,632.68 L186.56,633.32 L186.6,633.95 L186.64,634.58 L186.68,635.21 L186.72,635.84 L186.76,636.47 L186.8,637.1 L186.84,637.73 L186.88,638.36 L186.92,638.99 L186.96,639.62 L187,640.25 L187.04,640.88 L187.05,641.04 L187.08,643.34 L187.12,646.41 L187.16,649.48 L187.2,652.55 L187.24,655.61 L187.28,658.68 L187.3,660.21 L187.32,667.76 L187.35,679.07 L187.36,682.46 L187.4,696 L187.44,709.42 L187.45,712.74 L187.48,713.74 L187.52,715.08 L187.56,716.41 L187.6,717.74 L187.64,719.06 L187.68,720.38 L187.72,721.7 L187.76,723.02 L187.8,724.33 L187.84,725.63 L187.88,726.94 L187.92,728.23 L187.96,729.53 L188,730.82 L188.04,732.1 L188.08,733.38 L188.12,734.65 L188.16,735.92 L188.2,737.18 L188.24,738.43 L188.28,739.68 L188.32,740.91 L188.36,742.15 L188.4,743.37 L188.44,744.58 L188.48,745.79 L188.52,746.98 L188.55,747.87 L188.56,748 L188.6,748.53 L188.64,749.06 L188.68,749.59 L188.72,750.11 L188.76,750.64 L188.8,751.15 L188.84,751.67 L188.88,752.19 L188.92,752.7 L188.96,753.21 L189,753.71 L189.04,754.22 L189.08,754.72 L189.12,755.22 L189.16,755.71 L189.2,756.21 L189.24,756.7 L189.28,757.18 L189.32,757.67 L189.36,758.15 L189.4,758.63 L189.44,759.1 L189.48,759.58 L189.52,760.04 L189.56,760.51 L189.6,760.97 L189.64,761.36 L189.68,761.75 L189.72,762.13 L189.76,762.51 L189.8,762.89 L189.84,763.26 L189.88,763.63 L189.92,764 L189.96,764.37 L190,764.74 L190.04,765.1 L190.08,765.46 L190.12,765.82 L190.16,766.17 L190.2,766.52 L190.24,766.87 L190.28,767.21 L190.32,767.56 L190.36,767.9 L190.4,768.23 L190.44,768.57 L190.48,768.9 L190.52,769.22 L190.56,769.55 L190.6,769.87 L190.64,770.19 L190.68,770.51 L190.72,770.82 L190.76,771.13 L190.8,771.43 L190.84,771.72 L190.88,772 L190.92,772.27 L190.96,772.55 L191,772.82 L191.04,773.09 L191.08,773.35 L191.12,773.62 L191.16,773.88 L191.2,774.14 L191.24,774.39 L191.28,774.64 L191.3,774.77 L191.44,774.75 L191.48,774.72 L191.52,774.67 L191.56,774.62 L191.6,774.56 L191.64,774.48 L191.68,774.4 L191.72,774.3 L191.76,774.19 L191.8,774.07 L191.84,773.94 L191.88,773.81 L191.92,773.66 L191.96,773.5 L192,773.33 L192.04,773.15 L192.08,772.96 L192.12,772.76 L192.15,772.6 L192.16,772.77 L192.2,773.44 L192.24,774.11 L192.28,774.77 L192.32,775.44 L192.36,776.1 L192.4,776.77 L192.44,777.43 L192.48,778.1 L192.52,778.76 L192.56,779.42 L192.6,780.08 L192.64,780.71 L192.68,781.35 L192.72,781.98 L192.76,782.61 L192.8,783.24 L192.84,783.87 L192.88,784.5 L192.92,785.13 L192.96,785.75 L193,783.11 L193.04,783.08 L193.08,783.04 L193.12,783 L193.16,782.95 L193.2,782.9 L193.24,782.84 L193.28,782.79 L193.32,782.72 L193.36,782.66 L193.4,782.59 L193.44,782.52 L193.48,782.44 L193.52,782.36 L193.56,782.27 L193.6,782.19 L193.64,782.1 L193.68,782 L193.72,781.91 L193.76,781.81 L193.8,781.7 L193.84,781.6 L193.88,781.49 L193.92,781.38 L193.96,781.26 L194,781.14 L194.04,781.7 L194.08,782.26 L194.12,782.82 L194.16,783.38 L194.2,783.93 L194.24,784.49 L194.28,785.05 L194.32,785.6 L194.36,786.16 L194.4,786.71 L194.44,787.27 L194.48,787.82 L194.52,788.37 L194.56,788.93 L194.6,789.48 L194.64,790.03 L194.68,790.58 L194.72,791.13 L194.76,791.68 L194.8,792.23 L194.84,792.77 L194.88,793.32 L194.92,793.87 L194.96,794.41 L195,791.83 L195.04,791.67 L195.08,791.52 L195.12,791.36 L195.16,791.2 L195.2,791.04 L195.24,790.87 L195.28,790.7 L195.32,790.53 L195.36,790.35 L195.4,790.17 L195.44,789.99 L195.48,789.81 L195.52,789.62 L195.56,789.44 L195.6,789.24 L195.64,789.03 L195.68,788.82 L195.72,788.6 L195.76,788.38 L195.8,788.17 L195.84,787.95 L195.88,787.73 L195.92,787.5 L195.96,787.28 L196,787.06 L196.04,787.46 L196.08,787.87 L196.12,788.28 L196.16,788.68 L196.2,789.09 L196.24,789.5 L196.28,789.9 L196.32,790.3 L196.36,790.71 L196.4,791.11 L196.44,791.51 L196.48,791.91 L196.52,792.32 L196.56,792.72 L196.6,793.11 L196.64,793.51 L196.68,793.91 L196.72,794.31 L196.76,794.71 L196.8,795.1 L196.84,795.5 L196.88,795.89 L196.92,796.29 L196.96,796.68 L197,797.07 L197.04,796.85 L197.08,796.62 L197.12,796.4 L197.16,796.17 L197.2,795.95 L197.24,795.72 L197.28,795.49 L197.32,795.25 L197.36,795.02 L197.4,794.79 L197.44,794.55 L197.48,794.32 L197.52,794.08 L197.56,793.84 L197.6,793.6 L198.25,789.59 L199.5,797.57 L200,789.58 L200.2,786.65 L200.24,786.06 L200.28,785.47 L200.32,784.88 L200.36,784.28 L200.4,783.69 L200.44,783.09 L200.48,782.49 L200.52,781.89 L200.56,781.29 L200.6,780.69 L200.64,780.09 L200.68,779.49 L200.72,778.89 L200.75,778.43 L200.76,778.58 L200.8,779.15 L200.84,779.73 L200.88,780.3 L200.92,780.88 L200.96,781.45 L201,782.02 L201.04,782.58 L201.08,783.15 L201.12,783.71 L201.16,784.27 L201.2,784.83 L201.24,785.38 L201.28,785.93 L201.32,786.48 L201.36,787.03 L201.4,787.58 L201.44,788.12 L201.48,788.66 L201.5,788.93 L201.52,788.71 L201.56,788.28 L201.6,787.84 L201.64,787.41 L201.68,786.97 L201.72,786.53 L201.76,786.09 L201.8,785.66 L201.84,785.22 L201.88,784.78 L201.92,784.34 L201.96,783.9 L202,783.46 L202.04,783.01 L202.08,782.57 L202.12,782.13 L202.16,781.69 L202.2,781.24 L202.24,780.79 L202.25,780.67 L202.28,780.98 L202.32,781.38 L202.36,781.78 L202.4,782.18 L202.44,782.58 L202.48,782.97 L202.52,783.36 L202.56,783.75 L202.6,784.13 L202.64,784.51 L202.68,784.89 L202.72,785.26 L202.76,785.63 L202.8,785.99 L202.84,786.35 L202.88,786.71 L202.92,787.06 L202.96,787.41 L203,777.39 L203.04,777.03 L203.08,776.66 L203.12,776.3 L203.16,775.93 L203.2,775.57 L203.24,775.2 L203.28,774.83 L203.32,774.47 L203.36,774.1 L203.4,773.73 L203.44,773.37 L203.48,773 L203.52,772.63 L203.56,772.27 L203.6,771.9 L203.64,771.53 L203.68,771.17 L203.72,770.8 L203.76,770.43 L203.8,770.06 L203.84,769.7 L203.88,769.37 L203.88,769.39 L203.92,769.53 L203.96,769.67 L204,769.81 L204.04,769.95 L204.08,770.08 L204.12,770.22 L204.16,770.35 L204.2,770.48 L204.24,770.61 L204.28,770.73 L204.32,770.86 L204.36,770.98 L204.4,771.1 L204.44,771.22 L204.48,771.33 L204.52,771.44 L204.56,771.56 L204.6,771.66 L204.64,771.77 L204.68,771.88 L204.72,771.98 L204.75,772.05 L204.84,771.99 L204.88,771.96 L204.92,771.93 L204.96,771.89 L205,771.86 L205.04,771.82 L205.08,771.79 L205.12,771.75 L205.16,771.71 L205.2,771.66 L205.24,771.6 L205.28,771.54 L205.32,771.48 L205.36,771.41 L205.4,771.35 L205.44,771.28 L205.48,771.2 L205.52,771.13 L205.56,771.05 L205.6,770.97 L205.62,770.92 L205.64,770.9 L205.68,770.85 L205.72,770.8 L205.76,770.74 L205.8,770.69 L205.84,770.62 L205.88,770.56 L205.92,770.49 L205.96,770.42 L206,770.35 L206.04,770.27 L206.08,770.19 L206.12,770.1 L206.16,770.02 L206.2,769.92 L206.24,769.83 L206.28,769.73 L206.32,769.63 L206.36,769.53 L206.4,769.42 L206.44,769.31 L206.48,769.19 L206.5,769.13 L206.52,769.06 L206.56,768.91 L206.6,768.76 L206.64,768.6 L206.68,768.44 L206.72,768.28 L206.76,768.11 L206.8,767.95 L206.84,767.77 L206.88,767.6 L206.92,767.42 L206.96,767.24 L207,767.05 L207.04,766.85 L207.08,766.64 L207.12,766.43 L207.16,766.22 L207.2,766 L207.24,765.77 L207.28,765.55 L207.32,765.32 L207.36,765.08 L207.4,764.85 L207.44,764.6 L207.48,764.36 L207.52,764.11 L207.56,763.86 L207.6,763.6 L207.64,763.34 L207.68,763.08 L207.72,762.81 L207.76,762.54 L207.8,762.26 L207.84,761.98 L207.88,761.7 L207.92,761.41 L207.96,761.12 L208,760.83 L208.04,760.53 L208.08,760.23 L208.12,759.93 L208.16,759.62 L208.2,759.31 L208.24,758.93 L208.28,758.55 L208.32,758.17 L208.36,757.78 L208.4,757.38 L208.44,756.98 L208.48,756.58 L208.52,756.17 L208.56,755.76 L208.6,755.34 L208.64,754.92 L208.68,754.5 L208.72,754.07 L208.76,753.64 L208.8,753.2 L208.84,752.76 L208.88,752.31 L208.92,751.86 L208.96,751.41 L209,750.95 L209.04,750.49 L209.08,750.03 L209.12,749.56 L209.16,749.09 L209.2,748.62 L209.24,748.14 L209.25,748.02 L209.28,747.21 L209.32,746.11 L209.36,744.99 L209.4,743.87 L209.44,742.73 L209.48,741.58 L209.52,740.42 L209.56,739.24 L209.6,738.06 L209.64,736.86 L209.68,735.66 L209.72,734.45 L209.76,733.22 L209.8,731.99 L209.84,730.75 L209.88,729.5 L209.92,728.25 L209.96,726.99 L210,725.72 L210.04,724.45 L210.08,723.17 L210.12,721.88 L210.16,720.59 L210.2,719.29 L210.24,717.99 L210.28,716.69 L210.32,715.38 L210.35,714.39 L210.36,711.12 L210.4,697.83 L210.44,684.37 L210.45,680.99 L210.48,669.71 L210.5,662.18 L210.52,660.65 L210.56,657.59 L210.6,654.52 L210.64,651.46 L210.68,648.39 L210.72,645.33 L210.75,643.03 L210.76,642.87 L210.8,642.24 L210.84,641.61 L210.88,640.98 L210.92,640.35 L210.96,639.72 L211,639.09 L211.04,638.46 L211.08,637.83 L211.12,637.2 L211.16,636.57 L211.2,635.94 L211.24,635.31 L211.28,634.68 L211.32,634.04 L211.36,633.41 L211.4,632.78 L211.44,632.57 L211.48,632.36 L211.52,632.15 L211.56,631.94 L211.6,631.73 L211.64,631.52 L211.68,631.31 L211.72,631.1 L211.76,630.89 L211.8,630.68 L211.84,630.47 L211.88,630.26 L211.92,630.05 L211.96,629.84 L212,629.63 L212.04,629.42 L212.08,629.21 L212.12,629 L212.16,628.79 L212.2,628.58 L212.24,628.79 L212.28,629 L212.32,629.21 L212.36,629.42 L212.4,629.63 L212.44,629.84 L212.48,630.05 L212.52,630.26 L212.56,630.47 L212.6,630.68 L212.64,630.89 L212.68,631.1 L212.72,631.31 L212.76,631.52 L212.8,631.73 L212.84,631.94 L212.88,632.15 L212.92,632.37 L212.96,632.58 L213,632.79 L213.04,633.42 L213.08,634.05 L213.12,634.68 L213.16,635.31 L213.2,635.94 L213.24,636.57 L213.28,637.2 L213.32,637.83 L213.36,638.46 L213.4,639.09 L213.44,639.72 L213.48,640.36 L213.52,640.99 L213.56,641.62 L213.6,642.25 L213.64,642.88 L213.65,643.04 L213.68,645.34 L213.72,648.4 L213.76,651.47 L213.8,654.54 L213.84,657.6 L213.88,660.67 L213.9,662.2 L213.92,669.74 L213.95,681.04 L213.96,684.43 L214,697.94 L214.04,711.3 L214.05,714.61 L214.08,715.61 L214.12,716.94 L214.16,718.27 L214.2,719.59 L214.24,720.91 L214.28,722.23 L214.32,723.54 L214.36,724.85 L214.4,726.15 L214.44,727.45 L214.48,728.75 L214.52,730.04 L214.56,731.33 L214.6,732.61 L214.64,733.89 L214.68,735.16 L214.72,736.43 L214.76,737.69 L214.8,738.94 L214.84,740.19 L214.88,741.43 L214.92,742.67 L214.96,743.89 L215,745.11 L215.04,746.32 L215.08,747.52 L215.12,748.71 L215.15,749.6 L215.16,749.73 L215.2,750.27 L215.24,750.8 L215.28,751.34 L215.32,751.87 L215.36,752.39 L215.4,752.92 L215.44,753.45 L215.48,753.97 L215.52,754.49 L215.56,755.01 L215.6,755.52 L215.64,756.04 L215.68,756.55 L215.72,757.06 L215.76,757.57 L215.8,758.07 L215.84,758.58 L215.88,759.08 L215.92,759.58 L215.96,760.07 L216,760.57 L216.04,761.06 L216.08,761.55 L216.12,762.04 L216.16,762.52 L216.2,763 L216.24,763.41 L216.28,763.82 L216.32,764.22 L216.36,764.62 L216.4,765.02 L216.44,765.42 L216.48,765.82 L216.52,766.21 L216.56,766.61 L216.6,767 L216.64,767.39 L216.68,767.77 L216.72,768.16 L216.76,768.54 L216.8,768.92 L216.84,769.3 L216.88,769.68 L216.92,770.06 L216.96,770.43 L217,770.8 L217.04,771.17 L217.08,771.53 L217.12,771.9 L217.16,772.26 L217.2,772.62 L217.24,772.98 L217.28,773.33 L217.32,773.69 L217.36,774.04 L217.4,774.39 L217.44,774.71 L217.48,775.04 L217.52,775.36 L217.56,775.68 L217.6,776 L217.64,776.31 L217.68,776.62 L217.72,776.94 L217.76,777.25 L217.8,777.55 L217.84,777.86 L217.88,778.16 L217.92,778.46 L217.96,778.76 L218,779.06 L218.04,779.36 L218.08,779.65 L218.12,779.94 L218.16,780.23 L218.2,780.52 L218.24,780.81 L218.28,781.09 L218.32,781.37 L218.36,781.65 L218.4,781.93 L218.44,782.2 L218.48,782.48 L218.52,782.75 L218.56,783.02 L218.6,783.28 L218.64,783.55 L218.68,783.81 L218.72,784.07 L218.76,784.33 L218.8,784.59 L218.84,784.84 L218.88,785.1 L218.92,785.35 L218.96,785.6 L219,785.85 L219.04,786.09 L219.08,786.33 L219.12,786.57 L219.16,786.81 L219.2,787.05 L219.24,787.26 L219.28,787.46 L219.32,787.67 L219.36,787.87 L219.4,788.07 L219.44,788.27 L219.48,788.47 L219.52,788.67 L219.56,788.86 L219.6,789.06 L219.64,789.25 L219.68,789.44 L219.72,789.63 L219.76,789.82 L219.8,790.01 L219.8,790.01 L219.84,789.68 L219.88,789.34 L219.92,788.99 L219.96,788.62 L220,788.25 L220.04,787.85 L220.08,787.45 L220.12,787.04 L220.16,786.61 L220.2,786.18 L220.24,785.73 L220.28,785.27 L220.32,784.8 L220.36,784.33 L220.4,783.84 L220.44,783.34 L220.48,782.84 L220.52,782.32 L220.56,781.8 L220.6,781.27 L220.64,780.73 L220.68,780.18 L220.72,779.62 L220.76,779.06 L220.8,778.49 L220.83,778.01 L220.84,778.12 L220.88,778.74 L220.92,779.36 L220.96,779.99 L221,780.61 L221.04,781.23 L221.08,781.85 L221.12,782.47 L221.16,783.1 L221.2,783.72 L221.24,784.34 L221.28,784.96 L221.32,785.58 L221.36,786.2 L221.4,786.82 L221.44,787.44 L221.48,788.06 L221.52,788.68 L221.56,789.29 L221.6,789.91 L221.64,790.53 L221.68,791.15 L221.72,791.76 L221.76,792.38 L221.8,793 L221.84,793.61 L221.87,794.02 L221.88,793.82 L221.92,793.2 L221.96,792.56 L222,791.93 L222.04,791.28 L222.08,790.62 L222.12,789.96 L222.16,789.29 L222.2,788.61 L222.24,787.91 L222.28,787.21 L222.32,786.5 L222.36,785.78 L222.4,785.06 L222.44,784.34 L222.48,783.61 L222.52,782.88 L222.56,782.15 L222.6,781.41 L222.64,780.67 L222.68,779.92 L222.72,779.18 L222.76,778.42 L222.8,777.67 L222.84,776.92 L222.88,776.16 L222.9,775.78 L222.92,776.18 L222.96,776.98 L223,777.78 L223.04,778.59 L223.08,779.39 L223.12,780.19 L223.16,780.99 L223.2,781.79 L223.24,782.59 L223.28,783.38 L223.32,784.18 L223.36,784.97 L223.4,785.77 L223.44,786.56 L223.48,787.35 L223.52,788.14 L223.56,788.93 L223.6,789.72 L223.64,790.51 L223.68,791.3 L223.72,792.08 L223.76,792.87 L223.8,793.65 L223.84,794.44 L223.88,795.22 L223.92,796 L223.93,796.26 L223.96,795.88 L224,795.31 L224.04,794.74 L224.08,794.17 L224.12,793.59 L224.16,793.02 L224.2,792.44 L224.97,780.91 L226,790.99 L226.94,776 L227.2,780.25 L227.88,791.34 L228.82,775.42 L229.76,788.62 L230.7,771.86 L231.64,790.3 L232.58,777.55 L233.52,790.84 L234.46,779.47 L235.4,791.86 L237.2,801.3 L237.9,789.98 L238.6,799.69 L239.3,783.95 L240,801.3 L241.9,794.94 L242.73,794.32 L243.56,792.04 L244.39,786.97 L245.22,793.03 L246.05,792.8 L246.88,791.43 L247.71,794.48 L248.54,793.85 L249.37,789.94 L250.2,794.98 L251.1,801.3 L251.55,767.99 L252,801.3 L252.5,801.3 L253.5,777.99 L254.5,801.3 L257,801.3 L257.75,790.59 L258.5,801.3 L261.5,801.3 L262.38,787.71 L263.25,800.25 L264.12,784 L265,801.3 L268,801.3 L268.75,791.62 L269.5,801.3 L270.25,785 L271,801.3 L272.5,801.3 L273.25,790.6 L274,801.3 L276.5,801.3 L277.25,792.4 L278,801.3 L280,801.3 L281.1,791.5 L282.2,801.3 L286.3,801.3 L287.1,794.9 L287.9,801.3 L291.7,801.3 L292.6,789.2 L293.5,801.3 L294,801.3 L294.88,795.62 L295.75,801.3 L296.62,788.8 L297.5,801.3 L305.9,801.3 L306.65,777.5 L307.4,801.3 L308.3,793.7 L309.2,801.3 L312.6,801.3 L313.15,797 L313.7,801.3 L315.3,801.3 L316.2,792 L317.1,801.3 L317.8,801.3 L318.6,798.7 L319.4,801.3 L323.2,801.3 L324.1,798 L325,801.3 L326.1,779 L327.2,801.3 L329.5,801.3 L330,800 L330.5,801.3 L338,801.3 L339.15,791 L340.3,801.3 L343,801.3 L344.12,785.9 L345.25,801.3 L346.38,788.22 L347.5,801.3 L354.2,801.3 L355.03,786.2 L355.87,799.59 L356.7,791.1 L357.53,801.01 L358.37,784.7 L359.2,801.3 L365.5,801.3" stroke="#000" stroke-width="1.5"/>
</g>
<line x1="46.5" y1="564.5" x2="46.5" y2="801.3" stroke="#000" stroke-width="1.1"/>
<line x1="46.5" y1="801.3" x2="363.5" y2="801.3" stroke="#000" stroke-width="1.1"/>
<line x1="207.5" y1="628.6" x2="269" y2="628.6" stroke="#000" stroke-width="1"/>
<line x1="205.5" y1="769.8" x2="271" y2="769.8" stroke="#000" stroke-width="1"/>
<line x1="244" y1="636.5" x2="244" y2="690.3" stroke="#000" stroke-width="1.0"/>
<line x1="244" y1="707.5" x2="244" y2="761.9" stroke="#000" stroke-width="1.0"/>
<path d="M244,631.2 L242.25,637 L245.75,637 Z" fill="#000"/>
<path d="M244,767.2 L242.25,761.4 L245.75,761.4 Z" fill="#000"/>
<text x="231.1" y="704" font-size="15" textLength="34.6" lengthAdjust="spacingAndGlyphs">28dB</text>
</svg>
</body></html>
